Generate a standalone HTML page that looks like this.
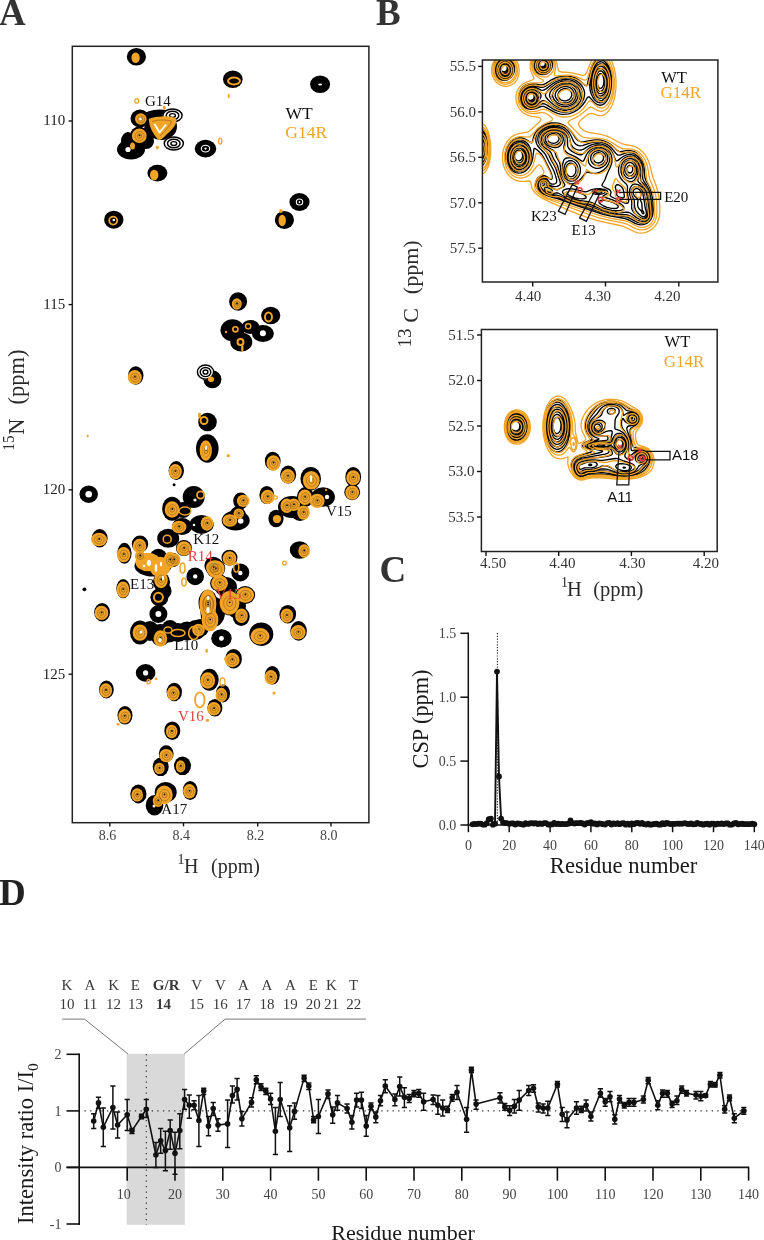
<!DOCTYPE html>
<html><head><meta charset="utf-8"><title>Figure</title>
<style>
html,body{margin:0;padding:0;background:#fff;}
body{width:764px;height:1240px;overflow:hidden;font-family:"Liberation Serif",serif;}
svg{display:block;will-change:transform;}
</style></head>
<body>
<svg width="764" height="1240" viewBox="0 0 764 1240">
<rect width="764" height="1240" fill="#fff"/>
<text x="-1.0" y="24.6" font-family="'Liberation Serif', serif" font-size="37" text-anchor="start" fill="#333" font-weight="bold" >A</text>
<text x="376.0" y="24.6" font-family="'Liberation Serif', serif" font-size="37" text-anchor="start" fill="#333" font-weight="bold" >B</text>
<text x="379.5" y="581.8" font-family="'Liberation Serif', serif" font-size="37" text-anchor="start" fill="#333" font-weight="bold" >C</text>
<text x="-1.0" y="905.1" font-family="'Liberation Serif', serif" font-size="37" text-anchor="start" fill="#222" font-weight="bold" >D</text>
<rect x="72.3" y="46.3" width="296.6" height="776.4" fill="none" stroke="#222" stroke-width="1.5"/>
<line x1="109.8" y1="822.7" x2="109.8" y2="826.4" stroke="#111" stroke-width="1.4" />
<text x="107.6" y="839.5" font-family="'Liberation Serif', serif" font-size="14" text-anchor="middle" fill="#444" font-weight="normal" >8.6</text>
<line x1="183.5" y1="822.7" x2="183.5" y2="826.4" stroke="#111" stroke-width="1.4" />
<text x="181.3" y="839.5" font-family="'Liberation Serif', serif" font-size="14" text-anchor="middle" fill="#444" font-weight="normal" >8.4</text>
<line x1="257.7" y1="822.7" x2="257.7" y2="826.4" stroke="#111" stroke-width="1.4" />
<text x="255.5" y="839.5" font-family="'Liberation Serif', serif" font-size="14" text-anchor="middle" fill="#444" font-weight="normal" >8.2</text>
<line x1="331.0" y1="822.7" x2="331.0" y2="826.4" stroke="#111" stroke-width="1.4" />
<text x="328.8" y="839.5" font-family="'Liberation Serif', serif" font-size="14" text-anchor="middle" fill="#444" font-weight="normal" >8.0</text>
<line x1="68.6" y1="121.0" x2="72.3" y2="121.0" stroke="#111" stroke-width="1.4" />
<text x="65.3" y="125.3" font-family="'Liberation Serif', serif" font-size="15" text-anchor="end" fill="#222" font-weight="normal" >110</text>
<line x1="68.6" y1="304.6" x2="72.3" y2="304.6" stroke="#111" stroke-width="1.4" />
<text x="65.3" y="308.9" font-family="'Liberation Serif', serif" font-size="15" text-anchor="end" fill="#222" font-weight="normal" >115</text>
<line x1="68.6" y1="489.8" x2="72.3" y2="489.8" stroke="#111" stroke-width="1.4" />
<text x="65.3" y="494.1" font-family="'Liberation Serif', serif" font-size="15" text-anchor="end" fill="#222" font-weight="normal" >120</text>
<line x1="68.6" y1="674.2" x2="72.3" y2="674.2" stroke="#111" stroke-width="1.4" />
<text x="65.3" y="678.5" font-family="'Liberation Serif', serif" font-size="15" text-anchor="end" fill="#222" font-weight="normal" >125</text>
<text x="14.0" y="450.6" font-family="'Liberation Serif', serif" font-size="17.5" text-anchor="start" fill="#2a2a2a" font-weight="normal" textLength="15" lengthAdjust="spacingAndGlyphs" transform="rotate(-90 14.0 450.6)">15</text>
<text x="23.7" y="434.8" font-family="'Liberation Serif', serif" font-size="22.5" text-anchor="start" fill="#2a2a2a" font-weight="normal" transform="rotate(-90 23.7 434.8)">N</text>
<text x="23.7" y="404.6" font-family="'Liberation Serif', serif" font-size="22.5" text-anchor="start" fill="#2a2a2a" font-weight="normal" transform="rotate(-90 23.7 404.6)">(ppm)</text>
<text x="177.6" y="863.7" font-family="'Liberation Serif', serif" font-size="14" text-anchor="start" fill="#2a2a2a" font-weight="normal" >1</text>
<text x="184.0" y="872.9" font-family="'Liberation Serif', serif" font-size="20" text-anchor="start" fill="#2a2a2a" font-weight="normal" >H</text>
<text x="211.0" y="872.9" font-family="'Liberation Serif', serif" font-size="20" text-anchor="start" fill="#2a2a2a" font-weight="normal" >(ppm)</text>
<ellipse cx="136.4" cy="56.7" rx="9.6" ry="8.8" fill="#000" />
<ellipse cx="140.0" cy="118.5" rx="9.5" ry="9.0" fill="#000" />
<ellipse cx="161.5" cy="126.5" rx="15.5" ry="13.5" fill="#000" />
<ellipse cx="139.0" cy="135.5" rx="9.0" ry="9.0" fill="#000" />
<ellipse cx="131.0" cy="149.5" rx="14.0" ry="10.0" fill="#000" />
<ellipse cx="146.0" cy="141.0" rx="8.0" ry="8.0" fill="#000" />
<ellipse cx="160.0" cy="115.5" rx="16.0" ry="6.0" fill="#000" />
<ellipse cx="128.0" cy="141.0" rx="7.0" ry="9.0" fill="#000" />
<ellipse cx="150.0" cy="130.0" rx="6.0" ry="10.0" fill="#000" />
<ellipse cx="205.5" cy="148.6" rx="10.8" ry="8.8" fill="#000" />
<ellipse cx="157.4" cy="173.1" rx="10.0" ry="8.4" fill="#000" />
<ellipse cx="232.8" cy="79.3" rx="9.8" ry="8.8" fill="#000" />
<ellipse cx="320.1" cy="84.2" rx="10.0" ry="8.8" fill="#000" />
<ellipse cx="113.8" cy="219.7" rx="9.7" ry="9.0" fill="#000" />
<ellipse cx="299.5" cy="202.0" rx="10.1" ry="9.0" fill="#000" />
<ellipse cx="284.4" cy="219.9" rx="9.6" ry="9.0" fill="#000" />
<ellipse cx="238.1" cy="301.5" rx="9.0" ry="9.3" fill="#000" />
<ellipse cx="270.7" cy="315.5" rx="9.6" ry="8.8" fill="#000" />
<ellipse cx="232.5" cy="330.2" rx="12.0" ry="11.0" fill="#000" />
<ellipse cx="241.3" cy="342.0" rx="11.0" ry="9.5" fill="#000" />
<ellipse cx="262.9" cy="333.6" rx="11.0" ry="8.5" fill="#000" />
<ellipse cx="250.5" cy="327.0" rx="9.0" ry="7.0" fill="#000" />
<ellipse cx="212.4" cy="379.3" rx="9.0" ry="9.0" fill="#000" />
<ellipse cx="207.5" cy="422.0" rx="9.3" ry="9.3" fill="#000" />
<ellipse cx="207.3" cy="448.5" rx="11.3" ry="14.2" fill="#000" />
<ellipse cx="135.8" cy="375.5" rx="7.7" ry="9.2" fill="#000" />
<ellipse cx="176.3" cy="470.6" rx="7.7" ry="9.5" fill="#000" />
<ellipse cx="174.1" cy="484.8" rx="1.5" ry="1.5" fill="#000" />
<ellipse cx="272.7" cy="461.0" rx="7.9" ry="9.3" fill="#000" />
<ellipse cx="288.2" cy="474.6" rx="8.0" ry="9.0" fill="#000" />
<ellipse cx="310.7" cy="478.7" rx="10.3" ry="11.8" fill="#000" />
<ellipse cx="353.2" cy="476.9" rx="7.9" ry="10.0" fill="#000" />
<ellipse cx="352.2" cy="492.2" rx="7.9" ry="8.0" fill="#000" />
<ellipse cx="266.8" cy="495.0" rx="7.4" ry="9.1" fill="#000" />
<ellipse cx="305.4" cy="497.0" rx="8.5" ry="10.0" fill="#000" />
<ellipse cx="323.1" cy="497.0" rx="11.8" ry="9.8" fill="#000" />
<ellipse cx="292.0" cy="507.0" rx="14.0" ry="11.0" fill="#000" />
<ellipse cx="300.0" cy="512.0" rx="9.0" ry="9.0" fill="#000" />
<ellipse cx="276.0" cy="518.5" rx="7.6" ry="8.8" fill="#000" />
<ellipse cx="240.7" cy="500.9" rx="7.5" ry="8.5" fill="#000" />
<ellipse cx="237.7" cy="514.6" rx="8.0" ry="8.0" fill="#000" />
<ellipse cx="235.7" cy="520.5" rx="14.0" ry="10.0" fill="#000" />
<ellipse cx="299.6" cy="550.0" rx="9.8" ry="8.8" fill="#000" />
<ellipse cx="229.5" cy="557.7" rx="8.0" ry="8.0" fill="#000" />
<ellipse cx="215.7" cy="568.5" rx="9.5" ry="9.5" fill="#000" />
<ellipse cx="240.3" cy="572.4" rx="9.0" ry="9.0" fill="#000" />
<ellipse cx="219.6" cy="583.2" rx="9.5" ry="8.5" fill="#000" />
<ellipse cx="245.2" cy="595.0" rx="10.0" ry="9.0" fill="#000" />
<ellipse cx="229.5" cy="602.8" rx="10.5" ry="12.5" fill="#000" />
<ellipse cx="207.9" cy="602.8" rx="9.5" ry="13.0" fill="#000" />
<ellipse cx="241.2" cy="616.6" rx="8.5" ry="9.5" fill="#000" />
<ellipse cx="211.8" cy="618.5" rx="9.0" ry="9.0" fill="#000" />
<ellipse cx="221.6" cy="638.2" rx="10.0" ry="9.0" fill="#000" />
<ellipse cx="226.0" cy="587.0" rx="11.0" ry="10.0" fill="#000" />
<ellipse cx="236.0" cy="606.0" rx="10.0" ry="12.0" fill="#000" />
<ellipse cx="214.0" cy="612.0" rx="11.0" ry="15.0" fill="#000" />
<ellipse cx="200.0" cy="628.0" rx="9.0" ry="9.0" fill="#000" />
<ellipse cx="88.7" cy="494.2" rx="9.2" ry="8.7" fill="#000" />
<ellipse cx="99.7" cy="538.2" rx="7.9" ry="9.2" fill="#000" />
<ellipse cx="193.7" cy="497.0" rx="11.0" ry="11.0" fill="#000" />
<ellipse cx="172.1" cy="508.7" rx="10.0" ry="12.0" fill="#000" />
<ellipse cx="182.0" cy="526.4" rx="10.0" ry="8.5" fill="#000" />
<ellipse cx="201.6" cy="524.4" rx="12.0" ry="9.5" fill="#000" />
<ellipse cx="168.2" cy="538.2" rx="11.0" ry="9.5" fill="#000" />
<ellipse cx="183.0" cy="510.0" rx="8.0" ry="8.0" fill="#000" />
<ellipse cx="124.4" cy="553.3" rx="7.2" ry="10.5" fill="#000" />
<ellipse cx="140.0" cy="544.1" rx="8.2" ry="8.5" fill="#000" />
<ellipse cx="158.4" cy="557.8" rx="9.0" ry="9.0" fill="#000" />
<ellipse cx="153.0" cy="566.0" rx="18.5" ry="10.5" fill="#000" />
<ellipse cx="161.5" cy="582.0" rx="8.5" ry="9.5" fill="#000" />
<ellipse cx="166.0" cy="591.0" rx="5.5" ry="7.0" fill="#000" />
<ellipse cx="183.9" cy="548.0" rx="8.0" ry="8.0" fill="#000" />
<ellipse cx="173.0" cy="560.0" rx="7.0" ry="7.0" fill="#000" />
<ellipse cx="195.2" cy="576.4" rx="8.8" ry="8.8" fill="#000" />
<ellipse cx="213.4" cy="565.7" rx="9.0" ry="9.0" fill="#000" />
<ellipse cx="123.2" cy="588.6" rx="6.8" ry="9.6" fill="#000" />
<ellipse cx="84.4" cy="589.3" rx="1.9" ry="1.9" fill="#000" />
<ellipse cx="102.1" cy="612.2" rx="7.9" ry="9.2" fill="#000" />
<ellipse cx="159.4" cy="597.3" rx="9.0" ry="9.0" fill="#000" />
<ellipse cx="158.4" cy="614.0" rx="9.0" ry="9.0" fill="#000" />
<ellipse cx="140.0" cy="632.6" rx="10.0" ry="12.0" fill="#000" />
<ellipse cx="160.4" cy="635.0" rx="10.0" ry="11.0" fill="#000" />
<ellipse cx="178.0" cy="632.6" rx="10.0" ry="9.5" fill="#000" />
<ellipse cx="195.7" cy="630.0" rx="10.0" ry="10.0" fill="#000" />
<ellipse cx="209.4" cy="612.0" rx="9.0" ry="16.0" fill="#000" />
<ellipse cx="170.0" cy="628.0" rx="8.0" ry="8.0" fill="#000" />
<ellipse cx="168.0" cy="633.0" rx="12.0" ry="9.5" fill="#000" />
<ellipse cx="187.0" cy="631.0" rx="10.0" ry="9.5" fill="#000" />
<ellipse cx="150.0" cy="631.0" rx="9.0" ry="10.0" fill="#000" />
<ellipse cx="221.3" cy="638.5" rx="10.0" ry="9.0" fill="#000" />
<ellipse cx="145.6" cy="672.9" rx="9.8" ry="8.8" fill="#000" />
<ellipse cx="106.4" cy="689.5" rx="7.4" ry="9.0" fill="#000" />
<ellipse cx="174.3" cy="692.0" rx="7.7" ry="9.3" fill="#000" />
<ellipse cx="209.4" cy="679.8" rx="9.3" ry="11.0" fill="#000" />
<ellipse cx="223.0" cy="693.4" rx="7.0" ry="9.0" fill="#000" />
<ellipse cx="214.9" cy="707.7" rx="7.5" ry="8.8" fill="#000" />
<ellipse cx="233.6" cy="658.8" rx="8.3" ry="9.8" fill="#000" />
<ellipse cx="261.3" cy="634.2" rx="12.0" ry="11.8" fill="#000" />
<ellipse cx="287.8" cy="614.2" rx="8.3" ry="9.3" fill="#000" />
<ellipse cx="298.6" cy="630.9" rx="8.3" ry="9.8" fill="#000" />
<ellipse cx="272.3" cy="675.3" rx="7.4" ry="9.3" fill="#000" />
<ellipse cx="125.0" cy="715.3" rx="7.5" ry="9.3" fill="#000" />
<ellipse cx="172.3" cy="730.7" rx="8.0" ry="9.3" fill="#000" />
<ellipse cx="166.2" cy="753.8" rx="7.4" ry="8.5" fill="#000" />
<ellipse cx="160.7" cy="766.8" rx="8.0" ry="9.3" fill="#000" />
<ellipse cx="182.5" cy="765.8" rx="8.5" ry="9.3" fill="#000" />
<ellipse cx="138.4" cy="793.9" rx="8.1" ry="9.5" fill="#000" />
<ellipse cx="165.7" cy="792.3" rx="11.0" ry="10.3" fill="#000" />
<ellipse cx="154.5" cy="805.3" rx="8.8" ry="10.3" fill="#000" />
<ellipse cx="190.2" cy="790.5" rx="7.4" ry="9.5" fill="#000" />
<ellipse cx="128.0" cy="149.5" rx="2.6" ry="2.6" fill="#fff" />
<ellipse cx="205.5" cy="148.6" rx="1.1" ry="1.1" fill="#fff" />
<ellipse cx="320.1" cy="84.5" rx="2.0" ry="1.0" fill="#fff" />
<ellipse cx="113.8" cy="220.0" rx="1.3" ry="1.3" fill="#fff" />
<ellipse cx="299.5" cy="202.0" rx="0.9" ry="0.9" fill="#fff" />
<ellipse cx="237.5" cy="303.5" rx="1.3" ry="1.3" fill="#fff" />
<ellipse cx="262.9" cy="333.2" rx="3.0" ry="3.0" fill="#fff" />
<ellipse cx="135.5" cy="376.5" rx="1.3" ry="1.3" fill="#fff" />
<ellipse cx="175.5" cy="471.0" rx="1.3" ry="1.3" fill="#fff" />
<ellipse cx="273.0" cy="462.5" rx="1.2" ry="1.2" fill="#fff" />
<ellipse cx="327.0" cy="497.0" rx="2.2" ry="2.2" fill="#fff" />
<ellipse cx="240.7" cy="521.0" rx="2.8" ry="2.8" fill="#fff" />
<ellipse cx="240.3" cy="573.0" rx="2.2" ry="2.2" fill="#fff" />
<ellipse cx="221.6" cy="638.2" rx="2.2" ry="2.2" fill="#fff" />
<ellipse cx="241.0" cy="596.0" rx="1.3" ry="1.3" fill="#fff" />
<ellipse cx="229.0" cy="604.0" rx="1.3" ry="1.5" fill="#fff" />
<ellipse cx="207.0" cy="604.0" rx="1.3" ry="2.5" fill="#fff" />
<ellipse cx="88.7" cy="494.2" rx="3.3" ry="3.3" fill="#fff" />
<ellipse cx="99.2" cy="538.5" rx="1.3" ry="1.3" fill="#fff" />
<ellipse cx="195.0" cy="500.0" rx="1.6" ry="1.6" fill="#fff" />
<ellipse cx="194.0" cy="525.0" rx="1.3" ry="1.3" fill="#fff" />
<ellipse cx="172.0" cy="508.0" rx="1.3" ry="1.3" fill="#fff" />
<ellipse cx="124.0" cy="553.5" rx="1.3" ry="1.3" fill="#fff" />
<ellipse cx="195.2" cy="576.4" rx="2.2" ry="2.2" fill="#fff" />
<ellipse cx="123.5" cy="589.0" rx="1.2" ry="1.2" fill="#fff" />
<ellipse cx="158.4" cy="614.0" rx="3.0" ry="3.0" fill="#fff" />
<ellipse cx="221.3" cy="638.5" rx="2.2" ry="2.2" fill="#fff" />
<ellipse cx="145.6" cy="672.9" rx="2.6" ry="2.6" fill="#fff" />
<ellipse cx="154.0" cy="806.0" rx="1.5" ry="1.5" fill="#fff" />
<ellipse cx="205.5" cy="148.6" rx="4.2" ry="3.4" fill="none" stroke="#fff" stroke-width="1.1" />
<ellipse cx="299.5" cy="202.0" rx="3.2" ry="3.0" fill="none" stroke="#fff" stroke-width="1.1" />
<ellipse cx="172.5" cy="115.5" rx="10.0" ry="7.0" fill="#fff" />
<ellipse cx="172.5" cy="115.5" rx="9.6" ry="6.6" fill="none" stroke="#000" stroke-width="1.45" />
<ellipse cx="172.5" cy="115.5" rx="6.3" ry="4.3" fill="none" stroke="#000" stroke-width="1.45" />
<ellipse cx="172.5" cy="115.5" rx="2.9" ry="1.9" fill="none" stroke="#000" stroke-width="1.45" />
<ellipse cx="173.8" cy="143.5" rx="10.0" ry="7.0" fill="#fff" />
<ellipse cx="173.8" cy="143.5" rx="9.6" ry="6.6" fill="none" stroke="#000" stroke-width="1.45" />
<ellipse cx="173.8" cy="143.5" rx="6.3" ry="4.3" fill="none" stroke="#000" stroke-width="1.45" />
<ellipse cx="173.8" cy="143.5" rx="2.9" ry="1.9" fill="none" stroke="#000" stroke-width="1.45" />
<ellipse cx="205.5" cy="372.0" rx="8.5" ry="7.5" fill="#fff" />
<ellipse cx="205.5" cy="372.0" rx="8.1" ry="7.1" fill="none" stroke="#000" stroke-width="1.45" />
<ellipse cx="205.5" cy="372.0" rx="5.3" ry="4.6" fill="none" stroke="#000" stroke-width="1.45" />
<ellipse cx="205.5" cy="372.0" rx="2.4" ry="2.1" fill="none" stroke="#000" stroke-width="1.45" />
<ellipse cx="135.6" cy="57.8" rx="4.2" ry="5.2" fill="#F2A427" />
<ellipse cx="140.8" cy="119.0" rx="5.8" ry="5.7" fill="#F2A427" />
<ellipse cx="139.3" cy="135.8" rx="7.4" ry="7.2" fill="#F2A427" />
<ellipse cx="132.5" cy="146.0" rx="2.5" ry="3.6" fill="#F2A427" />
<ellipse cx="157.4" cy="147.6" rx="1.6" ry="1.8" fill="#F2A427" />
<ellipse cx="164.3" cy="107.7" rx="1.5" ry="2.0" fill="#F2A427" />
<ellipse cx="154.2" cy="175.0" rx="4.2" ry="5.2" fill="#F2A427" />
<ellipse cx="228.8" cy="96.0" rx="1.0" ry="2.2" fill="#F2A427" />
<ellipse cx="282.2" cy="220.5" rx="3.7" ry="5.7" fill="#F2A427" />
<ellipse cx="280.9" cy="211.0" rx="1.7" ry="2.0" fill="#F2A427" />
<ellipse cx="236.8" cy="304.0" rx="5.0" ry="5.7" fill="#F2A427" />
<ellipse cx="242.3" cy="348.0" rx="1.2" ry="4.1" fill="#F2A427" />
<ellipse cx="226.0" cy="332.0" rx="1.2" ry="1.2" fill="#F2A427" />
<ellipse cx="211.0" cy="379.3" rx="3.0" ry="2.8" fill="#F2A427" />
<ellipse cx="199.5" cy="415.5" rx="1.5" ry="3.0" fill="#F2A427" />
<ellipse cx="205.8" cy="450.5" rx="6.1" ry="10.3" fill="#F2A427" />
<ellipse cx="134.8" cy="377.3" rx="7.0" ry="7.3" fill="#F2A427" />
<ellipse cx="175.3" cy="471.6" rx="6.5" ry="7.6" fill="#F2A427" />
<ellipse cx="87.7" cy="436.0" rx="1.0" ry="1.6" fill="#F2A427" />
<ellipse cx="228.3" cy="455.7" rx="1.6" ry="1.6" fill="#F2A427" />
<ellipse cx="273.4" cy="463.0" rx="6.9" ry="7.8" fill="#F2A427" />
<ellipse cx="287.8" cy="476.3" rx="6.9" ry="7.2" fill="#F2A427" />
<ellipse cx="311.3" cy="480.3" rx="8.4" ry="9.3" fill="#F2A427" />
<ellipse cx="353.2" cy="477.7" rx="6.9" ry="7.4" fill="#F2A427" />
<ellipse cx="352.2" cy="492.6" rx="6.9" ry="7.2" fill="#F2A427" />
<ellipse cx="267.6" cy="497.0" rx="6.9" ry="7.2" fill="#F2A427" />
<ellipse cx="304.9" cy="497.3" rx="6.9" ry="7.8" fill="#F2A427" />
<ellipse cx="317.2" cy="500.9" rx="7.4" ry="7.2" fill="#F2A427" />
<ellipse cx="326.0" cy="490.0" rx="1.0" ry="1.2" fill="#F2A427" />
<ellipse cx="286.8" cy="505.8" rx="6.3" ry="7.2" fill="#F2A427" />
<ellipse cx="293.7" cy="504.8" rx="6.3" ry="6.2" fill="#F2A427" />
<ellipse cx="303.5" cy="512.6" rx="6.3" ry="7.2" fill="#F2A427" />
<ellipse cx="277.0" cy="519.0" rx="4.2" ry="4.1" fill="#F2A427" />
<ellipse cx="243.2" cy="500.9" rx="6.3" ry="6.2" fill="#F2A427" />
<ellipse cx="238.7" cy="513.6" rx="5.2" ry="5.2" fill="#F2A427" />
<ellipse cx="229.9" cy="520.5" rx="7.4" ry="6.2" fill="#F2A427" />
<ellipse cx="304.1" cy="551.0" rx="5.8" ry="6.7" fill="#F2A427" />
<ellipse cx="229.5" cy="558.5" rx="6.8" ry="7.2" fill="#F2A427" />
<ellipse cx="215.7" cy="569.0" rx="8.9" ry="8.8" fill="#F2A427" />
<ellipse cx="219.6" cy="583.2" rx="8.4" ry="7.7" fill="#F2A427" />
<ellipse cx="245.2" cy="595.0" rx="8.9" ry="7.7" fill="#F2A427" />
<ellipse cx="229.5" cy="602.8" rx="10.0" ry="11.8" fill="#F2A427" />
<ellipse cx="207.9" cy="602.8" rx="8.4" ry="12.4" fill="#F2A427" />
<ellipse cx="241.5" cy="615.8" rx="6.3" ry="7.2" fill="#F2A427" />
<ellipse cx="210.0" cy="620.0" rx="8.4" ry="11.3" fill="#F2A427" />
<ellipse cx="198.5" cy="630.0" rx="6.3" ry="6.2" fill="#F2A427" />
<ellipse cx="99.0" cy="539.5" rx="8.0" ry="6.7" fill="#F2A427" />
<ellipse cx="172.1" cy="509.5" rx="7.4" ry="8.2" fill="#F2A427" />
<ellipse cx="179.0" cy="527.0" rx="7.4" ry="6.2" fill="#F2A427" />
<ellipse cx="207.0" cy="523.5" rx="6.3" ry="7.2" fill="#F2A427" />
<ellipse cx="123.7" cy="554.6" rx="6.8" ry="7.7" fill="#F2A427" />
<ellipse cx="139.5" cy="546.0" rx="6.8" ry="7.2" fill="#F2A427" />
<ellipse cx="148.0" cy="562.0" rx="12.6" ry="9.3" fill="#F2A427" />
<ellipse cx="160.0" cy="567.0" rx="10.5" ry="10.3" fill="#F2A427" />
<ellipse cx="161.0" cy="580.0" rx="6.8" ry="8.2" fill="#F2A427" />
<ellipse cx="170.0" cy="560.0" rx="6.3" ry="8.2" fill="#F2A427" />
<ellipse cx="183.9" cy="548.5" rx="7.4" ry="7.2" fill="#F2A427" />
<ellipse cx="174.1" cy="559.8" rx="6.3" ry="6.2" fill="#F2A427" />
<ellipse cx="140.0" cy="556.0" rx="5.2" ry="5.2" fill="#F2A427" />
<ellipse cx="213.4" cy="567.6" rx="7.4" ry="7.2" fill="#F2A427" />
<ellipse cx="123.0" cy="589.6" rx="6.3" ry="8.2" fill="#F2A427" />
<ellipse cx="101.5" cy="612.9" rx="6.8" ry="7.2" fill="#F2A427" />
<ellipse cx="140.0" cy="632.6" rx="7.4" ry="8.2" fill="#F2A427" />
<ellipse cx="160.4" cy="638.5" rx="6.8" ry="8.2" fill="#F2A427" />
<ellipse cx="207.9" cy="605.0" rx="8.4" ry="15.5" fill="#F2A427" />
<ellipse cx="156.0" cy="678.8" rx="1.4" ry="1.4" fill="#F2A427" />
<ellipse cx="105.8" cy="690.5" rx="6.3" ry="7.2" fill="#F2A427" />
<ellipse cx="173.3" cy="693.3" rx="6.3" ry="7.2" fill="#F2A427" />
<ellipse cx="207.7" cy="680.5" rx="7.4" ry="8.2" fill="#F2A427" />
<ellipse cx="221.4" cy="695.0" rx="5.8" ry="7.2" fill="#F2A427" />
<ellipse cx="213.9" cy="708.7" rx="6.8" ry="6.7" fill="#F2A427" />
<ellipse cx="232.2" cy="660.0" rx="7.4" ry="7.2" fill="#F2A427" />
<ellipse cx="226.0" cy="659.0" rx="2.0" ry="2.0" fill="#F2A427" />
<ellipse cx="260.0" cy="636.2" rx="9.5" ry="8.2" fill="#F2A427" />
<ellipse cx="286.8" cy="615.6" rx="6.3" ry="7.2" fill="#F2A427" />
<ellipse cx="298.2" cy="632.3" rx="7.4" ry="7.2" fill="#F2A427" />
<ellipse cx="270.9" cy="677.3" rx="6.3" ry="7.2" fill="#F2A427" />
<ellipse cx="274.0" cy="693.0" rx="1.6" ry="1.6" fill="#F2A427" />
<ellipse cx="124.6" cy="716.3" rx="6.3" ry="7.2" fill="#F2A427" />
<ellipse cx="118.1" cy="724.2" rx="1.5" ry="1.5" fill="#F2A427" />
<ellipse cx="171.7" cy="731.5" rx="5.8" ry="6.7" fill="#F2A427" />
<ellipse cx="166.2" cy="755.6" rx="6.8" ry="6.7" fill="#F2A427" />
<ellipse cx="159.4" cy="768.4" rx="5.2" ry="5.7" fill="#F2A427" />
<ellipse cx="180.6" cy="766.4" rx="4.7" ry="6.2" fill="#F2A427" />
<ellipse cx="137.2" cy="794.9" rx="5.8" ry="6.7" fill="#F2A427" />
<ellipse cx="164.3" cy="794.9" rx="8.4" ry="9.3" fill="#F2A427" />
<ellipse cx="158.0" cy="800.8" rx="5.2" ry="6.2" fill="#F2A427" />
<ellipse cx="189.4" cy="791.3" rx="6.3" ry="7.2" fill="#F2A427" />
<ellipse cx="207.5" cy="720.3" rx="1.6" ry="1.6" fill="#F2A427" />
<ellipse cx="206.7" cy="650.8" rx="1.3" ry="2.0" fill="#F2A427" />
<ellipse cx="141.1" cy="119.3" rx="3.6" ry="3.5" fill="none" stroke="#3a2a10" stroke-width="0.7" opacity="0.45"/>
<ellipse cx="141.0" cy="119.2" rx="1.7" ry="1.7" fill="none" stroke="#3a2a10" stroke-width="0.7" opacity="0.5"/>
<ellipse cx="141.0" cy="118.5" rx="0.9" ry="0.9" fill="#111" />
<ellipse cx="139.6" cy="136.1" rx="4.6" ry="4.5" fill="none" stroke="#3a2a10" stroke-width="0.7" opacity="0.45"/>
<ellipse cx="139.5" cy="136.0" rx="2.2" ry="2.2" fill="none" stroke="#3a2a10" stroke-width="0.7" opacity="0.5"/>
<ellipse cx="139.5" cy="135.3" rx="0.9" ry="0.9" fill="#111" />
<ellipse cx="237.1" cy="304.3" rx="3.1" ry="3.5" fill="none" stroke="#3a2a10" stroke-width="0.7" opacity="0.45"/>
<ellipse cx="237.0" cy="304.2" rx="1.5" ry="1.7" fill="none" stroke="#3a2a10" stroke-width="0.7" opacity="0.5"/>
<ellipse cx="237.0" cy="303.5" rx="0.9" ry="0.9" fill="#111" />
<ellipse cx="206.1" cy="450.8" rx="3.8" ry="6.4" fill="none" stroke="#3a2a10" stroke-width="0.7" opacity="0.45"/>
<ellipse cx="206.0" cy="450.7" rx="1.8" ry="3.1" fill="none" stroke="#3a2a10" stroke-width="0.7" opacity="0.5"/>
<ellipse cx="206.0" cy="450.0" rx="0.9" ry="0.9" fill="#111" />
<ellipse cx="135.1" cy="377.6" rx="4.4" ry="4.5" fill="none" stroke="#3a2a10" stroke-width="0.7" opacity="0.45"/>
<ellipse cx="135.0" cy="377.5" rx="2.1" ry="2.2" fill="none" stroke="#3a2a10" stroke-width="0.7" opacity="0.5"/>
<ellipse cx="135.0" cy="376.8" rx="0.9" ry="0.9" fill="#111" />
<ellipse cx="175.6" cy="471.9" rx="4.0" ry="4.7" fill="none" stroke="#3a2a10" stroke-width="0.7" opacity="0.45"/>
<ellipse cx="175.5" cy="471.8" rx="2.0" ry="2.3" fill="none" stroke="#3a2a10" stroke-width="0.7" opacity="0.5"/>
<ellipse cx="175.5" cy="471.1" rx="0.9" ry="0.9" fill="#111" />
<ellipse cx="273.7" cy="463.3" rx="4.3" ry="4.9" fill="none" stroke="#3a2a10" stroke-width="0.7" opacity="0.45"/>
<ellipse cx="273.6" cy="463.2" rx="2.1" ry="2.3" fill="none" stroke="#3a2a10" stroke-width="0.7" opacity="0.5"/>
<ellipse cx="273.6" cy="462.5" rx="0.9" ry="0.9" fill="#111" />
<ellipse cx="288.1" cy="476.6" rx="4.3" ry="4.5" fill="none" stroke="#3a2a10" stroke-width="0.7" opacity="0.45"/>
<ellipse cx="288.0" cy="476.5" rx="2.1" ry="2.2" fill="none" stroke="#3a2a10" stroke-width="0.7" opacity="0.5"/>
<ellipse cx="288.0" cy="475.8" rx="0.9" ry="0.9" fill="#111" />
<ellipse cx="311.6" cy="480.6" rx="5.2" ry="5.7" fill="none" stroke="#3a2a10" stroke-width="0.7" opacity="0.45"/>
<ellipse cx="311.5" cy="480.5" rx="2.5" ry="2.8" fill="none" stroke="#3a2a10" stroke-width="0.7" opacity="0.5"/>
<ellipse cx="311.5" cy="479.8" rx="0.9" ry="0.9" fill="#111" />
<ellipse cx="353.5" cy="478.0" rx="4.3" ry="4.6" fill="none" stroke="#3a2a10" stroke-width="0.7" opacity="0.45"/>
<ellipse cx="353.4" cy="477.9" rx="2.1" ry="2.2" fill="none" stroke="#3a2a10" stroke-width="0.7" opacity="0.5"/>
<ellipse cx="353.4" cy="477.2" rx="0.9" ry="0.9" fill="#111" />
<ellipse cx="352.5" cy="492.9" rx="4.3" ry="4.5" fill="none" stroke="#3a2a10" stroke-width="0.7" opacity="0.45"/>
<ellipse cx="352.4" cy="492.8" rx="2.1" ry="2.2" fill="none" stroke="#3a2a10" stroke-width="0.7" opacity="0.5"/>
<ellipse cx="352.4" cy="492.1" rx="0.9" ry="0.9" fill="#111" />
<ellipse cx="267.9" cy="497.3" rx="4.3" ry="4.5" fill="none" stroke="#3a2a10" stroke-width="0.7" opacity="0.45"/>
<ellipse cx="267.8" cy="497.2" rx="2.1" ry="2.2" fill="none" stroke="#3a2a10" stroke-width="0.7" opacity="0.5"/>
<ellipse cx="267.8" cy="496.5" rx="0.9" ry="0.9" fill="#111" />
<ellipse cx="305.2" cy="497.6" rx="4.3" ry="4.9" fill="none" stroke="#3a2a10" stroke-width="0.7" opacity="0.45"/>
<ellipse cx="305.1" cy="497.5" rx="2.1" ry="2.3" fill="none" stroke="#3a2a10" stroke-width="0.7" opacity="0.5"/>
<ellipse cx="305.1" cy="496.8" rx="0.9" ry="0.9" fill="#111" />
<ellipse cx="317.5" cy="501.2" rx="4.6" ry="4.5" fill="none" stroke="#3a2a10" stroke-width="0.7" opacity="0.45"/>
<ellipse cx="317.4" cy="501.1" rx="2.2" ry="2.2" fill="none" stroke="#3a2a10" stroke-width="0.7" opacity="0.5"/>
<ellipse cx="317.4" cy="500.4" rx="0.9" ry="0.9" fill="#111" />
<ellipse cx="287.1" cy="506.1" rx="3.9" ry="4.5" fill="none" stroke="#3a2a10" stroke-width="0.7" opacity="0.45"/>
<ellipse cx="287.0" cy="506.0" rx="1.9" ry="2.2" fill="none" stroke="#3a2a10" stroke-width="0.7" opacity="0.5"/>
<ellipse cx="287.0" cy="505.3" rx="0.9" ry="0.9" fill="#111" />
<ellipse cx="294.0" cy="505.1" rx="3.9" ry="3.8" fill="none" stroke="#3a2a10" stroke-width="0.7" opacity="0.45"/>
<ellipse cx="293.9" cy="505.0" rx="1.9" ry="1.9" fill="none" stroke="#3a2a10" stroke-width="0.7" opacity="0.5"/>
<ellipse cx="293.9" cy="504.3" rx="0.9" ry="0.9" fill="#111" />
<ellipse cx="303.8" cy="512.9" rx="3.9" ry="4.5" fill="none" stroke="#3a2a10" stroke-width="0.7" opacity="0.45"/>
<ellipse cx="303.7" cy="512.8" rx="1.9" ry="2.2" fill="none" stroke="#3a2a10" stroke-width="0.7" opacity="0.5"/>
<ellipse cx="303.7" cy="512.1" rx="0.9" ry="0.9" fill="#111" />
<ellipse cx="243.5" cy="501.2" rx="3.9" ry="3.8" fill="none" stroke="#3a2a10" stroke-width="0.7" opacity="0.45"/>
<ellipse cx="243.4" cy="501.1" rx="1.9" ry="1.9" fill="none" stroke="#3a2a10" stroke-width="0.7" opacity="0.5"/>
<ellipse cx="243.4" cy="500.4" rx="0.9" ry="0.9" fill="#111" />
<ellipse cx="239.0" cy="513.9" rx="3.3" ry="3.2" fill="none" stroke="#3a2a10" stroke-width="0.7" opacity="0.45"/>
<ellipse cx="238.9" cy="513.8" rx="1.6" ry="1.5" fill="none" stroke="#3a2a10" stroke-width="0.7" opacity="0.5"/>
<ellipse cx="238.9" cy="513.1" rx="0.9" ry="0.9" fill="#111" />
<ellipse cx="230.2" cy="520.8" rx="4.6" ry="3.8" fill="none" stroke="#3a2a10" stroke-width="0.7" opacity="0.45"/>
<ellipse cx="230.1" cy="520.7" rx="2.2" ry="1.9" fill="none" stroke="#3a2a10" stroke-width="0.7" opacity="0.5"/>
<ellipse cx="230.1" cy="520.0" rx="0.9" ry="0.9" fill="#111" />
<ellipse cx="304.4" cy="551.3" rx="3.6" ry="4.2" fill="none" stroke="#3a2a10" stroke-width="0.7" opacity="0.45"/>
<ellipse cx="304.3" cy="551.2" rx="1.7" ry="2.0" fill="none" stroke="#3a2a10" stroke-width="0.7" opacity="0.5"/>
<ellipse cx="304.3" cy="550.5" rx="0.9" ry="0.9" fill="#111" />
<ellipse cx="229.8" cy="558.8" rx="4.2" ry="4.5" fill="none" stroke="#3a2a10" stroke-width="0.7" opacity="0.45"/>
<ellipse cx="229.7" cy="558.7" rx="2.0" ry="2.2" fill="none" stroke="#3a2a10" stroke-width="0.7" opacity="0.5"/>
<ellipse cx="229.7" cy="558.0" rx="0.9" ry="0.9" fill="#111" />
<ellipse cx="216.0" cy="569.3" rx="5.5" ry="5.4" fill="none" stroke="#3a2a10" stroke-width="0.7" opacity="0.45"/>
<ellipse cx="215.9" cy="569.2" rx="2.7" ry="2.6" fill="none" stroke="#3a2a10" stroke-width="0.7" opacity="0.5"/>
<ellipse cx="215.9" cy="568.5" rx="0.9" ry="0.9" fill="#111" />
<ellipse cx="219.9" cy="583.5" rx="5.2" ry="4.8" fill="none" stroke="#3a2a10" stroke-width="0.7" opacity="0.45"/>
<ellipse cx="219.8" cy="583.4" rx="2.5" ry="2.3" fill="none" stroke="#3a2a10" stroke-width="0.7" opacity="0.5"/>
<ellipse cx="219.8" cy="582.7" rx="0.9" ry="0.9" fill="#111" />
<ellipse cx="245.5" cy="595.3" rx="5.5" ry="4.8" fill="none" stroke="#3a2a10" stroke-width="0.7" opacity="0.45"/>
<ellipse cx="245.4" cy="595.2" rx="2.7" ry="2.3" fill="none" stroke="#3a2a10" stroke-width="0.7" opacity="0.5"/>
<ellipse cx="245.4" cy="594.5" rx="0.9" ry="0.9" fill="#111" />
<ellipse cx="229.8" cy="603.1" rx="6.2" ry="7.3" fill="none" stroke="#3a2a10" stroke-width="0.7" opacity="0.45"/>
<ellipse cx="229.7" cy="603.0" rx="3.0" ry="3.6" fill="none" stroke="#3a2a10" stroke-width="0.7" opacity="0.5"/>
<ellipse cx="229.7" cy="602.3" rx="0.9" ry="0.9" fill="#111" />
<ellipse cx="208.2" cy="603.1" rx="5.2" ry="7.7" fill="none" stroke="#3a2a10" stroke-width="0.7" opacity="0.45"/>
<ellipse cx="208.1" cy="603.0" rx="2.5" ry="3.7" fill="none" stroke="#3a2a10" stroke-width="0.7" opacity="0.5"/>
<ellipse cx="208.1" cy="602.3" rx="0.9" ry="0.9" fill="#111" />
<ellipse cx="241.8" cy="616.1" rx="3.9" ry="4.5" fill="none" stroke="#3a2a10" stroke-width="0.7" opacity="0.45"/>
<ellipse cx="241.7" cy="616.0" rx="1.9" ry="2.2" fill="none" stroke="#3a2a10" stroke-width="0.7" opacity="0.5"/>
<ellipse cx="241.7" cy="615.3" rx="0.9" ry="0.9" fill="#111" />
<ellipse cx="210.3" cy="620.3" rx="5.2" ry="7.0" fill="none" stroke="#3a2a10" stroke-width="0.7" opacity="0.45"/>
<ellipse cx="210.2" cy="620.2" rx="2.5" ry="3.4" fill="none" stroke="#3a2a10" stroke-width="0.7" opacity="0.5"/>
<ellipse cx="210.2" cy="619.5" rx="0.9" ry="0.9" fill="#111" />
<ellipse cx="198.8" cy="630.3" rx="3.9" ry="3.8" fill="none" stroke="#3a2a10" stroke-width="0.7" opacity="0.45"/>
<ellipse cx="198.7" cy="630.2" rx="1.9" ry="1.9" fill="none" stroke="#3a2a10" stroke-width="0.7" opacity="0.5"/>
<ellipse cx="198.7" cy="629.5" rx="0.9" ry="0.9" fill="#111" />
<ellipse cx="99.3" cy="539.8" rx="4.9" ry="4.2" fill="none" stroke="#3a2a10" stroke-width="0.7" opacity="0.45"/>
<ellipse cx="99.2" cy="539.7" rx="2.4" ry="2.0" fill="none" stroke="#3a2a10" stroke-width="0.7" opacity="0.5"/>
<ellipse cx="99.2" cy="539.0" rx="0.9" ry="0.9" fill="#111" />
<ellipse cx="172.4" cy="509.8" rx="4.6" ry="5.1" fill="none" stroke="#3a2a10" stroke-width="0.7" opacity="0.45"/>
<ellipse cx="172.3" cy="509.7" rx="2.2" ry="2.5" fill="none" stroke="#3a2a10" stroke-width="0.7" opacity="0.5"/>
<ellipse cx="172.3" cy="509.0" rx="0.9" ry="0.9" fill="#111" />
<ellipse cx="179.3" cy="527.3" rx="4.6" ry="3.8" fill="none" stroke="#3a2a10" stroke-width="0.7" opacity="0.45"/>
<ellipse cx="179.2" cy="527.2" rx="2.2" ry="1.9" fill="none" stroke="#3a2a10" stroke-width="0.7" opacity="0.5"/>
<ellipse cx="179.2" cy="526.5" rx="0.9" ry="0.9" fill="#111" />
<ellipse cx="207.3" cy="523.8" rx="3.9" ry="4.5" fill="none" stroke="#3a2a10" stroke-width="0.7" opacity="0.45"/>
<ellipse cx="207.2" cy="523.7" rx="1.9" ry="2.2" fill="none" stroke="#3a2a10" stroke-width="0.7" opacity="0.5"/>
<ellipse cx="207.2" cy="523.0" rx="0.9" ry="0.9" fill="#111" />
<ellipse cx="124.0" cy="554.9" rx="4.2" ry="4.8" fill="none" stroke="#3a2a10" stroke-width="0.7" opacity="0.45"/>
<ellipse cx="123.9" cy="554.8" rx="2.0" ry="2.3" fill="none" stroke="#3a2a10" stroke-width="0.7" opacity="0.5"/>
<ellipse cx="123.9" cy="554.1" rx="0.9" ry="0.9" fill="#111" />
<ellipse cx="139.8" cy="546.3" rx="4.2" ry="4.5" fill="none" stroke="#3a2a10" stroke-width="0.7" opacity="0.45"/>
<ellipse cx="139.7" cy="546.2" rx="2.0" ry="2.2" fill="none" stroke="#3a2a10" stroke-width="0.7" opacity="0.5"/>
<ellipse cx="139.7" cy="545.5" rx="0.9" ry="0.9" fill="#111" />
<ellipse cx="161.3" cy="580.3" rx="4.2" ry="5.1" fill="none" stroke="#3a2a10" stroke-width="0.7" opacity="0.45"/>
<ellipse cx="161.2" cy="580.2" rx="2.0" ry="2.5" fill="none" stroke="#3a2a10" stroke-width="0.7" opacity="0.5"/>
<ellipse cx="161.2" cy="579.5" rx="0.9" ry="0.9" fill="#111" />
<ellipse cx="170.3" cy="560.3" rx="3.9" ry="5.1" fill="none" stroke="#3a2a10" stroke-width="0.7" opacity="0.45"/>
<ellipse cx="170.2" cy="560.2" rx="1.9" ry="2.5" fill="none" stroke="#3a2a10" stroke-width="0.7" opacity="0.5"/>
<ellipse cx="170.2" cy="559.5" rx="0.9" ry="0.9" fill="#111" />
<ellipse cx="184.2" cy="548.8" rx="4.6" ry="4.5" fill="none" stroke="#3a2a10" stroke-width="0.7" opacity="0.45"/>
<ellipse cx="184.1" cy="548.7" rx="2.2" ry="2.2" fill="none" stroke="#3a2a10" stroke-width="0.7" opacity="0.5"/>
<ellipse cx="184.1" cy="548.0" rx="0.9" ry="0.9" fill="#111" />
<ellipse cx="174.4" cy="560.1" rx="3.9" ry="3.8" fill="none" stroke="#3a2a10" stroke-width="0.7" opacity="0.45"/>
<ellipse cx="174.3" cy="560.0" rx="1.9" ry="1.9" fill="none" stroke="#3a2a10" stroke-width="0.7" opacity="0.5"/>
<ellipse cx="174.3" cy="559.3" rx="0.9" ry="0.9" fill="#111" />
<ellipse cx="140.3" cy="556.3" rx="3.3" ry="3.2" fill="none" stroke="#3a2a10" stroke-width="0.7" opacity="0.45"/>
<ellipse cx="140.2" cy="556.2" rx="1.6" ry="1.5" fill="none" stroke="#3a2a10" stroke-width="0.7" opacity="0.5"/>
<ellipse cx="140.2" cy="555.5" rx="0.9" ry="0.9" fill="#111" />
<ellipse cx="213.7" cy="567.9" rx="4.6" ry="4.5" fill="none" stroke="#3a2a10" stroke-width="0.7" opacity="0.45"/>
<ellipse cx="213.6" cy="567.8" rx="2.2" ry="2.2" fill="none" stroke="#3a2a10" stroke-width="0.7" opacity="0.5"/>
<ellipse cx="213.6" cy="567.1" rx="0.9" ry="0.9" fill="#111" />
<ellipse cx="123.3" cy="589.9" rx="3.9" ry="5.1" fill="none" stroke="#3a2a10" stroke-width="0.7" opacity="0.45"/>
<ellipse cx="123.2" cy="589.8" rx="1.9" ry="2.5" fill="none" stroke="#3a2a10" stroke-width="0.7" opacity="0.5"/>
<ellipse cx="123.2" cy="589.1" rx="0.9" ry="0.9" fill="#111" />
<ellipse cx="101.8" cy="613.2" rx="4.2" ry="4.5" fill="none" stroke="#3a2a10" stroke-width="0.7" opacity="0.45"/>
<ellipse cx="101.7" cy="613.1" rx="2.0" ry="2.2" fill="none" stroke="#3a2a10" stroke-width="0.7" opacity="0.5"/>
<ellipse cx="101.7" cy="612.4" rx="0.9" ry="0.9" fill="#111" />
<ellipse cx="140.3" cy="632.9" rx="4.6" ry="5.1" fill="none" stroke="#3a2a10" stroke-width="0.7" opacity="0.45"/>
<ellipse cx="140.2" cy="632.8" rx="2.2" ry="2.5" fill="none" stroke="#3a2a10" stroke-width="0.7" opacity="0.5"/>
<ellipse cx="140.2" cy="632.1" rx="0.9" ry="0.9" fill="#111" />
<ellipse cx="160.7" cy="638.8" rx="4.2" ry="5.1" fill="none" stroke="#3a2a10" stroke-width="0.7" opacity="0.45"/>
<ellipse cx="160.6" cy="638.7" rx="2.0" ry="2.5" fill="none" stroke="#3a2a10" stroke-width="0.7" opacity="0.5"/>
<ellipse cx="160.6" cy="638.0" rx="0.9" ry="0.9" fill="#111" />
<ellipse cx="208.2" cy="605.3" rx="5.2" ry="9.6" fill="none" stroke="#3a2a10" stroke-width="0.7" opacity="0.45"/>
<ellipse cx="208.1" cy="605.2" rx="2.5" ry="4.6" fill="none" stroke="#3a2a10" stroke-width="0.7" opacity="0.5"/>
<ellipse cx="208.1" cy="604.5" rx="0.9" ry="0.9" fill="#111" />
<ellipse cx="106.1" cy="690.8" rx="3.9" ry="4.5" fill="none" stroke="#3a2a10" stroke-width="0.7" opacity="0.45"/>
<ellipse cx="106.0" cy="690.7" rx="1.9" ry="2.2" fill="none" stroke="#3a2a10" stroke-width="0.7" opacity="0.5"/>
<ellipse cx="106.0" cy="690.0" rx="0.9" ry="0.9" fill="#111" />
<ellipse cx="173.6" cy="693.6" rx="3.9" ry="4.5" fill="none" stroke="#3a2a10" stroke-width="0.7" opacity="0.45"/>
<ellipse cx="173.5" cy="693.5" rx="1.9" ry="2.2" fill="none" stroke="#3a2a10" stroke-width="0.7" opacity="0.5"/>
<ellipse cx="173.5" cy="692.8" rx="0.9" ry="0.9" fill="#111" />
<ellipse cx="208.0" cy="680.8" rx="4.6" ry="5.1" fill="none" stroke="#3a2a10" stroke-width="0.7" opacity="0.45"/>
<ellipse cx="207.9" cy="680.7" rx="2.2" ry="2.5" fill="none" stroke="#3a2a10" stroke-width="0.7" opacity="0.5"/>
<ellipse cx="207.9" cy="680.0" rx="0.9" ry="0.9" fill="#111" />
<ellipse cx="221.7" cy="695.3" rx="3.6" ry="4.5" fill="none" stroke="#3a2a10" stroke-width="0.7" opacity="0.45"/>
<ellipse cx="221.6" cy="695.2" rx="1.7" ry="2.2" fill="none" stroke="#3a2a10" stroke-width="0.7" opacity="0.5"/>
<ellipse cx="221.6" cy="694.5" rx="0.9" ry="0.9" fill="#111" />
<ellipse cx="214.2" cy="709.0" rx="4.2" ry="4.2" fill="none" stroke="#3a2a10" stroke-width="0.7" opacity="0.45"/>
<ellipse cx="214.1" cy="708.9" rx="2.0" ry="2.0" fill="none" stroke="#3a2a10" stroke-width="0.7" opacity="0.5"/>
<ellipse cx="214.1" cy="708.2" rx="0.9" ry="0.9" fill="#111" />
<ellipse cx="232.5" cy="660.3" rx="4.6" ry="4.5" fill="none" stroke="#3a2a10" stroke-width="0.7" opacity="0.45"/>
<ellipse cx="232.4" cy="660.2" rx="2.2" ry="2.2" fill="none" stroke="#3a2a10" stroke-width="0.7" opacity="0.5"/>
<ellipse cx="232.4" cy="659.5" rx="0.9" ry="0.9" fill="#111" />
<ellipse cx="260.3" cy="636.5" rx="5.9" ry="5.1" fill="none" stroke="#3a2a10" stroke-width="0.7" opacity="0.45"/>
<ellipse cx="260.2" cy="636.4" rx="2.8" ry="2.5" fill="none" stroke="#3a2a10" stroke-width="0.7" opacity="0.5"/>
<ellipse cx="260.2" cy="635.7" rx="0.9" ry="0.9" fill="#111" />
<ellipse cx="287.1" cy="615.9" rx="3.9" ry="4.5" fill="none" stroke="#3a2a10" stroke-width="0.7" opacity="0.45"/>
<ellipse cx="287.0" cy="615.8" rx="1.9" ry="2.2" fill="none" stroke="#3a2a10" stroke-width="0.7" opacity="0.5"/>
<ellipse cx="287.0" cy="615.1" rx="0.9" ry="0.9" fill="#111" />
<ellipse cx="298.5" cy="632.6" rx="4.6" ry="4.5" fill="none" stroke="#3a2a10" stroke-width="0.7" opacity="0.45"/>
<ellipse cx="298.4" cy="632.5" rx="2.2" ry="2.2" fill="none" stroke="#3a2a10" stroke-width="0.7" opacity="0.5"/>
<ellipse cx="298.4" cy="631.8" rx="0.9" ry="0.9" fill="#111" />
<ellipse cx="271.2" cy="677.6" rx="3.9" ry="4.5" fill="none" stroke="#3a2a10" stroke-width="0.7" opacity="0.45"/>
<ellipse cx="271.1" cy="677.5" rx="1.9" ry="2.2" fill="none" stroke="#3a2a10" stroke-width="0.7" opacity="0.5"/>
<ellipse cx="271.1" cy="676.8" rx="0.9" ry="0.9" fill="#111" />
<ellipse cx="124.9" cy="716.6" rx="3.9" ry="4.5" fill="none" stroke="#3a2a10" stroke-width="0.7" opacity="0.45"/>
<ellipse cx="124.8" cy="716.5" rx="1.9" ry="2.2" fill="none" stroke="#3a2a10" stroke-width="0.7" opacity="0.5"/>
<ellipse cx="124.8" cy="715.8" rx="0.9" ry="0.9" fill="#111" />
<ellipse cx="172.0" cy="731.8" rx="3.6" ry="4.2" fill="none" stroke="#3a2a10" stroke-width="0.7" opacity="0.45"/>
<ellipse cx="171.9" cy="731.7" rx="1.7" ry="2.0" fill="none" stroke="#3a2a10" stroke-width="0.7" opacity="0.5"/>
<ellipse cx="171.9" cy="731.0" rx="0.9" ry="0.9" fill="#111" />
<ellipse cx="166.5" cy="755.9" rx="4.2" ry="4.2" fill="none" stroke="#3a2a10" stroke-width="0.7" opacity="0.45"/>
<ellipse cx="166.4" cy="755.8" rx="2.0" ry="2.0" fill="none" stroke="#3a2a10" stroke-width="0.7" opacity="0.5"/>
<ellipse cx="166.4" cy="755.1" rx="0.9" ry="0.9" fill="#111" />
<ellipse cx="159.7" cy="768.7" rx="3.3" ry="3.5" fill="none" stroke="#3a2a10" stroke-width="0.7" opacity="0.45"/>
<ellipse cx="159.6" cy="768.6" rx="1.6" ry="1.7" fill="none" stroke="#3a2a10" stroke-width="0.7" opacity="0.5"/>
<ellipse cx="159.6" cy="767.9" rx="0.9" ry="0.9" fill="#111" />
<ellipse cx="180.9" cy="766.7" rx="2.9" ry="3.8" fill="none" stroke="#3a2a10" stroke-width="0.7" opacity="0.45"/>
<ellipse cx="180.8" cy="766.6" rx="1.4" ry="1.9" fill="none" stroke="#3a2a10" stroke-width="0.7" opacity="0.5"/>
<ellipse cx="180.8" cy="765.9" rx="0.9" ry="0.9" fill="#111" />
<ellipse cx="137.5" cy="795.2" rx="3.6" ry="4.2" fill="none" stroke="#3a2a10" stroke-width="0.7" opacity="0.45"/>
<ellipse cx="137.4" cy="795.1" rx="1.7" ry="2.0" fill="none" stroke="#3a2a10" stroke-width="0.7" opacity="0.5"/>
<ellipse cx="137.4" cy="794.4" rx="0.9" ry="0.9" fill="#111" />
<ellipse cx="164.6" cy="795.2" rx="5.2" ry="5.7" fill="none" stroke="#3a2a10" stroke-width="0.7" opacity="0.45"/>
<ellipse cx="164.5" cy="795.1" rx="2.5" ry="2.8" fill="none" stroke="#3a2a10" stroke-width="0.7" opacity="0.5"/>
<ellipse cx="164.5" cy="794.4" rx="0.9" ry="0.9" fill="#111" />
<ellipse cx="158.3" cy="801.1" rx="3.3" ry="3.8" fill="none" stroke="#3a2a10" stroke-width="0.7" opacity="0.45"/>
<ellipse cx="158.2" cy="801.0" rx="1.6" ry="1.9" fill="none" stroke="#3a2a10" stroke-width="0.7" opacity="0.5"/>
<ellipse cx="158.2" cy="800.3" rx="0.9" ry="0.9" fill="#111" />
<ellipse cx="189.7" cy="791.6" rx="3.9" ry="4.5" fill="none" stroke="#3a2a10" stroke-width="0.7" opacity="0.45"/>
<ellipse cx="189.6" cy="791.5" rx="1.9" ry="2.2" fill="none" stroke="#3a2a10" stroke-width="0.7" opacity="0.5"/>
<ellipse cx="189.6" cy="790.8" rx="0.9" ry="0.9" fill="#111" />
<path d="M149.5,119.5 C155,116.5 168,116.5 175,118.5 C177,122 173,128 166,134 C163,137 161,140 158.5,139 C154,134 150,127 149.5,119.5Z" fill="#F2A427" stroke="#F2A427" stroke-width="1.5" stroke-linejoin="round"/>
<path d="M154.5,124 L159.5,132.5 L166,124.5" fill="none" stroke="#fff" stroke-width="1.9" stroke-linejoin="round"/>
<path d="M152,121.5 C157,119.5 166,119.5 171.5,121 C170,126 165,131 160,136" fill="none" stroke="#3a2a10" stroke-width="0.7" opacity="0.5"/>
<ellipse cx="140.5" cy="119.0" rx="1.4" ry="1.4" fill="#fff" />
<ellipse cx="206.0" cy="448.0" rx="1.0" ry="2.5" fill="#fff" />
<ellipse cx="311.0" cy="478.5" rx="1.2" ry="3.5" fill="#fff" />
<ellipse cx="149.0" cy="563.0" rx="2.2" ry="3.0" fill="#fff" />
<ellipse cx="156.0" cy="568.0" rx="1.3" ry="4.0" fill="#fff" />
<ellipse cx="161.0" cy="564.0" rx="1.1" ry="2.5" fill="#fff" />
<ellipse cx="144.0" cy="566.0" rx="1.3" ry="1.3" fill="#fff" />
<ellipse cx="163.0" cy="578.0" rx="1.0" ry="2.5" fill="#fff" />
<ellipse cx="141.0" cy="632.0" rx="1.6" ry="1.6" fill="#fff" />
<ellipse cx="160.0" cy="640.0" rx="1.6" ry="2.0" fill="#fff" />
<ellipse cx="208.0" cy="610.0" rx="1.6" ry="3.0" fill="#fff" />
<ellipse cx="208.0" cy="598.0" rx="1.3" ry="2.0" fill="#fff" />
<ellipse cx="136.8" cy="100.9" rx="2.0" ry="2.2" fill="none" stroke="#F2A427" stroke-width="1.2" />
<ellipse cx="220.2" cy="141.1" rx="1.6" ry="3.0" fill="none" stroke="#F2A427" stroke-width="1.3" />
<ellipse cx="234.0" cy="81.0" rx="6.0" ry="3.5" fill="none" stroke="#F2A427" stroke-width="2" />
<ellipse cx="113.2" cy="220.6" rx="4.0" ry="4.0" fill="none" stroke="#F2A427" stroke-width="1.8" />
<ellipse cx="268.5" cy="317.0" rx="3.5" ry="4.5" fill="none" stroke="#F2A427" stroke-width="2" />
<ellipse cx="235.4" cy="329.3" rx="2.6" ry="2.6" fill="none" stroke="#F2A427" stroke-width="1.6" />
<ellipse cx="248.2" cy="326.3" rx="2.6" ry="2.6" fill="none" stroke="#F2A427" stroke-width="1.4" />
<ellipse cx="240.5" cy="342.0" rx="3.0" ry="3.0" fill="none" stroke="#F2A427" stroke-width="2" />
<ellipse cx="204.0" cy="420.5" rx="3.5" ry="3.5" fill="none" stroke="#F2A427" stroke-width="2" />
<ellipse cx="205.8" cy="450.5" rx="3.2" ry="6.5" fill="none" stroke="#F2A427" stroke-width="0.8" />
<ellipse cx="275.0" cy="497.5" rx="2.5" ry="1.6" fill="none" stroke="#F2A427" stroke-width="1.3" />
<ellipse cx="284.4" cy="563.1" rx="1.8" ry="2.0" fill="none" stroke="#F2A427" stroke-width="1.3" />
<ellipse cx="236.3" cy="567.5" rx="2.5" ry="4.5" fill="none" stroke="#F2A427" stroke-width="1.5" />
<ellipse cx="200.6" cy="495.0" rx="3.6" ry="3.6" fill="none" stroke="#F2A427" stroke-width="1.8" />
<ellipse cx="167.2" cy="539.2" rx="4.0" ry="4.0" fill="none" stroke="#F2A427" stroke-width="1.6" />
<ellipse cx="185.0" cy="511.0" rx="6.0" ry="4.0" fill="none" stroke="#F2A427" stroke-width="1.3" />
<ellipse cx="182.5" cy="568.0" rx="2.5" ry="5.0" fill="none" stroke="#F2A427" stroke-width="1.5" />
<ellipse cx="184.0" cy="582.0" rx="2.2" ry="4.0" fill="none" stroke="#F2A427" stroke-width="1.5" />
<ellipse cx="158.4" cy="597.3" rx="4.5" ry="4.5" fill="none" stroke="#F2A427" stroke-width="2" />
<ellipse cx="178.0" cy="633.0" rx="7.0" ry="3.5" fill="none" stroke="#F2A427" stroke-width="1.6" />
<ellipse cx="193.7" cy="633.0" rx="5.0" ry="6.5" fill="none" stroke="#F2A427" stroke-width="1.6" />
<ellipse cx="168.0" cy="630.0" rx="4.0" ry="3.0" fill="none" stroke="#F2A427" stroke-width="1.3" />
<ellipse cx="148.6" cy="681.7" rx="1.6" ry="2.2" fill="none" stroke="#F2A427" stroke-width="1.3" />
<ellipse cx="222.5" cy="682.0" rx="2.5" ry="4.0" fill="none" stroke="#F2A427" stroke-width="1.3" />
<ellipse cx="199.8" cy="699.9" rx="4.8" ry="7.5" fill="none" stroke="#F2A427" stroke-width="1.8" />
<text x="145.0" y="105.8" font-family="'Liberation Serif', serif" font-size="15" text-anchor="start" fill="#111" font-weight="normal" >G14</text>
<text x="285.5" y="118.5" font-family="'Liberation Serif', serif" font-size="17.5" text-anchor="start" fill="#111" font-weight="normal" >WT</text>
<text x="285.3" y="138.0" font-family="'Liberation Serif', serif" font-size="17.5" text-anchor="start" fill="#F2A427" font-weight="normal" >G14R</text>
<text x="326.0" y="515.6" font-family="'Liberation Serif', serif" font-size="15" text-anchor="start" fill="#111" font-weight="normal" >V15</text>
<text x="193.3" y="544.1" font-family="'Liberation Serif', serif" font-size="15" text-anchor="start" fill="#111" font-weight="normal" >K12</text>
<text x="187.8" y="560.8" font-family="'Liberation Serif', serif" font-size="15" text-anchor="start" fill="#E0413F" font-weight="normal" >R14</text>
<text x="130.0" y="589.2" font-family="'Liberation Serif', serif" font-size="15" text-anchor="start" fill="#111" font-weight="normal" >E13</text>
<text x="215.4" y="599.3" font-family="'Liberation Serif', serif" font-size="15" text-anchor="start" fill="#E0413F" font-weight="normal" >V15</text>
<text x="174.2" y="649.7" font-family="'Liberation Serif', serif" font-size="15" text-anchor="start" fill="#111" font-weight="normal" >L10</text>
<text x="178.0" y="720.6" font-family="'Liberation Serif', serif" font-size="15" text-anchor="start" fill="#E0413F" font-weight="normal" >V16</text>
<text x="161.3" y="813.5" font-family="'Liberation Serif', serif" font-size="15" text-anchor="start" fill="#111" font-weight="normal" >A17</text>
<defs><clipPath id="cbt"><rect x="482.4" y="60" width="235.5" height="222"/></clipPath><clipPath id="cbb"><rect x="481.4" y="329.5" width="235.8" height="222"/></clipPath></defs>
<path d="M539.7,53.5l1.8,-0.3 2,0.0 2,0.5 2,0.9 1.8,1.4 1.3,1.5 1.1,2.0 0.5,1.5 0.4,2.5 -0.1,2.0 -0.5,2.0 -0.8,2.0 -1.2,1.7 -1.5,1.4 -2,1.2 -1.5,0.5 -2,0.2 -2,-0.1 -2,-0.6 -2,-1.1 -1.5,-1.2 -1.3,-1.5 -1.2,-2.0 -0.6,-2.0 -0.3,-2.0 0.1,-2.0 0.6,-2.0 0.9,-2.0 1.3,-1.7 1.5,-1.3 1.5,-0.9 1.7,-0.6zM501.8,56.0l2.2,-0.3 2,0.2 2,0.7 2,1.3 1.5,1.4 1.2,1.7 1,2.0 0.7,2.5 0.2,2.5 -0.2,2.5 -0.5,2.0 -0.8,2.0 -1.3,2.0 -1.5,1.5 -1.8,1.3 -2,0.7 -2,0.4 -2,-0.2 -2,-0.6 -2,-1.1 -1.5,-1.3 -1.4,-1.7 -1.1,-2.0 -0.8,-2.5 -0.3,-2.5 0.2,-2.5 0.6,-2.5 0.9,-2.0 1.3,-2.0 1.6,-1.6 2,-1.3 1.8,-0.6zM599.5,57.5l2,0.0 2,0.8 2,1.7 1.6,2.0 1.5,3.0 1.1,3.0 1.1,4.0 0.5,4.0 0.3,4.5 -0.1,4.5 -0.6,4.5 -0.8,3.5 -0.9,3.0 -1.6,3.5 -1.6,2.4 -2,2.0 -1.5,0.8 -1.5,0.5 -1.5,0.0 -2,-0.5 -2.6,-1.7 -1.5,-1.5 -3.4,-3.9 -1,-0.7 -0.5,-0.1 -0.5,0.2 -1,1.1 -2.3,3.9 -2.1,3.0 -3.4,3.5 -2.2,1.7 -3,1.7 -2.5,1.0 -3,0.9 -3,0.4 -2.5,0.1 -2.5,-0.2 -3,-0.7 -4,-1.7 -7.5,-4.4 -2.5,-0.9 -1,0.0 -1.5,0.1 -5.2,2.0 -2.3,0.6 -2.5,0.2 -2,-0.2 -2,-0.5 -2,-1.0 -2,-1.5 -1.5,-1.6 -1.3,-2.0 -0.9,-2.5 -0.4,-2.0 -0.1,-2.5 0.3,-2.0 0.6,-2.0 1,-2.0 1.3,-1.8 1.5,-1.5 1.5,-1.0 2,-0.9 2,-0.6 1.5,-0.2 3.5,0.2 6,1.2 2.5,-0.1 3,-1.2 6,-3.8 4,-2.0 5,-1.4 4.5,-0.5 3,0.1 2.5,0.5 2.5,0.6 2.5,1.1 2,1.0 2.5,1.7 5,4.3 1,0.5 0.5,0.0 0.5,-0.4 0.5,-1.1 2.7,-13.2 1,-3.5 1,-2.5 1.7,-3.0 1.6,-2.1 2,-1.6 2,-0.8zM550.8,123.0l3.7,-0.2 4,0.4 3.5,1.1 3,1.6 2.8,2.1 2.6,2.5 1.9,2.5 2.7,4.1 1.5,1.9 1.5,1.4 2,1.0 2,0.4 2,-0.1 7.5,-1.4 3.5,-0.4 3,-0.1 3,0.4 4,1.1 4,2.1 3,2.2 5,4.7 2,1.1 2,0.2 5,-0.9 3,-0.2 2.5,0.3 2.5,0.8 3,1.8 2.2,2.1 2.1,3.0 1.5,3.5 0.9,3.0 0.4,2.5 0.5,8.0 0.4,2.5 0.9,2.5 3.4,6.0 1.4,3.5 1.4,6.0 0.8,6.5 0.3,8.0 -0.3,3.0 -0.4,2.0 -0.7,2.0 -1,2.0 -1.7,2.0 -1.6,1.3 -2,1.1 -2.5,0.7 -2.5,0.2 -2.5,-0.4 -3,-1.0 -6.2,-3.4 -2.8,-1.1 -3.6,-0.9 -11.4,-1.8 -8,-1.9 -7,-2.1 -16.3,-5.7 -9.7,-3.3 -11,-4.2 -10,-2.7 -3,-1.1 -2,-0.9 -2.5,-1.5 -2,-1.5 -1.7,-1.8 -1,-1.5 -0.6,-1.5 -0.4,-1.5 0,-2.0 0.4,-2.0 0.5,-1.5 0.8,-1.2 1,-1.0 1.5,-1.0 1.5,-0.5 1.5,-0.2 1.5,0.1 2.5,1.0 3,2.2 1,0.5 0.5,-0.1 0.5,-0.5 0.2,-1.8 -0.7,-3.0 -1.1,-3.0 -7.3,-14.5 -1.3,-2.0 -1.8,-2.0 -2.5,-2.3 -2,-1.5 -1,-0.4 -0.5,0.4 -0.1,0.3 -1.2,9.5 -1,3.5 -1,2.5 -1.5,2.5 -1.7,2.1 -2,1.8 -2,1.2 -2.5,0.8 -2.5,0.2 -2.5,-0.4 -2.5,-1.0 -2,-1.4 -2,-2.1 -1.8,-2.7 -1.1,-2.5 -0.8,-3.0 -0.4,-3.0 0,-3.0 0.4,-3.0 0.8,-3.0 1.1,-2.5 1.6,-2.5 1.8,-2.0 2.4,-1.8 2,-0.9 2,-0.5 2.5,-0.1 2,0.3 2,0.6 2.5,1.3 4,2.5 1,0.4 0.5,-0.2 0.5,-0.9 1.1,-4.7 1.2,-3.0 1.4,-2.5 1.8,-2.2 2.5,-2.2 3,-1.8 3.5,-1.4 3.8,-0.9zM479.6,128.0l1.4,-0.1 1,0.4 1.5,1.4 1.1,1.8 1,2.5 0.7,2.5 0.6,3.0 0.5,4.5 0,4.0 -0.1,3.5 -0.5,3.5 -0.6,3.0 -0.9,3.0 -1.3,2.5 -1,1.4 -1.5,1.1 -1,0.2 -1.5,-0.5 -1.5,-1.4 -1.1,-1.8 -1,-2.5 -0.8,-3.0 -0.5,-3.0 -0.4,-4.0 0.1,-7.0 0.4,-4.0 0.7,-3.0 0.9,-3.0 1.2,-2.5 1.1,-1.5 1.5,-1.0zM539.7,54.5l1.8,-0.4 1.5,0.0 1.5,0.3 2,0.7 1.5,1.0 1.4,1.4 1,1.5 0.8,2.0 0.4,2.0 -0.1,2.0 -0.3,1.5 -0.8,2.0 -1,1.5 -1.4,1.3 -1.5,1.0 -1.5,0.6 -2,0.3 -2,-0.1 -1.5,-0.4 -2,-0.9 -1.5,-1.3 -1.3,-1.5 -0.8,-1.5 -0.5,-1.5 -0.3,-1.5 0,-2.0 0.5,-2.0 0.6,-1.5 1,-1.5 1.3,-1.3 1.5,-1.0 1.7,-0.7zM502.5,57.0l2,-0.1 2,0.3 1.5,0.7 1.7,1.1 1.4,1.5 1.3,2.0 0.7,2.0 0.4,2.0 0.1,2.0 -0.3,2.5 -0.7,2.0 -0.7,1.5 -1.4,1.8 -1.5,1.3 -1.5,0.8 -2,0.7 -1.5,0.1 -2,-0.3 -2,-0.7 -1.5,-1.0 -1.5,-1.6 -1.1,-1.6 -0.8,-2.0 -0.5,-2.0 -0.2,-2.0 0.3,-2.5 0.5,-2.0 1,-2.0 1.3,-1.7 1.5,-1.3 1.5,-0.9 2,-0.6zM598.5,60.0l2,-0.4 2,0.4 2,1.4 1.5,1.7 1.7,2.9 1.1,3.0 1,4.0 0.6,4.0 0.2,4.0 -0.2,4.5 -0.6,4.0 -1,4.0 -1.5,3.5 -1.5,2.5 -1.8,1.9 -2,1.2 -2,0.3 -2,-0.5 -2,-1.3 -1.6,-1.6 -1.7,-2.5 -1.4,-3.0 -1,-3.0 -0.5,-3.5 -0.1,-4.5 0.4,-5.0 0.7,-4.5 1.1,-4.0 1.3,-3.5 1.4,-2.5 1.9,-2.2 2,-1.3zM561.6,78.0l2.9,-0.3 2.5,0.0 3,0.4 2.5,0.8 2,0.8 2.5,1.4 2.3,1.9 1.9,2.0 1.4,2.0 1.2,2.5 0.6,2.0 0.2,2.0 -0.2,2.5 -0.5,2.0 -0.7,2.0 -1.4,2.5 -1.4,2.0 -1.9,2.0 -2,1.7 -2,1.3 -2.5,1.1 -2,0.7 -2.5,0.6 -2.5,0.3 -2,-0.1 -2.5,-0.3 -4,-1.1 -3,-1.4 -6.5,-4.2 -2.2,-1.1 -1.8,-0.3 -1.5,0.2 -5.5,2.9 -1.5,0.6 -2,0.5 -2,0.1 -1.5,-0.2 -2,-0.5 -1.5,-0.8 -2,-1.5 -1.3,-1.5 -1.2,-2.0 -0.8,-2.5 -0.3,-2.5 0.3,-2.5 0.6,-2.0 1,-2.0 1.6,-2.0 1.6,-1.3 2,-1.1 2.5,-0.7 2,-0.1 2.5,0.4 5.5,1.8 1.5,0.4 1,0.0 1.5,-0.3 2.5,-1.1 6,-4.1 3,-1.7 3.5,-1.4 3.1,-0.8zM549.3,125.0l4.2,-0.4 4,0.4 4,1.2 3.5,2.0 2.6,2.3 1.9,2.5 1.7,3.0 2.3,5.2 1,1.5 1.5,1.6 2,1.1 2,0.5 2.5,-0.2 8,-2.8 4,-0.9 3.5,-0.2 3,0.3 4,1.2 2,1.1 2,1.3 2.5,2.3 4.5,5.6 1.6,1.4 0.9,0.2 1.5,-0.1 4.5,-1.7 2.5,-0.7 2,-0.2 1.5,0.1 2.5,0.6 2,1.0 2,1.5 1.5,1.6 1.2,1.7 1.1,2.0 0.9,2.5 0.5,2.0 0.5,4.0 -0.1,7.5 0.4,2.5 1,2.0 2.4,3.5 1.4,2.5 1.4,3.5 0.9,3.5 1,6.0 0.5,6.0 0.1,5.0 -0.5,3.5 -1.1,3.0 -1,1.5 -1.1,1.1 -2.5,1.6 -1.5,0.5 -2,0.3 -2.5,-0.2 -2.5,-0.7 -2,-0.9 -6,-3.4 -2,-0.7 -2.5,-0.6 -13,-1.8 -6,-1.3 -5.5,-1.6 -13.4,-4.8 -16.6,-5.3 -11,-4.3 -2.5,-0.7 -6,-1.0 -3.5,-1.1 -2,-0.8 -2.5,-1.5 -1.8,-1.3 -1.4,-1.5 -1,-1.5 -0.9,-2.0 -0.4,-1.5 0,-2.0 0.2,-1.5 0.7,-1.5 1.1,-1.3 1.5,-1.0 1.5,-0.4 1,0.0 1.5,0.3 1,0.4 1.7,1.5 2.3,3.9 0.7,0.6 1.3,0.5 2,0.1 1.5,-0.3 1.1,-0.8 0.4,-0.7 0.2,-0.8 -0.1,-2.0 -1.1,-3.9 -1.5,-4.4 -1.3,-2.7 -3.6,-6.5 -3.6,-7.4 -1.6,-2.1 -4,-4.0 -2,-2.5 -1.4,-2.5 -0.6,-2.5 -0.1,-2.5 0.4,-2.5 1,-2.5 1.7,-2.5 2.1,-2.1 2.5,-1.7 3,-1.4 2.8,-0.8zM479.2,130.0l1.3,-0.4 1,0.2 1.5,1.2 1,1.5 0.9,2.0 0.9,3.0 0.9,6.0 0,6.5 -0.4,3.5 -0.5,3.0 -0.9,3.0 -0.9,2.0 -1,1.5 -1.2,1.0 -1.3,0.4 -1,-0.2 -1.5,-1.2 -1,-1.5 -0.8,-2.0 -0.9,-3.0 -0.9,-6.0 -0.1,-6.5 0.4,-3.5 0.6,-3.0 0.9,-3.0 0.8,-1.9 1,-1.5 1.2,-1.1zM518.2,139.5l2.3,0.1 2.5,0.7 2.5,1.5 1.9,1.7 1.5,2.0 1.2,2.5 0.7,2.5 0.4,3.0 -0.1,3.0 -0.4,3.0 -1,3.0 -1.5,3.0 -1.7,2.2 -2,1.8 -2,1.1 -2.5,0.7 -2.5,0.0 -2.5,-0.7 -2,-1.1 -2,-1.7 -1.7,-2.3 -1.5,-3.0 -0.8,-3.0 -0.4,-3.0 0.1,-3.0 0.5,-3.0 1,-3.0 1.4,-2.5 1.9,-2.3 2,-1.6 2.5,-1.2 2.2,-0.4zM539.7,55.5l1.8,-0.4 1.5,0.0 1.5,0.3 1.5,0.6 1.5,0.9 1.1,1.1 1,1.5 0.6,1.5 0.4,2.0 0,1.5 -0.3,1.5 -0.6,1.5 -0.9,1.5 -0.9,1.0 -1.4,1.0 -1.5,0.7 -2,0.4 -1.5,0.0 -1.5,-0.3 -1.5,-0.7 -1.5,-1.0 -1.1,-1.1 -0.9,-1.5 -0.6,-1.5 -0.3,-1.5 0,-2.0 0.3,-1.5 0.6,-1.5 1,-1.4 1,-1.1 1,-0.7 1.7,-0.8zM503.6,58.0l1.9,0.1 1.5,0.5 1.5,0.9 1.2,1.0 1.2,1.5 0.8,1.5 0.7,2.0 0.2,2.0 -0.1,2.0 -0.4,2.0 -0.8,2.0 -0.8,1.1 -1,1.2 -1.5,1.1 -1.5,0.7 -2,0.4 -2,-0.1 -1.5,-0.5 -1.5,-0.8 -1.2,-1.1 -1.2,-1.5 -0.8,-1.5 -0.7,-2.0 -0.2,-2.0 0,-1.5 0.4,-2.0 0.7,-2.0 1,-1.6 1.5,-1.6 1.5,-1.0 1.5,-0.5 1.6,-0.3zM599.0,62.0l1.5,-0.3 2,0.5 1.8,1.3 1.6,2.0 1.3,2.5 1,3.0 0.7,3.0 0.5,3.5 0.2,4.0 -0.3,4.0 -0.5,3.5 -1,3.5 -1,2.5 -1.5,2.5 -1.8,1.9 -1.5,0.9 -1.5,0.3 -2,-0.4 -1.9,-1.2 -1.6,-1.8 -1.3,-2.2 -1.3,-3.0 -0.7,-3.0 -0.5,-3.5 -0.1,-3.5 0.2,-4.0 0.5,-3.5 1,-4.0 1.2,-3.0 1.5,-2.6 1.5,-1.7 2,-1.2zM563.2,79.5l2.8,-0.1 2.5,0.2 2.5,0.6 2.5,1.0 2,1.1 2,1.6 1.5,1.6 1.4,2.0 1,2.0 0.6,2.5 0.2,2.0 -0.2,2.5 -0.7,2.5 -0.9,2.0 -1.2,2.0 -1.8,2.0 -1.4,1.3 -2,1.3 -3.5,1.7 -4,0.9 -4,0.0 -4,-0.8 -3.5,-1.5 -3,-1.9 -5.5,-4.1 -2,-1.1 -1,-0.2 -1,0.1 -1.6,0.8 -3,2.5 -1.9,1.3 -2,0.9 -1.5,0.4 -2,0.2 -2,-0.3 -2,-0.8 -1.5,-0.9 -1.5,-1.5 -1.2,-1.8 -1,-2.5 -0.2,-2.0 0.1,-2.5 0.6,-2.0 1,-2.0 1.2,-1.5 1.5,-1.2 2,-1.1 2,-0.5 2,-0.1 2,0.3 2,0.7 5.5,3.0 1.5,0.2 1,-0.1 2.5,-1.3 6.3,-4.9 3.2,-2.0 4,-1.7 3.7,-0.8zM549.6,126.5l3.9,-0.4 4,0.5 3.5,1.2 2,1.2 1.5,1.1 2.3,2.4 1.5,2.5 1.2,3.0 1.2,5.5 0.9,2.0 0.9,1.2 1.4,1.3 1.5,1.0 1.6,0.7 2.5,0.5 2,-0.2 2,-0.9 5.5,-3.2 3,-1.3 4,-0.9 4,0.1 2.5,0.5 2.5,1.0 2.5,1.5 1.9,1.7 1.7,2.0 1.3,2.0 3.1,7.3 0.5,0.7 0.5,0.3 0.5,0.0 1,-0.4 4,-3.1 2,-1.3 2,-0.9 2,-0.5 2.5,-0.1 2.5,0.6 2,1.1 2,1.8 1.5,2.0 1.1,2.0 0.7,2.0 0.6,2.5 0.3,4.5 -0.8,7.0 0.2,2.0 0.7,1.5 3.2,3.8 1.5,2.2 1.1,2.5 1.1,3.5 1,5.0 0.6,4.5 0.5,7.5 -0.2,3.5 -0.3,1.5 -0.6,1.5 -0.7,1.2 -1,1.1 -1,0.8 -1.5,0.8 -2.5,0.5 -2.5,-0.3 -2.5,-0.8 -2,-1.0 -5,-3.2 -3,-1.1 -2.5,-0.4 -6.5,-0.4 -4.5,-0.5 -5,-0.9 -4.5,-1.2 -5.5,-1.8 -11.5,-4.3 -11.5,-3.2 -5,-1.6 -4,-1.5 -8.5,-3.6 -2,-0.4 -5.5,-0.5 -3.5,-0.8 -2,-0.9 -1.8,-1.0 -1.4,-1.0 -1.5,-1.5 -1,-1.5 -1.1,-2.0 -0.6,-2.0 -0.1,-1.5 0.2,-1.5 0.8,-1.5 1,-1.0 1.5,-0.6 2,-0.1 1,0.4 1,0.7 1.3,1.6 0.9,3.0 0.6,1.0 1.2,0.8 2,0.7 3,0.7 2.5,-0.3 1.1,-0.4 1.4,-0.9 0.6,-0.6 0.3,-1.0 -0.3,-2.0 -1.9,-5.5 -2.4,-7.5 -1.2,-2.5 -3.3,-5.5 -2.7,-6.0 -1.7,-2.5 -4.9,-4.4 -1.8,-2.1 -1.5,-2.5 -0.8,-2.5 -0.1,-2.0 0.4,-2.5 1,-2.5 1.4,-2.0 1.9,-1.8 2,-1.3 2.5,-1.2 2.6,-0.7zM479.8,131.5l1.2,-0.1 1,0.5 1,1.1 0.9,1.5 0.8,2.0 0.6,2.5 0.5,3.0 0.3,3.0 0,3.0 -0.2,3.5 -0.5,3.0 -0.6,2.5 -0.7,2.0 -0.7,1.5 -0.9,1.1 -1.3,0.9 -1.2,0.1 -1,-0.5 -1,-1.1 -0.9,-1.5 -0.8,-2.0 -0.6,-2.5 -0.5,-3.0 -0.3,-3.0 0,-3.0 0.2,-3.5 0.5,-3.0 0.6,-2.5 0.7,-2.0 0.8,-1.5 0.8,-1.1 1.3,-0.9zM516.4,141.5l2.1,-0.3 2,0.2 2,0.6 2,1.2 1.8,1.8 1.4,2.0 1.1,2.5 0.6,2.5 0.2,3.0 -0.2,3.0 -0.5,2.5 -1,2.5 -1.2,2.0 -1.7,2.0 -2,1.5 -2,0.9 -2,0.3 -2,-0.1 -2,-0.7 -2.2,-1.4 -1.8,-1.9 -1.3,-2.1 -1.1,-2.5 -0.6,-2.5 -0.2,-2.5 0.2,-3.0 0.6,-3.0 1,-2.5 1.3,-2.0 1.6,-1.8 2,-1.4 1.9,-0.8zM616.5,184.9l-0.9,1.1 -0.3,1.5 1,3.5 0.1,3.0 0.4,1.0 0.9,1.0 1.6,1.0 2.2,0.9 1.5,0.1 1,-0.6 0.3,-0.9 0,-1.0 -0.8,-4.9 -0.7,-2.1 -1.3,-1.7 -2,-1.5 -1.5,-0.6 -1,0.0 -0.5,0.2zM539.7,56.5l1.3,-0.4 1.5,-0.1 1.5,0.2 1.5,0.6 1.2,0.7 1.1,1.0 1,1.5 0.4,1.0 0.4,1.5 0.1,1.5 -0.3,1.5 -0.5,1.5 -0.9,1.4 -1,1.0 -1,0.7 -1.5,0.7 -1.5,0.3 -1.5,0.0 -2.5,-0.8 -1.2,-0.8 -1,-1.0 -0.7,-1.0 -0.7,-1.5 -0.4,-1.5 0,-1.5 0.6,-2.5 0.8,-1.5 0.9,-1.0 1.2,-0.9 1.2,-0.6zM501.8,59.5l1.2,-0.3 1.5,-0.1 1.5,0.3 1.5,0.7 1.5,1.2 1,1.2 0.8,1.5 0.6,1.5 0.3,2.0 -0.1,1.5 -0.2,1.5 -0.5,1.5 -0.9,1.5 -1,1.3 -1.5,1.1 -1.2,0.6 -1.3,0.3 -1.5,0.1 -1.5,-0.3 -1.5,-0.7 -1.5,-1.2 -1,-1.2 -0.8,-1.5 -0.6,-1.5 -0.2,-2.0 0,-1.5 0.3,-1.5 0.5,-1.5 0.8,-1.5 1,-1.2 1.5,-1.2 1.3,-0.6zM599.6,64.0l1.4,-0.1 1.5,0.5 1.5,1.2 1.5,2.0 1.1,2.4 1,3.0 0.6,3.0 0.3,3.0 0,3.0 -0.2,3.5 -0.6,3.0 -0.8,3.0 -1.1,2.5 -1.3,2.0 -1.5,1.4 -1.5,0.8 -1,0.1 -1,-0.1 -1.5,-0.6 -1.5,-1.3 -1.3,-1.8 -1,-2.0 -1,-3.0 -0.5,-2.5 -0.4,-3.5 0,-3.5 0.3,-3.5 0.6,-3.0 0.9,-3.0 1.1,-2.5 1.3,-1.9 1.5,-1.4 1.6,-0.7zM561.6,81.5l3.4,-0.4 3,0.2 3.5,0.9 2.5,1.3 2.5,2.0 1.9,2.5 1.2,2.5 0.6,3.0 -0.1,2.5 -0.8,3.0 -1.7,3.0 -2.1,2.3 -2.5,1.9 -3,1.4 -3,0.7 -3,0.2 -2.5,-0.3 -2.5,-0.6 -2.5,-1.1 -2.5,-1.5 -3.1,-2.5 -3,-3.0 -1.6,-2.0 -0.6,-1.0 -0.3,-1.0 0.3,-1.5 1.2,-2.0 2.2,-2.5 3.1,-3.0 2.3,-1.8 2.5,-1.5 2,-0.9 2.6,-0.8zM529.0,87.5l1.5,-0.2 1.5,0.1 1.5,0.4 2,0.9 1.9,1.3 1.5,1.5 1.1,1.5 0.8,1.5 0.2,1.0 -0.1,1.5 -0.7,1.5 -1.2,2.0 -1.1,1.5 -1.4,1.3 -1.5,1.1 -1.3,0.6 -1.7,0.5 -1.5,0.1 -2,-0.3 -1.5,-0.6 -1.5,-1.0 -1.2,-1.2 -1,-1.5 -0.8,-2.0 -0.3,-1.5 0,-2.0 0.4,-2.0 0.6,-1.5 1,-1.5 1.3,-1.3 1.5,-1.0 2,-0.7zM549.5,128.0l2,-0.3 2,-0.1 2,0.1 2,0.5 3.5,1.4 2.6,1.9 2,2.5 1.4,3.0 0.5,3.0 0.1,5.5 0.4,1.5 0.5,1.0 1.5,1.8 2,1.6 2.9,1.6 3.1,1.4 2,0.4 1,0.0 1,-0.3 1.5,-1.1 4.1,-3.9 2.4,-1.8 3,-1.4 3,-0.8 3.5,-0.1 3.5,0.9 3,1.6 2.4,2.1 1.7,2.5 1.3,3.0 0.6,3.5 -0.2,3.5 -1.2,4.0 -3.3,7.0 -2.3,6.0 -1,2.0 -1.6,2.5 -0.4,1.0 0.1,0.5 0.3,0.5 0.7,0.5 4.9,2.3 1.5,0.9 0.8,0.8 0.6,1.0 0.2,1.0 -0.8,2.0 -0.1,1.0 0.9,1.0 2.8,1.5 11.1,5.1 1,0.2 1,0.0 1,-0.5 0.5,-0.8 0.2,-1.0 -0.1,-1.5 -1,-4.5 -0.3,-2.5 0.2,-5.5 -0.3,-1.5 -1,-1.5 -3.8,-3.5 -2.1,-3.0 -1.4,-3.5 -0.3,-2.0 -0.1,-2.0 0.2,-2.5 0.5,-2.0 1,-2.5 1.3,-2.0 1.8,-2.0 1.7,-1.3 2,-0.9 1.5,-0.4 1.5,-0.1 1.5,0.3 2.5,1.0 2.2,1.9 1.2,1.5 0.8,1.5 1.2,3.5 0.3,4.0 -0.4,4.0 -1.5,5.5 0.1,1.5 1,1.5 3.1,2.6 1.5,1.6 1.2,1.8 1.1,2.5 0.9,3.5 1.2,6.5 1,9.5 0.1,3.0 -0.7,2.5 -1.3,2.0 -1,0.9 -1,0.5 -1,0.3 -1.5,0.1 -2.5,-0.4 -2.5,-1.2 -2,-1.3 -4.5,-3.4 -2,-1.0 -2,-0.3 -6.5,0.4 -4,-0.1 -4.5,-0.6 -4,-0.8 -7,-2.2 -8.5,-3.6 -3.5,-1.2 -12,-2.9 -6.5,-2.0 -5.2,-2.2 -7.3,-4.0 -1.5,-0.2 -3.5,0.8 -2.5,-0.1 -3,-0.6 -2.8,-1.4 -1.3,-1.0 -1.3,-1.5 -2.4,-4.0 -0.6,-1.5 -0.2,-1.5 0.5,-1.5 0.8,-1.0 1.3,-0.7 1,-0.1 1,0.1 1,0.5 0.7,0.7 0.6,1.0 0.3,1.0 0.3,3.0 0.6,0.7 9,4.0 1,0.1 1,-0.3 5,-2.5 1.4,-1.0 0.4,-1.0 -0.3,-1.0 -2.6,-4.5 -1.6,-3.5 -2.8,-10.5 -1,-2.0 -2.8,-4.5 -2.6,-6.0 -1.6,-2.0 -5,-3.6 -2,-1.9 -1.5,-2.0 -1,-2.5 -0.4,-2.0 0.2,-2.0 0.6,-2.0 1.1,-2.0 1.5,-1.7 2,-1.5 2,-1.0 2.5,-0.8zM479.3,133.5l0.7,-0.3 1,0.0 1,0.5 1,1.3 0.8,1.5 0.7,2.0 0.8,5.0 0.1,5.5 -0.6,5.0 -0.5,2.0 -0.8,2.1 -1,1.6 -0.8,0.8 -0.7,0.3 -1,0.0 -1,-0.5 -1,-1.3 -0.8,-1.5 -0.6,-2.0 -0.9,-5.0 -0.1,-5.5 0.6,-5.0 0.5,-2.0 0.8,-2.1 1,-1.6 0.8,-0.8zM517.1,143.0l1.9,-0.2 2,0.4 2,1.0 1.5,1.2 1.3,1.6 1.1,2.0 0.8,2.0 0.5,2.5 0,2.5 -0.3,2.5 -0.7,2.5 -0.9,2.0 -1.3,1.9 -1.5,1.4 -1.5,1.0 -2,0.7 -1.5,0.1 -2,-0.3 -2,-0.9 -1.5,-1.1 -1.5,-1.8 -1.1,-2.0 -0.8,-2.0 -0.5,-2.5 -0.1,-2.5 0.3,-2.5 0.5,-2.0 1.1,-2.5 1.1,-1.7 1.5,-1.5 1.5,-1.0 2.1,-0.8zM541.7,57.0l2.3,0.2 1.5,0.6 1,0.8 1.5,1.9 0.4,1.0 0.3,1.5 -0.3,2.5 -1,2.0 -0.9,1.0 -1,0.7 -1,0.5 -1.5,0.4 -1,0.0 -1.5,-0.3 -1.5,-0.6 -0.9,-0.7 -0.9,-1.0 -0.6,-1.0 -0.4,-1.0 -0.3,-1.5 0.3,-2.5 0.4,-1.0 0.9,-1.3 1,-1.0 1,-0.6 2.2,-0.6zM502.3,60.5l1.2,-0.2 1.5,0.0 1.5,0.5 1,0.6 1,0.9 0.9,1.2 1.1,2.5 0.2,1.5 -0.1,1.5 -0.3,1.5 -0.6,1.5 -0.7,1.2 -1,1.0 -1,0.8 -1.3,0.5 -1.2,0.3 -1.5,-0.1 -1.5,-0.5 -1,-0.6 -1,-0.9 -0.9,-1.2 -1.1,-2.5 -0.2,-1.5 0.1,-1.5 0.3,-1.5 0.6,-1.5 0.7,-1.1 1,-1.1 1,-0.7 1.3,-0.6zM598.8,66.5l1.2,-0.4 1.5,0.1 1.5,0.9 1,1.0 1.2,1.9 0.9,2.0 0.7,2.5 0.5,3.0 0.2,3.0 -0.1,3.0 -0.3,2.5 -0.7,3.0 -0.9,2.5 -1,1.9 -1,1.2 -1.5,1.1 -1.5,0.4 -1,-0.1 -1.5,-0.8 -1.2,-1.2 -1,-1.5 -1.1,-2.5 -0.6,-2.0 -0.5,-3.0 -0.2,-3.0 0.1,-3.0 0.3,-3.0 0.6,-2.5 0.9,-2.5 1,-2.0 1.2,-1.5 1.3,-1.0zM562.8,83.0l2.7,-0.2 3,0.3 2.5,0.8 2,1.1 1.9,1.5 1.6,2.0 1,2.0 0.6,2.5 0.1,2.5 -0.6,2.5 -0.9,2.0 -1.7,2.3 -1.9,1.7 -2.1,1.2 -2.5,1.0 -3,0.5 -2.5,-0.1 -2.5,-0.4 -2.5,-1.0 -2.5,-1.5 -2.1,-1.7 -2.1,-2.5 -1.2,-2.0 -0.6,-2.0 0.1,-1.5 0.8,-2.0 1.3,-2.0 2.4,-2.5 1.9,-1.6 2,-1.2 2.5,-1.1 2.3,-0.6zM528.1,89.0l1.4,-0.4 1.5,-0.1 1.5,0.3 1.5,0.5 1.5,1.0 1.3,1.2 1,1.5 0.4,1.0 0.4,2.5 -0.3,1.5 -0.5,1.5 -0.9,1.5 -0.9,1.0 -1.2,1.0 -1.3,0.8 -1.5,0.4 -1.5,0.2 -2.5,-0.5 -1.5,-0.8 -1,-0.9 -1,-1.2 -0.7,-1.5 -0.5,-1.5 -0.1,-1.5 0.1,-1.5 0.4,-1.5 0.8,-1.5 1,-1.3 1,-0.8 1.6,-0.9zM549.4,129.5l1.6,-0.3 2,-0.2 3.5,0.4 3,1.1 1.5,0.9 1.3,1.1 1.2,1.5 0.9,1.5 0.6,1.5 0.2,1.5 -0.1,3.0 -1.1,4.5 -0.2,1.5 0.2,1.4 0.5,1.1 1.7,2.0 1.8,1.4 7.5,3.5 5.5,3.7 1,0.5 1,0.1 0.5,-0.3 0.5,-0.7 2.3,-5.2 1.2,-2.0 1.2,-1.5 1.8,-1.7 2.5,-1.6 3,-0.9 1.5,-0.2 2,0.0 3,0.8 2.8,1.6 2,2.0 1.5,2.5 0.9,3.0 0,3.0 -0.6,2.5 -1.4,3.0 -2.2,2.8 -2.5,2.1 -3.5,1.9 -3.5,1.0 -3,0.1 -5,-1.2 -1.5,0.2 -1,0.7 -3.4,4.4 -2.4,2.5 -2.7,2.0 -3,1.4 -2,0.4 -2,-0.2 -2,-0.7 -1.5,-1.0 -1.5,-1.4 -1,-1.2 -1.8,-3.3 -0.9,-2.5 -0.4,-2.0 -0.7,-6.5 -0.5,-2.0 -0.7,-1.7 -2.6,-4.3 -1.2,-4.0 -0.7,-1.5 -1.7,-1.5 -5.3,-2.7 -2.5,-1.8 -1.9,-2.0 -1.3,-2.5 -0.4,-2.0 0.1,-1.5 0.3,-1.5 1,-2.0 1.2,-1.5 1.5,-1.2 2,-1.1 1.9,-0.7zM479.9,135.0l0.6,-0.1 1,0.3 1,1.0 0.7,1.3 1.1,3.5 0.5,4.5 -0.1,4.5 -0.8,4.5 -1.2,3.0 -0.7,0.9 -0.9,0.6 -0.6,0.1 -1,-0.3 -1,-1.0 -0.7,-1.3 -1.1,-3.5 -0.5,-4.5 0.1,-4.5 0.8,-4.5 1.2,-3.0 0.7,-0.9 0.9,-0.6zM518.2,144.5l1.8,0.1 1.5,0.6 1.5,0.9 1.4,1.4 1,1.5 0.8,2.0 0.5,2.0 0.2,2.0 -0.1,2.5 -0.5,2.0 -0.8,2.0 -0.9,1.5 -1.1,1.3 -1.5,1.2 -1.5,0.7 -1.5,0.3 -1.5,-0.1 -1.5,-0.4 -1.5,-0.9 -1.5,-1.4 -1.2,-1.7 -0.7,-1.5 -0.6,-2.0 -0.3,-2.5 0.2,-2.5 0.4,-2.0 0.8,-2.0 0.9,-1.5 1,-1.3 1.5,-1.2 1.5,-0.7 1.7,-0.3zM627.9,158.5l1.6,-0.3 2,0.3 1.5,0.6 1.5,1.0 1.3,1.4 0.9,1.5 0.9,2.0 0.5,2.0 0.2,2.0 -0.2,2.5 -0.4,2.0 -0.9,2.5 -1.3,2.4 -1.5,1.8 -1.5,1.1 -1,0.3 -1.5,0.0 -2,-0.6 -1.5,-0.7 -1.7,-1.3 -1.3,-1.4 -1,-1.6 -0.9,-2.0 -0.5,-2.0 -0.2,-2.5 0.2,-2.0 0.4,-2.0 0.8,-2.0 0.9,-1.5 1.3,-1.5 1.5,-1.2 1.9,-0.8zM541.3,180.0l1.2,-0.3 1,0.2 0.8,0.6 0.6,1.0 0.1,1.0 -0.2,1.0 -0.4,1.0 -0.9,0.9 -1,0.0 -1,-0.4 -0.6,-0.5 -0.7,-1.0 -0.2,-1.0 0.1,-1.0 0.4,-0.8 0.8,-0.7zM633.0,184.5l1.5,-0.4 1.5,0.1 2,0.5 2,1.0 1.5,1.1 1,1.2 1,1.5 0.8,2.0 2,10.0 1.5,11.5 -0.4,2.0 -0.7,1.5 -1.2,1.1 -1.5,0.6 -1.5,0.1 -1.5,-0.4 -1.5,-0.7 -1.8,-1.2 -1.8,-1.5 -2,-2.0 -1.1,-1.5 -1,-2.0 -0.2,-2.0 0.2,-4.0 -0.1,-2.0 -0.4,-1.5 -1.7,-5.0 -0.2,-3.0 0.3,-2.0 0.8,-2.1 1,-1.6 1.5,-1.3zM544.9,187.5l1.1,-0.1 1.5,0.3 2,0.6 1.3,0.7 0.7,0.5 0.8,1.0 0.1,0.5 -0.2,0.5 -0.7,0.4 -1,0.2 -1.5,0.0 -1.5,-0.5 -1.3,-0.6 -1.2,-1.0 -0.6,-1.0 -0.1,-1.0 0.6,-0.5zM566.5,189.0l2.5,-0.4 3,0.2 3,0.6 8,2.1 2.5,0.3 2,-0.4 4,-1.7 4,-0.9 4.5,-0.1 2.5,0.4 2,0.4 1.5,0.6 1.3,0.9 0.3,0.5 0.1,1.0 -0.2,0.5 -1,0.9 -3.4,2.1 0,0.5 0.8,0.5 8.1,2.7 5,2.1 3.8,2.2 1.8,1.5 0.9,1.1 0.4,0.9 -0.1,1.0 -0.9,1.0 -1.4,0.6 -2,0.5 -2,0.1 -2.5,0.0 -3,-0.4 -4.5,-0.9 -4,-1.3 -3.8,-1.6 -6.7,-3.4 -2.5,-0.9 -2.5,-0.6 -9,-1.3 -5.5,-1.4 -3.5,-1.2 -3.4,-1.7 -2.2,-1.5 -1.5,-1.5 -0.4,-1.0 0.1,-0.5 0.6,-1.0 1.3,-0.9 2,-0.6zM541.7,58.0l1.8,0.1 2,0.9 1,1.0 0.6,1.0 0.6,2.0 -0.2,2.0 -1,2.0 -1.5,1.4 -2,0.6 -2,-0.1 -2,-1.0 -0.9,-0.9 -0.6,-1.0 -0.6,-2.0 0.2,-2.0 1,-2.0 1.4,-1.2 1,-0.5 1.2,-0.3zM503.1,61.5l1.4,-0.1 1,0.2 1,0.5 1,0.7 1.3,1.7 0.8,2.5 -0.1,2.5 -0.5,1.5 -0.5,1.0 -1.5,1.6 -1,0.6 -1.1,0.3 -1.4,0.1 -1,-0.2 -1,-0.5 -1,-0.7 -1.3,-1.7 -0.8,-2.5 0.1,-2.5 0.5,-1.5 0.5,-1.0 1.5,-1.6 1,-0.6 1.1,-0.3zM599.5,68.5l1.5,-0.1 1,0.3 1,0.8 1,1.3 0.9,1.7 0.7,2.0 0.5,2.5 0.3,2.5 -0.2,5.0 -0.4,2.5 -0.7,2.0 -0.6,1.5 -1,1.5 -1,1.0 -1.5,0.7 -1.5,-0.1 -1,-0.5 -1,-1.0 -0.8,-1.1 -0.7,-1.5 -0.7,-2.0 -0.8,-4.5 0.2,-5.0 0.4,-2.5 0.6,-2.0 0.8,-1.9 1,-1.6 1,-0.9 1,-0.6zM562.0,85.0l2,-0.4 2.5,0.0 2,0.4 2,0.7 2,1.2 1.5,1.5 1.1,1.6 0.8,2.0 0.3,2.0 -0.1,2.0 -0.6,2.0 -1,1.9 -1.3,1.6 -1.7,1.4 -2,1.0 -2,0.7 -2,0.3 -2.5,-0.1 -2.5,-0.6 -2,-0.8 -2,-1.4 -1.6,-1.5 -1.4,-2.0 -0.8,-2.0 -0.2,-1.5 0.2,-1.5 0.6,-1.5 1.2,-2.0 1.5,-1.6 2,-1.6 2,-1.1 2,-0.7zM528.9,90.0l2.1,-0.2 1.5,0.3 1,0.4 1,0.7 1,0.9 0.9,1.4 0.4,1.0 0.2,2.5 -0.3,1.5 -0.4,1.0 -1.6,2.0 -1.2,0.9 -1,0.5 -1.5,0.3 -1,0.0 -1.5,-0.4 -1,-0.4 -1,-0.8 -1,-1.1 -0.9,-2.0 -0.3,-1.5 0.1,-1.5 0.3,-1.5 0.5,-1.0 0.8,-1.1 0.9,-0.9 2,-1.0zM551.8,130.5l1.7,-0.1 2,0.3 2,0.6 1.5,0.7 1.5,1.1 1.3,1.4 0.8,1.5 0.5,1.5 0.2,2.0 -0.4,2.0 -0.7,1.5 -1.2,1.8 -1,1.1 -1.5,1.0 -1.5,0.5 -2,0.1 -2,-0.2 -2.5,-0.6 -2,-0.9 -1.5,-0.9 -1.5,-1.2 -1,-1.2 -0.8,-1.5 -0.4,-1.5 -0.1,-1.5 0.3,-1.5 0.6,-1.5 1.2,-1.5 1.2,-1.0 1.5,-0.9 2,-0.8 1.8,-0.3zM479.7,137.0l0.8,-0.3 0.5,0.1 0.9,0.7 0.6,0.9 1.1,3.1 0.5,3.5 0,4.0 -0.5,3.5 -1,3.0 -0.6,0.9 -0.7,0.6 -0.8,0.3 -0.5,-0.1 -0.9,-0.7 -0.6,-0.9 -1.1,-3.1 -0.5,-3.5 0,-4.0 0.5,-3.5 1,-3.0 0.6,-0.9 0.7,-0.6zM516.7,146.5l1.3,-0.3 1.5,0.1 1.5,0.4 1,0.6 1.2,1.2 1.1,1.5 1.1,3.0 0.2,2.0 0,1.5 -0.4,2.0 -0.5,1.5 -0.8,1.5 -0.9,1.2 -1.5,1.2 -1.2,0.6 -1.3,0.3 -1.5,-0.1 -1.5,-0.5 -1,-0.6 -1.1,-1.1 -1.1,-1.5 -1.1,-3.0 -0.2,-1.5 0,-2.0 0.3,-2.0 0.6,-1.5 0.7,-1.5 0.9,-1.1 1.5,-1.3 1.2,-0.6zM596.2,149.0l1.8,-0.2 2,0.1 2,0.6 1.5,0.8 1.5,1.2 1.2,1.5 0.9,1.5 0.6,2.0 0.1,1.5 -0.2,2.0 -0.4,1.5 -1,2.0 -1.2,1.5 -1.5,1.3 -1.5,0.9 -2,0.8 -2,0.3 -2,0.0 -2,-0.6 -1.5,-0.7 -1.5,-1.1 -1.2,-1.4 -0.9,-1.5 -0.6,-2.0 -0.2,-2.0 0.2,-2.0 0.5,-1.5 1,-2.0 1.1,-1.5 1.6,-1.4 2,-1.1 1.7,-0.5zM566.8,158.0l1.7,-0.2 2,0.1 2,0.5 2,1.0 1.6,1.1 1.5,1.5 1,1.5 1,2.0 0.6,2.0 0.2,2.0 -0.1,2.5 -0.5,2.0 -0.9,2.0 -1,1.5 -1.4,1.5 -1.5,1.1 -1.5,0.7 -2,0.3 -1.5,-0.1 -1.5,-0.4 -1.5,-0.9 -1.5,-1.4 -1.2,-1.8 -1,-2.0 -0.7,-2.5 -0.2,-2.5 0,-3.0 0.4,-3.0 0.7,-2.5 0.7,-1.5 1.2,-1.0 1.4,-0.5zM628.1,160.5l1.4,-0.3 1.5,0.1 1.5,0.6 1,0.7 1,1.0 1,1.4 0.6,1.5 0.5,2.0 0.1,1.5 -0.1,2.0 -0.4,2.0 -0.7,1.5 -0.9,1.5 -1.1,1.2 -1,0.7 -1.5,0.6 -1,0.1 -1.5,-0.2 -1.5,-0.7 -1,-0.7 -1,-1.1 -1,-1.4 -0.6,-1.5 -0.5,-2.0 -0.1,-2.0 0.2,-1.5 0.9,-3.0 0.9,-1.5 0.9,-1.0 1.3,-1.0 1.1,-0.5zM541.7,181.5l0.8,-0.3 0.7,0.3 0.2,0.5 0,0.5 -0.4,0.6 -0.5,0.2 -0.7,-0.3 -0.3,-0.5 -0.1,-0.5 0.3,-0.5zM635.8,186.5l2.2,0.2 1,0.4 1.4,0.9 1.6,2.0 0.8,2.5 0.7,5.0 1,5.0 0.6,5.0 1.1,4.0 0.2,1.5 -0.4,1.8 -0.9,1.2 -1.1,0.6 -1,0.1 -0.8,-0.2 -1.7,-1.0 -1.7,-1.5 -2.3,-2.5 -1,-1.7 -0.9,-2.8 -0.4,-6.5 -0.5,-1.5 -1.8,-3.5 -0.5,-1.5 -0.2,-2.5 0.4,-1.5 0.4,-1.0 1.5,-1.6 1,-0.6 1.3,-0.3zM596.5,190.0l2.5,-0.1 2.5,0.2 1.7,0.4 1.3,0.7 0.6,0.8 -0.2,0.5 -0.4,0.5 -1.5,0.7 -1.5,0.4 -2.5,0.3 -3,-0.1 -2.5,-0.6 -1.2,-0.7 -0.3,-0.5 0,-0.5 0.3,-0.5 0.7,-0.5 1.5,-0.6 2,-0.4zM568.2,191.5l2.3,-0.4 3,0.2 4,0.9 3.8,1.3 2.9,1.5 1.7,1.5 0.3,1.0 -0.2,0.5 -1,0.5 -3,0.4 -3.5,-0.3 -3.5,-0.7 -3.5,-1.3 -3,-1.6 -1.4,-1.5 -0.1,-1.0 0.4,-0.5 0.8,-0.5zM600.4,200.5l2.6,-0.3 3.5,0.3 4,1.0 3.5,1.4 2.7,1.6 1.4,1.5 0.1,1.0 -0.3,0.5 -1.4,0.8 -2.5,0.2 -3.5,-0.3 -3.5,-0.9 -3.3,-1.3 -3.3,-2.0 -1.3,-1.5 -0.2,-0.5 0.1,-0.7 0.3,-0.3 1.1,-0.5zM540.4,59.5l1.6,-0.5 1.5,0.2 1.5,0.8 1.2,1.5 0.5,1.5 -0.3,2.0 -0.8,1.5 -1.3,1.0 -1.8,0.5 -1.5,-0.2 -1.5,-0.8 -1.1,-1.5 -0.4,-1.5 0.2,-2.0 0.9,-1.5 1.3,-1.0zM502.5,63.0l1.5,-0.3 1,0.1 1,0.4 1.4,1.3 0.8,1.5 0.4,2.0 -0.4,2.0 -0.4,1.0 -0.8,1.0 -1.4,1.0 -1.6,0.3 -1,-0.1 -1,-0.4 -1.4,-1.3 -0.8,-1.5 -0.4,-2.0 0.4,-2.0 0.4,-1.0 0.8,-1.0 1.5,-1.0zM599.5,71.0l1,-0.2 1,0.2 1.5,1.3 0.8,1.2 0.6,1.5 0.8,4.0 0,4.0 -0.6,3.5 -0.6,1.5 -0.8,1.5 -0.7,0.9 -0.9,0.6 -0.6,0.2 -1,0.1 -1,-0.5 -1,-0.9 -0.8,-1.4 -0.7,-1.5 -0.7,-3.5 -0.1,-4.0 0.7,-4.0 0.6,-1.5 0.8,-1.5 0.7,-0.8 1,-0.7zM564.2,86.5l1.8,0.0 2,0.3 1.5,0.6 1.5,0.9 1.3,1.2 1,1.5 0.6,1.5 0.2,1.5 0,1.5 -0.4,1.5 -0.7,1.5 -1.1,1.5 -1.4,1.2 -1.5,0.9 -2,0.7 -1.7,0.2 -1.8,-0.1 -1.5,-0.2 -1.7,-0.7 -1.7,-1.0 -1.1,-1.0 -1.2,-1.5 -0.7,-1.5 -0.4,-1.5 0.1,-1.5 0.4,-1.5 0.9,-1.5 1.2,-1.5 1.7,-1.3 1.5,-0.8 1.5,-0.6 1.7,-0.3zM528.5,91.5l2,-0.5 2,0.5 1.5,1.0 0.8,1.0 0.5,1.0 0.4,2.0 -0.4,2.0 -1.3,1.9 -1.5,1.1 -2,0.4 -2,-0.4 -1.5,-1.1 -1.2,-1.9 -0.3,-2.0 0.3,-2.0 1.2,-1.9 1.5,-1.1zM551.9,132.0l1.6,-0.1 1.5,0.2 1.5,0.5 1.5,0.7 1.9,1.7 0.7,1.0 0.5,1.5 0.1,1.0 -0.1,1.5 -0.6,1.5 -0.6,1.0 -1.9,1.7 -1.5,0.7 -1.5,0.3 -1.5,0.1 -2,-0.3 -1.5,-0.4 -1.5,-0.8 -1.2,-0.8 -0.9,-1.0 -0.7,-1.0 -0.5,-1.5 -0.1,-1.5 0.2,-1.0 0.6,-1.5 0.8,-1.0 1.1,-1.0 1.2,-0.7 1.5,-0.5 1.4,-0.3zM479.7,139.0l0.8,-0.3 0.5,0.1 1,1.0 0.9,2.2 0.5,3.0 0.1,3.0 -0.4,3.0 -0.8,2.5 -1,1.5 -0.8,0.3 -0.5,-0.1 -1,-1.0 -0.9,-2.2 -0.5,-3.0 -0.1,-3.0 0.4,-3.0 0.8,-2.5 1,-1.5zM518.1,148.0l1.4,0.1 1,0.3 1,0.7 0.9,0.9 0.7,1.0 0.7,1.5 0.4,2.5 -0.3,3.0 -1.1,2.5 -0.8,0.9 -1,0.9 -1,0.5 -1.3,0.2 -1.2,-0.1 -1,-0.4 -1,-0.6 -0.9,-0.9 -0.6,-1.0 -0.7,-1.5 -0.5,-2.5 0.3,-3.0 1.2,-2.5 0.7,-0.9 1,-0.8 1,-0.6 1.1,-0.2zM595.9,151.0l2.6,-0.4 1.5,0.2 1.5,0.5 1.3,0.7 1.1,1.0 0.8,1.0 0.7,1.5 0.4,1.5 0,1.5 -0.3,1.5 -0.5,1.3 -0.8,1.2 -1.2,1.2 -1,0.7 -1.5,0.7 -1.5,0.4 -1.5,0.0 -1.5,-0.2 -1.5,-0.6 -1,-0.7 -1.1,-1.0 -0.7,-1.0 -0.7,-1.5 -0.3,-1.5 -0.1,-1.5 0.7,-2.5 1,-1.5 1,-1.0 1.2,-0.9 1.4,-0.6zM568.4,161.0l1.1,-0.3 1.5,0.0 1.5,0.3 1,0.5 1.4,1.0 0.9,1.0 1,1.5 0.7,1.5 0.5,3.0 -0.1,2.0 -0.3,1.5 -0.5,1.5 -0.9,1.5 -1.2,1.3 -1,0.8 -1,0.5 -1.5,0.3 -1.5,-0.1 -1.5,-0.5 -1,-0.6 -1.2,-1.2 -1,-1.5 -0.6,-1.5 -0.5,-2.0 -0.2,-2.0 0.1,-2.0 0.5,-2.0 0.6,-1.5 0.8,-1.2 1,-1.0 1.4,-0.8zM629.0,162.5l1,-0.1 1,0.2 1,0.4 1,0.8 1.2,1.7 0.8,2.5 0,1.5 -0.1,1.5 -0.9,2.3 -1.5,1.8 -1,0.6 -1,0.3 -1,0.0 -1,-0.2 -1,-0.6 -0.9,-0.7 -1.3,-2.0 -0.6,-2.5 0.2,-2.5 0.9,-2.5 1.3,-1.5 0.9,-0.6 1,-0.4zM636.4,188.5l1.1,0.1 1.5,0.7 1.1,1.2 0.7,1.5 0.1,2.5 -0.8,4.5 0.3,1.0 1.1,2.4 0.4,1.6 0.3,6.0 1.3,1.8 0.4,1.2 -0.4,0.7 -0.5,0.0 -0.8,-0.7 -0.9,-2.0 -2.3,-2.3 -1,-1.7 -0.4,-2.5 0.4,-4.0 -0.2,-1.0 -0.7,-1.0 -2.6,-2.6 -0.9,-1.4 -0.4,-1.0 0,-2.0 0.6,-1.5 1.2,-1.1 1.4,-0.4zM598.1,191.0l2.4,0.2 1.1,0.3 0.4,0.5 -0.5,0.6 -2,0.5 -2,-0.1 -1.6,-0.5 -0.3,-0.5 0.5,-0.5 2,-0.5zM541.1,60.5l1.4,-0.2 1,0.2 1,0.7 0.8,1.3 0.1,1.5 -0.3,1.0 -0.6,0.8 -1,0.7 -1.5,0.2 -1,-0.2 -1,-0.8 -0.7,-1.2 -0.1,-1.5 0.3,-1.0 0.8,-1.0 0.8,-0.5zM502.7,64.5l1.3,-0.3 1,0.1 1.1,0.7 0.9,1.5 0.3,1.5 -0.3,1.5 -0.5,1.0 -1.1,1.0 -1.4,0.3 -1,-0.1 -1.1,-0.7 -0.9,-1.5 -0.3,-1.5 0.3,-1.5 0.5,-1.0 1.2,-1.0zM599.4,74.0l1.1,-0.4 1,0.3 0.5,0.4 1.1,1.7 0.7,3.0 0.1,3.0 -0.3,2.5 -1,2.5 -1.1,1.1 -0.5,0.3 -1,0.0 -1,-0.6 -1.1,-1.8 -0.7,-2.5 -0.2,-3.0 0.3,-2.5 0.9,-2.5 1.2,-1.5zM562.8,89.0l1.2,-0.3 1.5,-0.1 2.5,0.5 2.1,1.4 0.8,1.0 0.5,1.0 0.3,1.0 0.1,1.5 -0.3,1.3 -0.5,1.1 -1.5,1.8 -1,0.7 -1.5,0.6 -1.5,0.3 -1.5,0.0 -2.5,-0.7 -1,-0.6 -1.1,-1.0 -1.2,-2.0 -0.2,-1.0 0.1,-1.5 0.8,-2.0 1.6,-1.8 2.3,-1.2zM530.4,92.5l1.6,0.3 1,0.7 0.7,1.0 0.5,1.5 -0.1,1.5 -0.8,1.5 -1.1,1.0 -1.2,0.4 -1.5,-0.1 -1.4,-0.8 -0.8,-1.0 -0.5,-1.5 0.1,-1.5 0.7,-1.5 1.4,-1.2 1.4,-0.3zM550.8,134.0l2.2,-0.4 2.3,0.4 1.9,1.0 1.3,1.5 0.4,1.0 0.1,1.0 -0.1,1.0 -0.4,1.0 -1.3,1.5 -1.7,0.9 -2,0.4 -2.5,-0.4 -1.8,-0.9 -1.4,-1.5 -0.4,-1.0 -0.2,-1.0 0.1,-1.0 0.4,-1.0 1.2,-1.5 1.9,-1.0zM479.7,141.5l0.8,-0.5 0.5,0.2 0.5,0.5 0.6,1.3 0.4,2.0 0.1,2.5 -0.2,2.5 -0.5,1.5 -0.9,1.3 -0.5,0.2 -0.5,-0.2 -0.5,-0.5 -0.6,-1.3 -0.4,-2.0 -0.1,-2.5 0.1,-2.0 0.5,-1.8 0.7,-1.2zM516.9,150.5l1.6,-0.5 1.5,0.4 1.5,1.3 0.9,1.8 0.2,2.0 -0.2,2.0 -0.9,1.8 -1.4,1.2 -1.6,0.4 -1.5,-0.3 -1.5,-1.4 -0.8,-1.7 -0.3,-2.0 0.3,-2.0 0.8,-1.7 1.4,-1.3zM596.6,153.0l1.9,-0.3 2,0.4 1.5,1.0 0.7,0.9 0.6,1.0 0.3,2.0 -0.5,2.0 -1.1,1.4 -1.6,1.1 -1.9,0.5 -2,-0.3 -1.9,-1.2 -1.1,-1.6 -0.4,-1.9 0.4,-2.1 0.5,-0.9 0.9,-1.0 1.7,-1.0zM569.0,163.5l1,-0.3 1,0.0 1,0.2 1,0.5 1.7,1.6 0.6,1.0 0.5,1.5 0.2,2.5 -0.5,2.5 -1.2,2.0 -0.8,0.8 -1,0.6 -1,0.2 -1,0.1 -1,-0.3 -1,-0.5 -1.5,-1.6 -1,-2.3 -0.3,-2.5 0.5,-2.5 1,-2.0 0.8,-0.9 1,-0.6zM629.0,165.5l1,-0.2 1,0.3 1.1,0.9 0.6,1.5 0.1,1.5 -0.3,1.4 -0.7,1.1 -0.8,0.7 -1,0.3 -1.4,-0.5 -1,-1.0 -0.4,-1.0 -0.2,-1.5 0.3,-1.5 0.7,-1.3 1,-0.7z" fill="none" stroke="#000" stroke-width="1.35" stroke-linejoin="round" clip-path="url(#cbt)"/>
<path d="M540.4,52.5l3.1,-0.4 2,0.1 1.5,0.4 3,1.2 2.9,2.2 2,2.5 1.3,2.5 0.9,3.0 1,5.5 0.4,1.0 1,0.9 2.2,0.6 6.3,0.3 4,0.5 10.5,2.5 1,0.0 1,-0.3 1.5,-1.4 1,-1.8 3.1,-7.8 2,-4.0 2.4,-3.5 1.5,-1.6 1.5,-1.1 1.5,-0.8 1.5,-0.4 2,0.0 1.5,0.3 1.5,0.7 1.8,1.4 1.5,1.5 1.4,2.0 1.4,2.5 1.1,2.5 1.6,5.0 1.3,6.5 0.5,6.5 -0.2,7.0 -0.7,6.0 -1.4,6.0 -2.1,5.5 -2,3.5 -2.2,2.8 -2,1.7 -2.5,1.3 -2,0.4 -2,-0.1 -2,-0.4 -4,-1.5 -1.5,-0.2 -1.5,0.1 -2,0.8 -3.6,2.6 -4.1,3.5 -1.4,2.0 -0.3,1.0 0,1.0 0.6,1.5 1.6,2.0 2.2,1.9 2.5,1.4 4,1.3 10,1.5 5,1.2 6,2.4 8.7,4.8 2.8,1.2 2.7,0.8 6.8,1.2 3.5,1.0 3,1.5 2.5,1.7 2.5,2.3 2.2,2.8 2.6,4.5 1.9,5.0 3.3,13.0 3.4,9.0 1.3,4.5 1.1,5.0 0.6,5.5 0.4,5.5 0,5.0 -0.4,4.0 -0.6,3.0 -1.2,3.0 -1.4,2.5 -2.2,2.7 -2.5,2.2 -3,1.9 -3.5,1.3 -3.5,0.5 -3.5,-0.3 -4,-1.3 -8,-3.9 -3.5,-1.4 -4.8,-1.2 -13.7,-2.8 -7.5,-1.9 -8.5,-2.6 -10.5,-3.9 -8.5,-3.5 -21,-9.1 -6,-3.0 -3,-1.9 -2,-1.6 -1.8,-1.7 -1.6,-2.0 -1.6,-3.0 -0.6,-2.0 -0.6,-3.5 -0.3,-0.7 -0.5,-0.5 -1.5,-0.3 -5,0.3 -2.5,0.0 -2.5,-0.3 -2.5,-0.7 -2.5,-1.2 -2.5,-1.7 -2.5,-2.4 -1.8,-2.5 -1.9,-3.5 -1.2,-3.5 -0.9,-4.0 -0.3,-4.0 0.3,-4.0 0.7,-3.5 1.3,-4.0 1.9,-3.5 1.8,-2.5 1.6,-1.7 2,-1.7 2.5,-1.5 2,-0.8 2,-0.6 8,-1.3 1.5,-0.6 1.4,-0.8 2.1,-1.7 7.3,-6.8 1.3,-1.5 0.6,-1.0 0.1,-1.0 -0.2,-0.5 -1.1,-0.8 -1.5,-0.5 -6,-0.8 -3,-0.7 -3.5,-1.5 -1.5,-0.9 -2,-1.6 -2.4,-2.7 -2.1,-3.5 -1.1,-3.5 -0.5,-4.0 0.2,-3.0 0.7,-3.0 1.4,-3.0 1.8,-2.5 2,-1.9 2,-1.3 3,-1.4 5.2,-1.9 1.3,-1.0 0.3,-1.0 -0.2,-1.0 -2.3,-5.0 -1,-3.5 -0.2,-3.0 0.4,-3.0 0.7,-2.0 0.7,-1.5 1,-1.5 1.3,-1.5 2.8,-2.1 1.5,-0.8 1.9,-0.6zM502.4,54.5l2.6,-0.4 3,0.4 2.5,0.9 2.5,1.5 2.1,2.1 1.8,2.5 1.3,3.0 0.7,2.5 0.3,3.5 -0.3,3.5 -0.8,3.0 -1.3,3.0 -1.4,2.0 -1.9,1.8 -2.5,1.4 -2.5,0.8 -3,0.3 -2.5,-0.3 -2.5,-0.9 -2.5,-1.4 -2,-1.8 -1.8,-2.4 -1.5,-3.0 -0.8,-3.0 -0.4,-3.0 0.2,-3.0 0.7,-3.0 1.3,-3.0 1.7,-2.5 2.1,-2.1 2.5,-1.6 2.4,-0.8zM480.2,124.5l0.8,-0.3 1,-0.1 1.5,0.5 1.7,1.4 1.6,2.5 1.3,3.0 1.2,4.0 0.9,5.0 0.5,4.5 0.1,4.5 -0.1,4.5 -0.5,4.5 -0.9,4.5 -1.1,3.5 -1.6,3.5 -1.6,2.3 -1.6,1.2 -0.9,0.3 -1,0.1 -1.5,-0.5 -1.7,-1.4 -1.6,-2.5 -1.3,-3.0 -1.2,-4.0 -0.9,-5.0 -0.4,-4.5 -0.1,-5.0 0.2,-5.0 0.6,-4.5 0.7,-3.5 1.1,-3.5 1.5,-3.5 1.6,-2.2 1.7,-1.3zM540.6,54.0l1.4,-0.3 2,-0.1 1.5,0.2 2,0.5 2,1.0 1.5,1.1 1.2,1.1 1.2,1.5 1.4,3.0 0.7,3.0 0.1,2.0 -0.2,2.0 -1,5.0 0.1,1.0 0.4,0.5 0.6,0.2 1.5,0.1 9,-0.7 5,0.3 5,1.3 7,3.0 1.5,0.4 1.5,-0.2 1,-1.0 1,-2.1 2.8,-8.8 1.9,-4.5 1.1,-2.0 1.5,-2.0 1.2,-1.3 1.5,-1.2 1.5,-0.7 2,-0.4 1.5,0.1 1.5,0.6 1.5,0.9 1.5,1.4 1.5,1.9 1.3,2.2 2,5.0 1.3,5.5 0.8,6.0 0,6.0 -0.6,6.5 -1.2,5.5 -1.8,5.0 -2.2,4.0 -1.6,1.9 -1.5,1.3 -2,1.1 -2,0.5 -1.5,-0.1 -2,-0.5 -6,-3.3 -1.5,-0.2 -1,0.3 -1.5,0.9 -4.7,4.1 -2.8,2.2 -4,2.5 -6.7,3.3 -1.3,1.0 -0.4,1.0 0.4,1.0 0.8,1.0 8.7,8.9 2.5,2.2 2.3,1.4 2.2,0.7 2.5,0.4 8.5,0.0 3.5,0.2 3,0.5 3.5,0.9 2.5,1.0 3,1.6 7,4.6 2.5,1.3 2.5,0.6 5.5,0.1 2.5,0.3 2.5,0.6 2.5,1.0 2.5,1.6 1.8,1.6 1.8,2.0 1.7,2.5 1.9,4.0 1.1,3.5 0.9,4.0 0.9,6.5 0.8,3.0 4,9.5 1.7,6.0 0.8,5.0 0.5,6.5 0,6.0 -0.4,4.0 -1.2,4.0 -1.1,2.0 -1,1.5 -1.7,1.8 -1.5,1.3 -2,1.2 -1.5,0.7 -3.5,0.8 -2,0.1 -2,-0.2 -3.5,-1.1 -4.5,-2.3 -3.5,-1.8 -4,-1.4 -19,-3.9 -7,-1.9 -7.5,-2.4 -17,-6.2 -14.2,-5.7 -10.8,-3.8 -4,-1.8 -3,-1.8 -2.6,-2.1 -2.2,-2.5 -1,-2.0 -0.5,-2.5 0,-1.5 0.4,-2.0 0.8,-2.0 0.8,-1.5 2.3,-2.5 4.3,-3.0 0.5,-1.0 0.1,-1.0 -0.2,-1.0 -1.1,-2.5 -1.6,-2.4 -1.5,-1.2 -1,-0.1 -1.5,1.1 -4.7,6.1 -1.8,1.9 -1.5,1.2 -1.5,1.0 -2,1.0 -2,0.6 -1.5,0.3 -2,0.1 -2.5,-0.4 -2,-0.6 -2,-1.1 -2,-1.5 -1.5,-1.4 -1.6,-2.1 -1.2,-2.0 -1.5,-3.5 -0.8,-3.5 -0.4,-3.5 0.1,-4.0 0.7,-3.5 1.2,-3.5 1.5,-3.0 2,-2.7 1.5,-1.5 2,-1.5 2,-1.0 2,-0.7 2,-0.4 2,-0.1 6.5,0.5 2,-0.5 1.5,-1.1 5,-5.9 3,-2.6 4.5,-2.8 6.8,-3.2 1.2,-0.8 0.4,-0.7 0.1,-0.5 -0.5,-1.0 -1.5,-1.5 -3.5,-2.5 -2.5,-1.1 -1.5,-0.3 -1.5,-0.1 -6,1.0 -3,0.2 -3.5,-0.6 -3,-1.2 -2.7,-1.9 -2.3,-2.5 -1.7,-3.0 -1.1,-3.5 -0.2,-2.0 0.1,-2.0 0.2,-2.0 0.6,-2.0 0.9,-2.0 0.9,-1.5 1.3,-1.6 1.5,-1.4 2.5,-1.6 3,-1.2 3.5,-0.6 8,-0.4 2,-0.7 0.6,-0.5 0.3,-0.5 -0.1,-0.5 -0.4,-0.5 -4.9,-2.7 -1.5,-1.3 -1.5,-1.5 -1.1,-1.5 -1.1,-2.0 -0.7,-2.0 -0.3,-2.0 0,-2.5 0.4,-2.0 0.7,-2.0 0.8,-1.5 1.6,-2.0 1.7,-1.4 1.5,-0.8 2.1,-0.8zM503.8,56.0l2.2,-0.1 2.5,0.5 2,0.9 2.3,1.7 1.8,2.0 1.2,2.0 1,2.5 0.6,3.0 0,3.0 -0.3,2.5 -0.8,2.5 -1.4,2.5 -1.6,2.0 -1.8,1.4 -2.5,1.3 -2,0.5 -2.5,0.1 -2.5,-0.6 -2,-0.9 -2,-1.4 -1.8,-1.9 -1.6,-2.5 -0.9,-2.5 -0.5,-2.5 -0.1,-3.0 0.4,-2.5 0.7,-2.5 1.3,-2.5 1.6,-2.0 1.9,-1.6 2.5,-1.3 2.3,-0.6zM481.1,127.0l1.4,0.0 1.5,0.8 1.5,1.8 1.3,2.4 1.1,3.0 0.9,4.0 0.6,4.0 0.3,4.5 0,4.0 -0.4,4.5 -0.6,4.0 -0.9,3.5 -1,2.5 -1.3,2.5 -1.5,1.7 -1.6,0.8 -1.4,0.0 -1.5,-0.8 -1.5,-1.7 -1.3,-2.5 -1,-2.5 -1,-4.0 -0.6,-4.0 -0.3,-4.5 0,-4.5 0.4,-4.5 0.6,-4.0 0.9,-3.5 1.2,-3.0 1.1,-2.0 1.5,-1.7 1.6,-0.8zM542.0,55.0l2,-0.1 2,0.3 2,0.7 1.5,0.9 1.4,1.2 1.2,1.5 1.1,2.0 0.6,2.0 0.3,2.5 -0.2,2.0 -0.5,2.0 -0.9,2.0 -1.5,2.0 -1.5,1.3 -1.5,0.9 -2,0.6 -2.5,0.1 -2,-0.3 -2,-0.7 -2,-1.2 -1.5,-1.4 -1.3,-1.8 -1,-2.0 -0.5,-2.0 -0.1,-2.0 0.2,-2.0 0.6,-2.0 1,-2.0 1.6,-1.8 1.5,-1.2 2,-1.0 2,-0.5zM503.9,57.5l2.1,-0.1 2,0.4 2,0.9 2,1.5 1.6,1.8 1.2,2.0 0.9,2.5 0.3,2.0 0.1,2.0 -0.3,2.5 -0.7,2.5 -1,2.0 -1.6,2.0 -1.5,1.3 -2,1.2 -2,0.5 -2,0.2 -2.5,-0.4 -2,-0.9 -1.9,-1.4 -1.8,-2.0 -1.1,-2.0 -0.9,-2.5 -0.4,-2.0 0,-2.5 0.4,-2.5 0.9,-2.5 1.1,-2.0 1.7,-1.9 1.5,-1.1 2,-1.0 1.9,-0.5zM600.1,59.0l1.4,-0.2 1,0.0 2,0.7 2,1.6 1.6,1.9 1.7,3.0 1.3,3.5 1.1,4.0 0.6,4.0 0.3,4.5 -0.1,4.5 -0.4,4.0 -0.9,4.5 -1.1,3.5 -1.3,3.0 -1.8,2.8 -2,2.0 -1.5,1.0 -1.5,0.5 -2,0.1 -1.5,-0.4 -1.5,-0.7 -1.5,-1.1 -4.5,-4.3 -1,-0.5 -1,0.0 -1.5,1.4 -2.6,3.7 -2.1,2.5 -2.3,2.3 -2.5,1.9 -3,1.7 -3,1.2 -3.5,1.0 -3,0.4 -4.5,-0.2 -4,-1.1 -4,-1.9 -6,-3.5 -2.5,-1.0 -1.5,-0.2 -1.5,0.2 -4.5,1.5 -2.5,0.7 -2.5,0.2 -2.5,-0.2 -2,-0.6 -2,-1.0 -1.9,-1.4 -1.4,-1.5 -1.4,-2.0 -1,-2.5 -0.5,-2.0 -0.2,-2.5 0.2,-2.0 0.5,-2.0 1.2,-2.5 1.4,-2.0 1.6,-1.5 1.5,-1.1 1.5,-0.8 2,-0.6 2,-0.4 3.5,0.1 6,1.0 2.7,-0.2 2.5,-1.0 6.3,-3.9 3.5,-1.6 4.5,-1.4 5,-0.7 2.5,0.0 2.5,0.3 4.5,1.2 2,0.8 2.5,1.4 6.5,4.5 1,0.3 0.5,-0.2 0.5,-0.6 0.7,-1.6 2.4,-11.0 1.1,-3.5 1,-2.5 1.7,-3.0 1.6,-2.1 2,-1.7 1.6,-0.7zM551.6,124.5l3.9,-0.4 3.5,0.3 3.5,1.0 3.5,1.7 3,2.1 2.5,2.3 2.1,2.5 3.4,4.6 1.5,1.7 1.5,1.2 1.5,0.7 2,0.5 2,0.0 8,-1.2 3.5,-0.3 3,0.1 2.5,0.4 4,1.1 3.5,1.8 3,2.1 5,4.4 2,1.2 1,0.3 1.5,0.0 5,-0.6 2.5,-0.1 2.5,0.3 2.5,0.7 3,1.7 2.5,2.3 2.2,3.1 1.4,3.0 1,3.0 0.6,3.0 0.7,8.5 0.5,2.5 0.9,2.5 3,5.5 1.4,3.5 1.4,5.5 0.8,6.0 0.4,8.5 -0.1,3.0 -0.4,2.5 -0.6,2.0 -1,2.0 -1.3,2.0 -1.5,1.5 -2.4,1.6 -2.5,0.9 -2.5,0.3 -3,-0.2 -3.5,-1.2 -6.3,-3.4 -3.2,-1.3 -3.1,-0.7 -10.9,-1.8 -6.5,-1.5 -8.5,-2.4 -11,-3.8 -15,-5.2 -12.5,-4.8 -8,-2.2 -3,-1.0 -2.5,-1.1 -2.5,-1.4 -2,-1.4 -2,-1.9 -1.7,-2.5 -0.5,-1.5 -0.2,-1.5 0.1,-2.0 0.3,-1.5 0.6,-1.5 1,-1.5 1.9,-1.7 2.5,-0.9 1.5,-0.2 1.5,0.1 4.5,1.4 0.5,-0.1 0.5,-0.6 0.1,-1.0 -0.6,-2.5 -1,-2.5 -6,-12.1 -1.2,-1.9 -1.3,-1.7 -1.5,-1.5 -1.5,-1.1 -1.5,-0.5 -0.5,0.2 -0.5,0.7 -2.3,9.4 -1,2.5 -1.7,3.0 -1.5,2.0 -1.5,1.5 -1.5,1.1 -2,1.1 -2.5,0.8 -2.5,0.1 -2.5,-0.4 -2,-0.8 -2.1,-1.4 -2.1,-2.0 -1.5,-2.0 -1.5,-3.0 -1,-3.0 -0.6,-3.5 0,-3.5 0.4,-3.0 0.8,-3.0 1.3,-3.0 1.6,-2.5 1.7,-1.8 2,-1.6 2,-1.1 2.5,-0.7 2,-0.2 3.5,0.5 2,0.7 4.5,2.0 1,0.2 0.5,-0.1 0.5,-0.3 0.5,-0.7 1.8,-4.4 1.6,-3.0 1.5,-2.0 1.9,-2.0 2.7,-2.0 3,-1.7 3,-1.1 3.1,-0.7zM480.7,129.5l1.3,-0.2 1.5,0.6 1.5,1.6 1.1,2.0 1.1,3.0 0.6,2.5 0.6,3.0 0.4,4.5 0,4.0 -0.2,3.5 -0.5,3.5 -0.7,3.5 -1.1,3.0 -1,2.0 -1.3,1.7 -1.3,0.8 -1.2,0.2 -1.5,-0.6 -1.2,-1.1 -1.3,-2.2 -0.9,-2.3 -0.9,-3.0 -0.5,-3.0 -0.5,-4.5 -0.1,-4.0 0.2,-3.5 0.5,-4.0 0.8,-3.5 1,-3.0 1,-2.0 1.4,-1.7 1.2,-0.8zM542.1,57.5l1.9,-0.1 1.5,0.2 2.5,1.2 1,0.8 1.1,1.4 0.8,1.5 0.5,1.5 0.1,1.5 -0.1,1.5 -0.4,1.5 -0.7,1.5 -1.2,1.5 -1.1,0.9 -1.5,0.8 -1,0.4 -1.5,0.2 -1.5,-0.1 -1.5,-0.3 -1.5,-0.7 -1.5,-1.2 -0.9,-1.0 -0.8,-1.5 -0.5,-1.5 -0.3,-1.5 0.2,-2.0 0.4,-1.5 0.8,-1.5 1.1,-1.4 1,-0.8 1.5,-0.8 1.6,-0.5zM503.7,60.5l1.8,-0.2 1.5,0.3 1.5,0.5 1.5,1.0 1.4,1.4 0.9,1.5 1.1,3.0 0.1,2.0 -0.1,2.0 -0.6,2.0 -0.7,1.5 -1.1,1.5 -1.1,1.0 -1.4,0.9 -1.7,0.6 -1.8,0.2 -1.5,-0.2 -1.5,-0.6 -1.5,-0.9 -1,-1.0 -1.1,-1.5 -0.8,-1.5 -0.5,-2.0 -0.2,-2.0 0.2,-2.0 0.5,-2.0 0.8,-1.5 1.1,-1.5 1.5,-1.3 1.5,-0.8 1.2,-0.4zM600.9,64.5l1.1,-0.1 1,0.2 1.5,0.8 1.5,1.5 1.4,2.1 1.1,2.5 1,3.0 0.6,3.5 0.3,3.5 0,3.5 -0.3,3.5 -0.7,3.5 -1,3.0 -1.2,2.5 -1.3,2.0 -1.9,1.6 -1.5,0.7 -2,-0.1 -1.5,-0.6 -1.5,-1.2 -1.5,-1.9 -1.3,-2.5 -1,-3.0 -0.6,-3.0 -0.4,-3.5 0,-4.0 0.4,-4.0 0.7,-3.5 1,-3.0 1.2,-2.6 1.5,-2.2 1.5,-1.4 1.9,-0.8zM564.8,82.0l2.7,-0.1 2.5,0.3 2.5,0.7 2,0.8 2,1.2 2,1.6 1.7,2.0 1.2,2.0 0.8,2.0 0.5,2.5 0,2.0 -0.4,2.5 -0.6,2.0 -1,2.0 -1.5,2.0 -1.7,1.8 -3,2.1 -3,1.3 -4,0.9 -3.5,0.0 -4,-0.8 -3.5,-1.5 -3.5,-2.2 -5.5,-4.4 -2,-1.2 -1,-0.2 -1,0.2 -1,0.6 -1.5,1.4 -2.1,2.0 -1.9,1.4 -1.5,0.8 -2,0.5 -2,0.2 -2,-0.3 -2,-0.9 -1.5,-1.1 -1.5,-1.6 -1.1,-2.0 -0.6,-2.0 -0.2,-2.0 0.2,-2.0 0.6,-2.0 1,-2.0 1.6,-1.7 1.5,-1.1 2,-0.9 2,-0.3 2,0.1 2,0.5 1.5,0.6 5.5,3.6 1,0.2 1,0.0 1,-0.4 1.5,-1.0 6.2,-5.1 3.3,-2.3 4,-1.8 2,-0.5 2.3,-0.4zM550.7,129.0l3.8,-0.4 4,0.5 3.5,1.2 1.5,0.8 1.9,1.4 2.2,2.5 1.7,3.0 0.8,3.0 0.9,5.3 1,2.2 1,1.3 1.5,1.3 2,1.3 2,0.8 2.5,0.5 2,-0.4 1.5,-0.8 4,-2.8 2.5,-1.5 2.5,-1.0 3,-0.8 3,-0.2 2.5,0.3 2.5,0.7 2.5,1.2 2,1.4 1.5,1.4 1.4,1.8 1.2,2.0 1.5,4.0 1.4,7.3 0.5,0.9 0.5,-0.1 0.5,-0.4 3.4,-4.2 2.6,-2.5 2.1,-1.5 2.4,-1.0 1.5,-0.4 1.5,0.0 2.5,0.4 2.5,1.2 2,1.8 1.1,1.5 1.2,2.0 0.9,2.5 0.5,2.5 0.2,4.0 -1,7.5 0.2,2.0 0.8,1.5 3.1,3.3 1.6,2.2 1.2,2.5 1.1,3.5 0.9,4.5 0.6,4.5 0.7,8.0 -0.1,3.0 -0.3,1.5 -0.5,1.5 -1.3,2.0 -1.9,1.5 -2.5,0.8 -2.5,-0.1 -3,-0.9 -2.4,-1.3 -5.1,-3.3 -1.5,-0.7 -2,-0.4 -8,-0.4 -4,-0.4 -4.5,-0.7 -5,-1.3 -5,-1.6 -12.6,-4.7 -11.9,-3.2 -5,-1.6 -4,-1.5 -6.5,-3.0 -2,-0.8 -2,-0.3 -5,-0.2 -3.5,-0.7 -3.5,-1.7 -2.5,-2.0 -1.2,-1.5 -1.3,-2.3 -0.7,-1.7 -0.3,-1.5 0.1,-1.5 0.6,-1.5 0.9,-1.0 1.4,-0.8 2,-0.1 1,0.3 0.9,0.6 0.9,1.0 0.5,1.0 0.7,3.0 0.5,0.8 1.5,0.9 3.5,1.3 2.5,0.5 1,0.0 1.5,-0.3 1.6,-0.7 1.4,-0.9 0.5,-0.6 0.4,-1.0 -0.2,-1.5 -2.4,-6.0 -2.8,-9.1 -1,-2.1 -3.2,-5.3 -2.7,-6.0 -1,-1.5 -0.9,-1.0 -4.7,-4.0 -1.9,-2.0 -1.5,-2.5 -0.8,-2.5 -0.2,-2.5 0.4,-2.0 0.8,-2.0 1.3,-2.0 1.9,-1.9 2,-1.3 2.5,-1.2 2.2,-0.6zM481.2,134.0l1.3,0.1 1,0.7 1,1.2 0.7,1.5 0.7,2.0 0.7,3.0 0.5,5.0 -0.2,6.0 -1,5.0 -0.7,2.0 -1.1,2.0 -1.1,1.2 -0.8,0.3 -1.2,0.0 -1,-0.7 -1,-1.2 -0.8,-1.6 -0.9,-2.5 -0.4,-2.0 -0.6,-5.5 0,-3.5 0.3,-3.0 1,-5.0 0.8,-2.0 0.9,-1.5 0.7,-0.8 1.2,-0.7zM517.8,144.0l2.2,-0.3 2,0.3 2,0.8 1.8,1.2 1.7,1.8 1.3,2.2 0.8,2.0 0.6,2.5 0.2,2.5 -0.2,3.0 -0.6,2.5 -1,2.5 -1.2,2.0 -1.9,2.0 -2,1.3 -1.9,0.7 -2.1,0.2 -2,-0.3 -2,-0.9 -1.5,-1.1 -1.7,-1.9 -1.2,-2.0 -1,-2.5 -0.5,-2.5 -0.2,-2.5 0.2,-3.0 0.6,-2.5 1.1,-2.5 1.2,-1.8 1.5,-1.6 2,-1.4 1.8,-0.7zM615.5,178.7l-0.5,0.6 -0.5,1.2 -1.7,5.0 -0.5,2.0 0.3,1.5 2.1,3.0 0.5,1.0 0.2,1.0 0,2.0 0.2,1.0 0.7,1.0 2.3,1.5 3.2,1.5 2.2,0.8 1,0.1 1,-0.1 0.6,-0.3 0.5,-1.0 -0.1,-2.5 -0.9,-7.0 -0.4,-1.5 -0.7,-1.4 -0.9,-1.1 -4.2,-4.0 -3.4,-3.9 -0.5,-0.4 -0.5,0.0zM541.5,59.5l2,-0.4 1.5,0.2 1,0.4 1,0.5 1,0.9 0.7,0.9 0.7,1.5 0.3,2.5 -0.4,2.0 -1.3,2.0 -1,0.8 -1.3,0.7 -2.2,0.4 -1.5,-0.2 -1,-0.3 -1,-0.6 -1,-0.9 -0.7,-0.9 -0.7,-1.5 -0.3,-2.5 0.3,-1.5 0.4,-1.0 1.5,-1.9 2,-1.1zM504.5,62.5l1,0.0 1.5,0.2 1,0.5 1.1,0.8 1.6,2.0 0.6,1.5 0.3,1.5 0.1,1.5 -0.2,1.5 -1.1,2.5 -0.9,1.2 -1,0.8 -1.5,0.8 -1,0.2 -1,0.1 -1.5,-0.3 -1,-0.4 -1.2,-0.9 -1.6,-2.0 -0.6,-1.5 -0.3,-1.5 -0.1,-1.5 0.2,-1.5 1.1,-2.5 1,-1.3 1,-0.8 1.5,-0.7 1,-0.2zM601.4,68.5l1.1,0.1 1.5,0.7 1,1.0 1.1,1.7 0.9,2.0 0.8,2.5 0.5,2.5 0.2,3.0 0,3.0 -0.3,2.5 -0.5,2.5 -0.8,2.5 -0.9,1.8 -1,1.5 -1,1.0 -1.5,0.7 -1,0.2 -1.5,-0.4 -1.5,-1.2 -1.2,-1.6 -0.9,-2.0 -0.8,-2.5 -0.5,-2.5 -0.3,-3.0 0,-3.0 0.4,-3.0 0.5,-2.5 0.8,-2.5 1,-2.0 1.2,-1.5 1.3,-1.1 1.4,-0.4zM563.2,85.5l2.8,-0.4 2.5,0.1 2.5,0.6 2.5,1.2 2,1.4 1.5,1.7 1.1,1.9 0.8,2.5 0.2,2.0 -0.4,2.5 -0.9,2.5 -1.4,2.0 -1.9,1.9 -2,1.3 -2.5,1.1 -2.5,0.5 -2.5,0.1 -2.5,-0.4 -2.5,-0.8 -2.3,-1.2 -2.2,-1.7 -2.1,-2.3 -1.3,-2.0 -0.7,-2.0 0,-1.5 0.5,-2.0 1.2,-2.0 1.7,-2.0 2.2,-2.0 2,-1.3 2,-1.0 2.2,-0.7zM530.0,91.0l1.5,-0.2 1.5,0.0 2.5,1.0 1.5,1.1 1,1.1 0.7,1.0 0.6,1.5 0.2,1.5 -0.1,1.5 -0.5,1.5 -0.8,1.5 -1.1,1.4 -1,0.8 -1,0.7 -1.5,0.5 -1.5,0.3 -1.5,-0.1 -1.5,-0.5 -1,-0.6 -1,-0.8 -1,-1.2 -1.1,-2.5 -0.3,-1.5 0.1,-1.5 0.3,-1.5 0.6,-1.5 0.9,-1.3 1,-0.9 1,-0.7 1.5,-0.6zM551.8,131.5l3.2,-0.2 3,0.5 3,1.2 2.5,2.0 1.7,2.5 0.6,1.5 0.3,2.0 -0.3,3.0 -1.5,4.5 -0.3,1.5 0.2,1.5 0.6,1.0 1.8,2.0 1.9,1.4 6.5,2.7 3,1.7 2.1,1.7 3.9,3.6 1,0.5 0.5,-0.2 0.1,-0.4 1.3,-5.5 1.4,-3.5 2.1,-3.0 2.6,-2.2 2,-1.1 1.5,-0.5 2,-0.3 1.5,0.0 2,0.3 1.5,0.4 1.5,0.8 1.5,1.0 2,2.1 1.4,2.5 0.6,2.5 0,3.0 -0.6,2.5 -1.4,2.8 -2,2.4 -2.5,2.0 -2,1.0 -2.5,0.9 -2,0.3 -2,0.0 -1.5,-0.3 -2,-0.7 -1.7,-0.9 -2.8,-1.8 -1,-0.3 -0.5,0.8 -1.3,4.3 -1.5,3.0 -2.3,3.0 -2.4,2.1 -3,1.6 -2.5,0.5 -1.5,-0.1 -1.5,-0.4 -2.5,-1.5 -1.3,-1.2 -1.1,-1.5 -0.9,-1.5 -0.9,-2.0 -1,-4.0 -0.5,-6.5 -0.3,-2.0 -0.6,-1.5 -2.6,-4.5 -1.5,-5.0 -0.8,-1.0 -0.8,-0.5 -5.7,-2.7 -2.8,-1.8 -1.2,-1.1 -1.1,-1.4 -1.2,-2.5 -0.3,-2.0 0.2,-1.5 0.7,-2.0 0.9,-1.5 1.5,-1.5 1.8,-1.2 2,-0.8 1.8,-0.5zM480.8,137.5l0.7,-0.3 1,0.2 0.7,0.6 0.8,1.1 1.2,3.4 0.6,4.0 0,5.0 -0.6,4.0 -1.2,3.4 -0.8,1.1 -0.7,0.6 -0.5,0.2 -1,-0.2 -1,-0.8 -0.5,-0.8 -1.2,-3.0 -0.7,-4.5 0,-5.0 0.6,-4.0 1,-3.0 0.8,-1.3 0.8,-0.7zM518.2,147.0l1.8,-0.2 1.5,0.2 1.5,0.7 1.5,1.1 1.1,1.2 1.2,2.0 0.5,1.5 0.5,2.0 0.1,2.0 -0.2,2.0 -0.4,2.0 -0.8,2.0 -1,1.5 -1.4,1.5 -1.6,1.0 -1.3,0.5 -1.7,0.2 -1.5,-0.3 -1.5,-0.6 -1.5,-1.2 -1.4,-1.6 -0.8,-1.5 -0.6,-1.5 -0.4,-2.0 -0.2,-2.0 0.2,-2.0 0.4,-2.0 0.8,-2.0 1,-1.5 1.4,-1.5 1.1,-0.8 1.7,-0.7zM628.7,161.0l1.8,-0.4 1.5,0.1 1.5,0.4 1.5,0.9 1.2,1.0 1.1,1.5 1,2.0 0.6,2.0 0.3,2.0 -0.1,2.5 -0.4,2.0 -0.6,2.0 -1,2.0 -1.1,1.6 -1.5,1.4 -1.5,0.7 -1.5,0.2 -1.5,-0.2 -2,-0.8 -1.5,-1.1 -1.3,-1.3 -1.1,-1.5 -0.9,-2.0 -0.5,-2.0 -0.2,-2.0 0.1,-2.0 0.3,-2.0 0.8,-2.0 0.8,-1.5 1.2,-1.5 1.3,-1.1 1.7,-0.9zM543.0,182.0l1,-0.1 1,0.5 0.6,0.6 0.3,1.0 0,1.0 -0.4,1.0 -0.5,0.6 -1,0.4 -1,-0.2 -0.5,-0.3 -0.5,-0.5 -0.5,-1.0 -0.1,-1.0 0.3,-1.0 0.4,-0.5 0.9,-0.5zM634.8,187.0l1.2,-0.3 1.5,0.0 2,0.5 1.5,0.7 1.4,1.1 1.1,1.2 0.9,1.3 0.8,2.0 2,10.5 1.5,11.0 -0.3,2.0 -0.9,1.5 -1.5,1.2 -1.5,0.3 -1.5,-0.1 -1.5,-0.6 -3.2,-2.3 -2.9,-3.0 -1,-1.5 -0.6,-1.5 -0.4,-2.0 0.1,-4.0 -0.1,-2.0 -0.4,-1.5 -1.8,-5.0 -0.3,-3.0 0.4,-2.0 0.9,-2.0 1.3,-1.7 1.3,-0.8zM546.7,190.0l1.9,0.0 2.7,1.0 0.7,0.5 0.8,1.0 0,0.5 -0.4,0.5 -0.9,0.3 -1,0.0 -1.4,-0.3 -1.1,-0.5 -0.8,-0.5 -0.9,-1.0 -0.1,-1.0 0.5,-0.5zM598.2,191.0l3.8,0.1 3,0.5 2.2,0.9 1.1,1.0 0.1,1.0 -0.9,1.1 -2,1.1 -3.4,1.3 -0.4,0.5 0.7,0.5 1.6,0.5 8.5,2.4 5,2.0 2.9,1.6 2,1.5 1.3,1.5 0.4,1.0 -0.3,1.0 -0.4,0.5 -1.9,0.9 -3,0.4 -3.5,-0.1 -3.5,-0.5 -4,-1.0 -4,-1.4 -4,-2.0 -4.5,-2.4 -3,-1.2 -2.5,-0.5 -6,-0.7 -4,-0.6 -3.5,-0.9 -3.5,-1.1 -3.2,-1.4 -2.5,-1.5 -1.6,-1.5 -0.6,-1.0 -0.1,-0.5 0.4,-1.0 0.6,-0.6 1,-0.5 2.5,-0.6 2.5,-0.2 4,0.6 9,2.3 3,0.5 1.5,-0.4 2.6,-1.6 1.9,-0.7 2.5,-0.6 2.2,-0.2zM542.0,62.0l1.5,-0.3 1.5,0.3 1,0.7 0.9,1.3 0.3,1.5 -0.3,1.5 -0.9,1.4 -1,0.6 -1.5,0.3 -1.5,-0.3 -1,-0.7 -0.9,-1.3 -0.3,-1.5 0.3,-1.5 0.9,-1.3 1,-0.7zM504.8,65.5l1.7,0.2 1.2,0.8 1,1.5 0.4,1.5 -0.2,2.0 -0.8,1.5 -1.1,1.0 -1.4,0.5 -1.6,-0.2 -1.3,-0.8 -1,-1.5 -0.4,-1.5 0.2,-2.0 0.8,-1.5 1.2,-1.1 1.3,-0.4zM600.8,74.5l0.7,-0.2 1,0.1 0.8,0.6 0.7,0.8 1.1,2.2 0.6,3.0 0,3.5 -0.5,3.0 -1,2.5 -0.7,0.9 -0.8,0.6 -0.7,0.3 -1,-0.1 -1,-0.7 -0.5,-0.5 -1.2,-2.5 -0.6,-3.0 -0.1,-3.5 0.6,-3.0 1.1,-2.5 0.7,-0.9 0.8,-0.6zM563.8,90.0l1.7,-0.3 1.5,-0.1 1.5,0.2 1.5,0.6 1.1,0.6 1.2,1.0 0.7,1.0 0.8,1.5 0.3,1.5 -0.1,1.5 -0.4,1.5 -0.5,1.0 -1.1,1.4 -1,0.8 -1.3,0.8 -1.3,0.5 -1.4,0.3 -1.5,0.0 -1.5,-0.2 -1.5,-0.5 -1.2,-0.6 -1.3,-1.0 -0.9,-1.0 -0.8,-1.5 -0.3,-1.0 -0.1,-1.5 0.4,-1.5 0.7,-1.4 0.8,-1.1 1.2,-1.1 1.5,-0.9 1.3,-0.5zM530.5,94.0l1,-0.2 1,0.1 1.5,0.6 1.4,1.5 0.6,1.5 -0.1,2.0 -0.6,1.5 -1.3,1.4 -1.3,0.6 -1.7,0.1 -1.5,-0.6 -1.4,-1.5 -0.6,-1.5 0,-2.0 0.5,-1.5 1,-1.2 1.5,-0.8zM552.7,135.0l2.8,-0.1 2.5,0.8 1.7,1.3 0.8,1.0 0.5,1.0 0.2,1.0 0,1.5 -0.9,2.0 -0.8,0.9 -1,0.8 -1,0.5 -1.5,0.4 -1.5,0.1 -1.5,-0.2 -2.5,-0.9 -1.9,-1.6 -0.7,-1.0 -0.4,-1.0 0,-2.0 0.3,-1.0 0.6,-1.0 1.7,-1.5 1.4,-0.7 1.2,-0.3zM481.4,142.0l0.6,0.0 0.5,0.3 0.8,1.2 0.6,2.0 0.3,2.5 -0.1,3.0 -0.4,2.5 -0.7,1.6 -1,0.9 -0.5,0.0 -0.5,-0.2 -0.9,-1.3 -0.6,-2.0 -0.3,-2.5 0.1,-3.0 0.4,-2.5 0.8,-1.7 0.9,-0.8zM518.0,151.5l1,-0.3 1,-0.1 1.5,0.4 1,0.7 0.7,0.8 1,2.0 0.4,2.5 -0.4,2.5 -1,2.0 -0.7,0.7 -1,0.8 -1.5,0.4 -1,-0.1 -1,-0.3 -1,-0.7 -0.7,-0.8 -1.1,-2.0 -0.3,-2.5 0.3,-2.5 1.1,-2.0 0.7,-0.8 1,-0.7zM597.7,154.0l2.3,-0.3 1.5,0.3 1,0.4 1,0.7 1,0.9 1,2.0 0.3,1.0 0,1.5 -0.4,1.5 -0.5,1.0 -0.9,1.2 -1,0.8 -2,0.9 -2.5,0.2 -1.5,-0.4 -1,-0.6 -1.7,-1.6 -1,-2.0 -0.1,-1.0 0,-1.5 0.7,-2.0 1.6,-1.8 1,-0.7 1.2,-0.5zM569.8,164.5l1.2,-0.4 1,0.0 1.5,0.3 1,0.5 1.8,1.6 1.3,2.5 0.5,3.0 -0.5,3.0 -0.6,1.5 -0.7,1.0 -1.8,1.6 -2,0.6 -1.5,-0.2 -1,-0.3 -1,-0.7 -1,-1.0 -1.3,-2.5 -0.5,-3.0 0.1,-2.0 0.3,-1.5 0.7,-1.5 0.6,-1.0 1,-1.0 0.9,-0.5zM630.2,166.0l1.3,-0.1 1.5,0.6 1,1.0 0.9,2.0 0.2,2.0 -0.4,2.0 -0.8,1.5 -1.4,1.1 -1.5,0.3 -1.5,-0.4 -1.5,-1.5 -0.8,-2.0 -0.1,-2.0 0.5,-2.0 1,-1.5 0.9,-0.7 0.7,-0.3zM637.3,192.0l1.2,0.0 1,0.4 0.5,0.6 0.5,1.0 0.2,1.0 -0.2,1.0 -0.5,1.0 -0.8,0.5 -0.7,0.1 -1,-0.3 -1,-0.8 -0.6,-1.0 -0.3,-1.0 0.2,-1.0 0.6,-1.0 0.9,-0.5z" fill="none" stroke="#F2A427" stroke-width="1.3" stroke-linejoin="round" clip-path="url(#cbt)"/>
<path d="M574.8,180.1L578.8,184.1M578.8,180.1L574.8,184.1" stroke="#E0413F" stroke-width="1.6"/>
<path d="M593.2,189.5L597.2,193.5M597.2,189.5L593.2,193.5" stroke="#E0413F" stroke-width="1.6"/>
<path d="M616.5,189.5L620.5,193.5M620.5,189.5L616.5,193.5" stroke="#E0413F" stroke-width="1.6"/>
<ellipse cx="579.7" cy="190.1" rx="2.3" ry="2.3" fill="none" stroke="#E0413F" stroke-width="1.6" />
<ellipse cx="600.6" cy="199.6" rx="2.3" ry="2.3" fill="none" stroke="#E0413F" stroke-width="1.6" />
<ellipse cx="618.5" cy="200.0" rx="2.3" ry="2.3" fill="none" stroke="#E0413F" stroke-width="1.6" />
<path d="M572.3,184.6 L577.2,187.0 L565.0,214.4 L558.4,211.2 Z M594.3,191.8 L599.2,194.6 L586.4,221.3 L579.6,217.9 Z M619.5,192.3 H660.6 V199.3 H619.5" fill="none" stroke="#111" stroke-width="1.3"/>
<text x="531.0" y="220.7" font-family="'Liberation Serif', serif" font-size="15" text-anchor="start" fill="#111" font-weight="normal" >K23</text>
<text x="571.6" y="235.4" font-family="'Liberation Serif', serif" font-size="15" text-anchor="start" fill="#111" font-weight="normal" >E13</text>
<text x="664.2" y="201.5" font-family="'Liberation Serif', serif" font-size="15" text-anchor="start" fill="#111" font-weight="normal" >E20</text>
<text x="661.3" y="83.4" font-family="'Liberation Serif', serif" font-size="16.5" text-anchor="start" fill="#111" font-weight="normal" >WT</text>
<text x="660.4" y="98.4" font-family="'Liberation Serif', serif" font-size="17" text-anchor="start" fill="#F2A427" font-weight="normal" >G14R</text>
<rect x="482.4" y="60.0" width="235.5" height="222.0" fill="none" stroke="#222" stroke-width="1.5"/>
<line x1="478.2" y1="66.4" x2="482.4" y2="66.4" stroke="#111" stroke-width="1.4" />
<text x="475.9" y="71.1" font-family="'Liberation Serif', serif" font-size="15" text-anchor="end" fill="#333" font-weight="normal" >55.5</text>
<line x1="478.2" y1="111.9" x2="482.4" y2="111.9" stroke="#111" stroke-width="1.4" />
<text x="475.9" y="116.6" font-family="'Liberation Serif', serif" font-size="15" text-anchor="end" fill="#333" font-weight="normal" >56.0</text>
<line x1="478.2" y1="157.3" x2="482.4" y2="157.3" stroke="#111" stroke-width="1.4" />
<text x="475.9" y="162.0" font-family="'Liberation Serif', serif" font-size="15" text-anchor="end" fill="#333" font-weight="normal" >56.5</text>
<line x1="478.2" y1="202.8" x2="482.4" y2="202.8" stroke="#111" stroke-width="1.4" />
<text x="475.9" y="207.5" font-family="'Liberation Serif', serif" font-size="15" text-anchor="end" fill="#333" font-weight="normal" >57.0</text>
<line x1="478.2" y1="248.2" x2="482.4" y2="248.2" stroke="#111" stroke-width="1.4" />
<text x="475.9" y="252.9" font-family="'Liberation Serif', serif" font-size="15" text-anchor="end" fill="#333" font-weight="normal" >57.5</text>
<line x1="532.7" y1="282.0" x2="532.7" y2="286.5" stroke="#111" stroke-width="1.4" />
<text x="528.2" y="301.2" font-family="'Liberation Serif', serif" font-size="15" text-anchor="middle" fill="#333" font-weight="normal" >4.40</text>
<line x1="605.5" y1="282.0" x2="605.5" y2="286.5" stroke="#111" stroke-width="1.4" />
<text x="597.8" y="301.2" font-family="'Liberation Serif', serif" font-size="15" text-anchor="middle" fill="#333" font-weight="normal" >4.30</text>
<line x1="678.8" y1="282.0" x2="678.8" y2="286.5" stroke="#111" stroke-width="1.4" />
<text x="667.3" y="301.2" font-family="'Liberation Serif', serif" font-size="15" text-anchor="middle" fill="#333" font-weight="normal" >4.20</text>
<path d="M554.9,400.0l1.1,-0.3 1.5,-0.1 2.5,0.7 2.5,1.7 2,2.2 2,3.3 1.6,4.0 1.3,4.5 0.7,5.0 0.2,5.0 -0.4,5.5 -0.7,4.5 -1.5,5.5 -1.5,3.5 -1.9,3.0 -2.3,2.3 -2.1,1.2 -1.4,0.4 -1.5,0.1 -2.5,-0.7 -2.5,-1.6 -2,-2.3 -2.1,-3.4 -1.6,-4.0 -1.2,-4.5 -0.7,-5.0 -0.2,-5.0 0.2,-5.0 0.8,-5.0 1.2,-4.5 1.7,-4.0 1.9,-3.1 2.5,-2.6 2.4,-1.3zM606.9,401.5l3.1,-0.3 3,0.1 3,0.4 3,0.9 3.5,1.7 5.5,3.9 5,1.6 2,0.9 1.5,1.0 1.2,1.3 1.2,2.0 0.5,2.0 0,2.5 -0.6,2.0 -0.9,1.5 -0.9,1.1 -2,1.6 -3.8,2.3 -0.8,1.0 -0.3,1.0 0,2.5 2.6,13.0 0.6,1.5 0.6,0.5 0.6,0.2 5,-0.1 2,0.1 2.5,0.7 2,1.1 2,1.9 1.3,2.1 0.8,2.5 0.2,2.0 -0.2,2.5 -0.8,2.5 -1.2,2.5 -1.7,2.5 -1.8,2.0 -1.8,1.5 -2.3,1.4 -2.5,1.1 -3,0.9 -3.5,0.8 -3.5,0.5 -3.5,0.2 -7,-0.3 -10.5,-1.5 -6.5,-0.5 -9.5,0.3 -3.5,0.5 -5.5,1.8 -2,0.1 -1.5,-0.2 -1.5,-0.7 -1.4,-0.9 -1.1,-1.1 -1.1,-1.4 -0.8,-1.5 -0.8,-2.0 -0.4,-2.0 -0.1,-1.5 0.2,-2.5 0.8,-2.0 1.4,-2.0 1.8,-1.6 2,-1.3 2,-0.8 10.2,-2.8 1.3,-0.5 0.8,-0.5 0.2,-0.3 0.1,-0.2 -0.4,-0.5 -0.9,-0.5 -4.3,-1.6 -2,-0.9 -1.3,-1.0 -0.7,-1.0 0.1,-1.0 0.3,-0.5 1.1,-0.9 2.5,-1.3 4.6,-1.8 0.7,-0.5 0.4,-0.5 -0.4,-1.0 -2.8,-3.0 -1.2,-1.5 -1.1,-2.0 -0.6,-1.5 -0.6,-2.0 -0.2,-2.5 0.2,-2.5 0.6,-2.5 1.4,-3.5 2.2,-3.5 2.6,-3.5 2.9,-3.0 2.6,-2.0 2.7,-1.5 3,-1.2 3.4,-0.8zM513.6,411.5l2.4,-0.2 2.5,0.5 2,0.8 2,1.5 1.8,1.9 1.5,2.5 0.9,2.5 0.5,2.5 0.2,3.0 -0.3,2.5 -0.7,3.0 -1.1,2.5 -1.4,2.0 -1.9,1.9 -2,1.2 -2,0.8 -2.5,0.3 -2,-0.2 -2,-0.7 -1.5,-0.9 -1.8,-1.9 -1.2,-2.0 -1.2,-3.0 -0.6,-2.5 -0.2,-3.5 0.2,-3.0 0.6,-3.0 0.9,-2.5 1.3,-2.2 1.6,-1.8 1.9,-1.3 2.1,-0.7zM554.7,402.5l2.3,-0.5 1.5,0.2 1,0.3 2,1.3 2.1,2.2 1.8,3.0 1.5,3.5 1.2,4.5 0.7,4.5 0.1,4.5 -0.3,4.5 -0.8,5.0 -1.2,4.0 -1.4,3.5 -1.7,2.6 -2,2.1 -1,0.7 -1.4,0.6 -2.1,0.3 -1,-0.1 -1.5,-0.5 -2,-1.4 -2,-2.2 -1.8,-3.1 -1.4,-3.5 -1.1,-4.0 -0.6,-4.5 -0.2,-4.5 0.2,-5.0 0.7,-4.0 1,-4.0 1.4,-3.5 1.8,-2.9 2,-2.2 2.2,-1.4zM607.8,403.0l2.7,-0.3 2.5,0.1 2.5,0.4 2.5,0.7 2,0.9 1.8,1.2 4.2,4.1 1.5,0.5 4,0.2 2,0.5 2,1.1 1.6,1.6 1,2.0 0.3,2.0 -0.3,2.0 -1.1,2.3 -1.5,1.5 -1.5,0.9 -1.5,0.6 -3.5,0.7 -1.3,0.5 -0.5,0.5 -0.4,1.0 0.2,2.0 2.3,6.5 0.9,3.5 0.5,3.5 0.3,5.6 0.5,1.2 1,0.4 1,-0.2 3.5,-1.2 2.5,-0.5 2.5,0.2 2.5,0.9 2.1,1.6 0.8,1.0 0.9,1.5 0.7,2.5 0,2.5 -0.7,2.5 -1,2.0 -2.3,3.0 -2.7,3.0 -1.8,1.5 -2,1.2 -2.5,1.1 -2.5,0.8 -3,0.7 -3,0.3 -6,0.2 -5.5,-0.6 -11,-1.9 -3.5,-0.2 -3.5,0.1 -9.5,0.6 -2,0.5 -4.5,1.6 -2,0.2 -1.5,-0.3 -1.5,-0.7 -1,-0.8 -1.8,-2.3 -1.1,-3.0 -0.3,-2.0 0.1,-1.5 0.6,-2.5 1.2,-2.0 1.8,-1.7 2,-1.2 4,-1.3 15.8,-3.3 3.4,-1.0 0.8,-0.5 0.2,-0.5 -0.7,-0.5 -9.5,-1.6 -4,-1.1 -2.7,-1.3 -0.6,-0.5 -0.4,-1.0 0.5,-1.0 2.2,-1.4 3,-1.0 6.4,-1.6 1.5,-0.5 0.5,-0.5 -0.4,-0.5 -4,-1.7 -2,-1.2 -2,-1.6 -1.2,-1.5 -1.1,-2.0 -0.8,-2.5 -0.1,-2.5 0.3,-2.5 1.2,-3.0 1.4,-2.5 5,-6.5 2.6,-3.0 2.2,-1.8 2.5,-1.5 2.5,-1.0 2.8,-0.7zM513.0,413.0l2,-0.3 2,0.1 2,0.5 2,1.1 1.5,1.3 1.4,1.8 1.3,2.5 0.7,2.0 0.4,2.5 0,2.5 -0.4,3.0 -0.7,2.0 -0.9,2.0 -1.5,2.0 -1.8,1.6 -2,1.1 -2,0.5 -2,0.1 -2,-0.3 -2,-0.9 -1.5,-1.2 -1.4,-1.9 -1,-2.0 -0.8,-2.5 -0.4,-3.0 0,-3.0 0.4,-3.0 0.8,-2.5 1,-2.0 1.4,-1.9 1.5,-1.2 2,-0.9zM556.0,404.5l2,0.0 2,0.7 2,1.7 1.6,2.1 1.6,3.0 1,3.0 0.9,4.0 0.4,4.0 0.1,4.0 -0.3,4.0 -0.7,3.5 -1.2,4.0 -1.4,3.0 -1.5,2.3 -2,1.9 -1.6,0.8 -1.4,0.3 -1,0.0 -2,-0.7 -2,-1.4 -1.7,-2.2 -1.6,-3.0 -1.1,-3.0 -0.9,-3.5 -0.6,-4.5 0,-4.5 0.3,-4.0 0.8,-4.0 1.1,-3.5 1.4,-3.0 1.8,-2.5 2,-1.7 2,-0.8zM608.7,404.5l2.8,-0.2 3,0.3 2.5,0.7 2.2,1.2 1.7,1.5 1,1.5 0.6,1.5 0.7,3.5 0.3,0.7 0.5,0.0 3.5,-2.2 1.5,-0.5 1.5,-0.3 1.5,0.0 1.5,0.4 1.5,0.8 1.1,1.1 0.7,1.0 0.5,1.5 0,1.5 -0.1,1.0 -0.4,1.0 -0.8,1.2 -1,1.0 -1,0.6 -1.5,0.5 -1.5,0.2 -1.5,-0.1 -1.5,-0.5 -1.7,-0.9 -1.1,-1.0 -2.2,-3.0 -0.5,0.1 -0.2,0.4 -0.7,2.0 -0.2,3.5 0.6,2.5 0.8,1.5 4,6.0 1.1,2.5 0.9,3.0 0.4,2.5 0.1,2.5 -0.9,7.0 0.1,1.8 0.5,0.9 0.5,0.4 0.5,0.2 1,-0.1 1,-0.7 2.8,-2.5 2.2,-1.3 2.5,-0.7 2.5,0.1 2.5,1.0 1.1,0.9 0.9,1.0 0.6,1.0 0.6,1.5 0.2,2.5 -0.6,2.5 -1.1,2.0 -6.7,7.0 -1.2,1.0 -1.8,1.1 -4,1.6 -2.5,0.5 -3,0.4 -3,0.2 -3,-0.2 -5.5,-0.7 -9,-2.2 -3.5,-0.3 -2.5,0.0 -12.5,1.2 -2,0.4 -4,1.6 -1.5,0.2 -1,-0.1 -2,-0.8 -1,-0.8 -0.9,-1.1 -1.1,-2.5 -0.3,-1.5 0,-1.5 0.5,-2.5 1.2,-2.0 1.6,-1.5 2,-1.0 2.5,-0.8 4.5,-0.9 18.5,-3.1 2.5,-0.9 1,-0.7 0.4,-0.6 0.1,-1.0 -0.2,-0.5 -0.4,-0.5 -0.9,-0.5 -2.5,-0.4 -8,-0.5 -5,-0.8 -2,-0.5 -1.7,-0.8 -0.8,-0.6 -0.5,-0.9 0.5,-0.9 0.8,-0.6 3.2,-1.2 5.5,-1.0 9,-0.8 1.2,-0.5 0.5,-0.5 0.3,-1.0 -0.1,-1.0 -0.5,-1.0 -0.9,-0.6 -2,-0.3 -4.5,0.2 -2.5,-0.1 -3,-0.8 -2,-1.2 -1.5,-1.4 -1.2,-1.8 -0.7,-2.0 -0.2,-2.5 0.4,-2.5 0.6,-1.5 0.9,-1.5 1.7,-2.1 4.4,-4.4 4,-5.5 1.7,-1.5 1.9,-1.2 2,-0.8 2.2,-0.5zM514.9,414.0l2.1,0.1 2,0.6 1.5,0.8 1.5,1.3 1.3,1.7 1,2.0 0.6,2.0 0.4,2.0 0,2.5 -0.4,2.5 -0.6,2.0 -1,2.0 -1.3,1.7 -1.5,1.3 -1.5,0.8 -2,0.6 -2,0.1 -2,-0.3 -1.5,-0.7 -1.5,-1.2 -1.1,-1.3 -1,-2.0 -0.7,-2.0 -0.5,-3.0 0,-3.0 0.4,-2.5 0.6,-2.0 0.9,-2.0 1.1,-1.5 1.3,-1.2 2,-1.0 1.9,-0.3zM610.8,406.0l2.7,0.1 2.7,0.9 2,1.5 0.6,1.0 0.4,1.0 0,1.0 -0.3,1.5 -0.8,1.5 -2.1,3.0 -0.6,1.5 -0.3,1.5 -0.3,6.5 0.1,1.5 0.6,0.7 4.5,1.5 3,1.9 1.5,1.5 1.1,1.4 1,2.0 0.8,2.0 0.6,3.0 -0.1,3.5 -0.7,3.0 -2.2,5.5 -0.2,1.5 0.4,1.0 1.3,1.4 1.9,1.1 2.1,0.6 1.3,-0.1 0.7,-0.5 1.8,-4.5 1.5,-2.0 1.2,-0.9 1.5,-0.7 1.5,-0.3 1.5,0.0 1.5,0.5 1,0.5 1.1,0.9 1,1.5 0.6,1.5 0.1,1.0 -0.1,1.5 -0.5,1.5 -0.9,1.5 -1.3,1.3 -4.6,2.7 -0.9,1.0 -1.1,2.0 -1.4,1.5 -1.5,1.0 -1.5,0.7 -3.5,1.0 -5,0.5 -5,-0.4 -4.5,-1.0 -7.5,-2.5 -3.5,-0.5 -3,0.2 -7,1.4 -7,0.5 -1.5,0.3 -1.8,0.8 -2.2,0.9 -2,0.0 -1,-0.4 -1,-0.7 -1.3,-1.8 -0.7,-2.5 0.2,-2.5 1,-2.0 1.8,-1.8 1.5,-0.7 1.5,-0.5 6,-1.3 4,-0.5 9,-0.8 7.5,-1.2 3,-1.0 0.9,-0.7 0.3,-0.5 0.1,-1.5 -0.7,-2.0 -0.6,-1.0 -1.4,-1.0 -2.1,-0.4 -7.5,0.0 -5,-0.5 -2.5,-0.5 -1.8,-0.6 -0.8,-0.5 -0.5,-0.5 -0.2,-0.5 0.2,-0.5 0.6,-0.6 1,-0.5 2,-0.7 2.5,-0.5 3.5,-0.3 9,-0.3 1.5,-0.6 0.8,-1.0 0.7,-2.0 1.2,-5.0 0,-1.5 -0.3,-0.5 -1.4,-0.4 -2,0.2 -2,0.6 -4,1.7 -2,0.7 -2,0.3 -2,-0.2 -2.5,-0.9 -2,-1.6 -0.6,-0.9 -0.7,-1.5 -0.4,-2.5 0.4,-2.5 1.3,-2.3 1,-1.1 1.5,-1.2 4.6,-2.4 1.4,-1.0 1.1,-1.5 1.5,-4.0 1.5,-2.0 1.2,-1.0 1.7,-0.8 1.5,-0.5 1.8,-0.2zM555.6,407.0l1.9,-0.2 1.5,0.4 2,1.3 1.5,1.8 1.3,2.2 1.1,3.0 0.9,3.5 0.5,3.5 0.1,3.5 -0.2,3.5 -0.6,3.5 -1,3.5 -1.3,3.0 -1.3,2.0 -1.5,1.5 -2,1.1 -2,0.2 -1.5,-0.4 -2,-1.4 -1.5,-1.9 -1.2,-2.1 -1.2,-3.0 -0.8,-3.5 -0.5,-3.5 -0.1,-3.5 0.2,-3.5 0.7,-4.0 0.9,-3.0 1.3,-3.0 1.4,-2.0 1.8,-1.7 1.6,-0.8zM631.3,413.5l1.7,0.2 1.5,0.8 1.2,1.5 0.5,1.5 -0.2,2.0 -0.9,1.5 -1.6,1.2 -1.5,0.4 -2,-0.2 -1.5,-0.8 -1.3,-1.6 -0.4,-1.5 0,-1.0 0.2,-1.0 1,-1.5 1.5,-1.1 1.8,-0.4zM513.6,415.5l1.9,-0.2 1.5,0.1 2,0.7 1.5,0.9 1.4,1.5 1,1.5 0.9,2.0 0.3,1.5 0.3,2.0 -0.2,2.5 -0.4,2.0 -0.9,2.0 -1,1.5 -1.4,1.5 -1.5,0.9 -1.5,0.6 -1.5,0.2 -2,-0.1 -1.5,-0.4 -1.5,-0.9 -1.2,-1.3 -1,-1.5 -0.6,-1.5 -0.5,-2.0 -0.3,-2.5 0.1,-2.5 0.4,-2.0 0.7,-2.0 0.9,-1.6 1.2,-1.4 1.3,-0.9 1.6,-0.6zM610.0,408.5l1.5,-0.2 1.6,0.2 1.2,0.5 0.9,1.0 0.2,1.0 -0.4,1.0 -1,1.0 -1.5,0.8 -1.5,0.3 -1.5,-0.2 -1,-0.4 -0.9,-1.0 -0.3,-1.5 0.4,-1.0 1.1,-1.0 1.2,-0.5zM555.4,409.5l1.6,-0.3 1.5,0.2 1.5,0.9 1.5,1.6 1.3,2.1 1,2.5 0.8,3.0 0.4,2.5 0.2,3.5 -0.2,3.0 -0.4,3.0 -0.8,3.0 -1,2.5 -1.2,2.0 -1.3,1.5 -1.5,1.0 -1.8,0.4 -1.5,-0.3 -1.5,-0.9 -1.5,-1.6 -1.3,-2.1 -1,-2.5 -0.6,-2.5 -0.5,-3.0 -0.2,-3.5 0.1,-3.0 0.5,-3.0 0.7,-3.0 1.1,-2.5 1.2,-2.1 1.5,-1.6 1.4,-0.8zM630.9,415.0l1.1,-0.1 1,0.2 1,0.7 0.8,1.2 0.1,1.5 -0.3,1.0 -0.9,1.0 -1,0.5 -1.2,0.2 -1,-0.3 -1.2,-0.9 -0.6,-1.0 -0.1,-1.5 0.3,-1.0 0.9,-1.0 1.1,-0.5zM513.1,417.0l1.4,-0.3 1.5,-0.1 1.5,0.3 1.5,0.6 1.4,1.0 1.1,1.3 0.7,1.2 0.8,2.0 0.3,2.0 0,2.0 -0.3,2.0 -0.5,1.5 -0.9,1.5 -1.1,1.4 -1,0.8 -1.5,0.8 -1.5,0.3 -1.5,0.1 -1.5,-0.3 -1.5,-0.6 -1,-0.7 -1,-1.2 -0.9,-1.6 -0.5,-1.5 -0.3,-2.0 -0.1,-2.0 0.2,-2.0 0.5,-2.0 0.7,-1.5 0.9,-1.3 1,-0.9 1.6,-0.8zM596.8,420.5l2.7,-0.3 1.5,0.2 1.5,0.5 1.6,1.1 0.8,1.0 0.4,1.0 0,2.0 -1,2.5 -1.8,2.2 -1.1,0.8 -1.4,0.7 -2.5,0.4 -1.5,-0.2 -1,-0.3 -1,-0.6 -1,-0.9 -0.8,-1.1 -0.4,-1.0 -0.2,-1.0 0,-1.5 0.2,-1.0 0.7,-1.5 1,-1.2 1,-0.8 2.3,-1.0zM617.5,433.5l2,-0.2 1.5,0.4 1,0.5 2.1,1.8 1.1,1.5 0.7,1.5 0.9,3.5 -0.1,3.0 -0.8,3.0 -1.4,2.6 -1.5,1.7 -1.5,1.2 -1.5,0.6 -1.5,0.1 -1,-0.3 -1.5,-1.1 -3.2,-4.3 -1,-1.0 -0.8,-0.5 -1,-0.3 -2,-0.1 -7,0.4 -5,-0.4 -2,-0.4 -1.7,-0.7 -0.7,-0.5 -0.2,-0.5 0.2,-0.5 0.6,-0.5 1.3,-0.5 4,-0.8 4.5,-0.2 6.5,0.3 1.6,-0.3 0.9,-0.5 0.5,-0.6 1.8,-3.9 1.2,-2.0 1.5,-1.3 1.5,-0.7zM638.9,452.5l2.1,-0.3 2,0.6 1.5,1.2 0.8,1.5 0.3,2.0 -0.5,2.0 -1.1,1.5 -1,0.8 -1,0.5 -2,0.4 -2,-0.3 -1.5,-1.0 -0.6,-0.9 -0.4,-1.0 -0.3,-2.0 0.5,-2.0 1.3,-1.8 1,-0.8 0.9,-0.4zM611.9,459.0l4.1,-0.5 2,0.1 5.8,2.4 6.7,2.2 2,0.9 1,0.7 0.7,0.7 0.6,1.5 -0.4,1.5 -1.6,1.5 -2,1.0 -2.8,0.7 -3,0.3 -3.5,-0.1 -3,-0.6 -2.5,-0.8 -2.1,-1.0 -4.4,-2.5 -2.5,-1.0 -1.5,-0.3 -1.5,0.0 -1.5,0.3 -1.5,0.5 -3.6,1.5 -2.9,0.9 -3,0.4 -5.5,0.3 -1.5,0.3 -3,1.4 -1.5,0.1 -1,-0.3 -1,-0.8 -0.8,-1.3 -0.3,-1.5 0.1,-1.5 0.3,-1.0 0.7,-1.2 1,-0.9 1.5,-0.8 1.5,-0.5 5,-1.2 2.5,-0.4 4,-0.2 6.5,0.6 2.5,0.0 9.4,-1.4zM555.5,412.0l1,-0.3 1.5,0.1 1.5,0.8 1,0.9 1.3,2.0 0.8,2.0 0.7,2.5 0.4,2.5 0.2,2.5 -0.1,3.0 -0.4,2.5 -0.6,2.5 -0.8,2.0 -1,1.8 -1,1.2 -1.4,1.0 -1.1,0.4 -1.5,-0.2 -1.5,-0.8 -1,-1.0 -1.3,-1.9 -0.8,-2.0 -0.7,-2.5 -0.4,-2.5 -0.2,-2.5 0.1,-3.0 0.4,-2.5 0.6,-2.5 0.8,-2.0 1,-1.8 1,-1.2 1.5,-1.0zM631.0,417.5l0.5,-0.4 0.5,-0.1 0.5,0.3 0.3,0.7 -0.1,0.5 -0.7,0.5 -0.5,-0.1 -0.5,-0.4 0,-1.0zM515.1,418.0l2.4,0.3 1.5,0.7 1,0.8 0.9,1.2 0.8,1.5 0.4,1.5 0.2,1.5 -0.1,2.0 -0.3,1.5 -1.3,2.5 -1.1,1.1 -1,0.7 -1,0.4 -1.5,0.3 -1.5,-0.1 -1.5,-0.3 -1,-0.5 -1,-0.9 -1.3,-2.2 -0.5,-1.5 -0.2,-2.0 0.1,-2.0 0.3,-1.5 0.5,-1.5 0.6,-1.1 1,-1.1 1,-0.7 1,-0.3 1.6,-0.3zM596.0,422.5l2,-0.3 1.5,0.3 1.5,1.0 1,1.5 0.2,1.5 -0.4,2.0 -1.2,1.5 -1.7,1.0 -1.9,0.2 -1.5,-0.3 -1.3,-0.9 -1,-1.5 -0.3,-1.5 0.4,-2.0 1.2,-1.6 1.5,-0.9zM618.3,435.5l1.2,-0.1 1,0.1 2,1.1 1.5,1.6 1.1,2.3 0.5,3.0 -0.2,2.5 -1,2.5 -1.4,1.9 -1,0.8 -1,0.5 -1,0.2 -1.5,-0.1 -1.5,-0.6 -1,-0.8 -3,-3.4 -1.5,-1.2 -1,-0.4 -0.5,0.0 -3.5,0.9 -4.5,0.5 -4.5,-0.2 -2,-0.5 -1.4,-0.6 -0.3,-0.5 0.3,-0.5 0.9,-0.5 1.5,-0.4 4,-0.4 4.5,0.2 5,1.0 1,-0.1 1.5,-1.5 1.8,-3.8 1.2,-1.8 1.5,-1.2 1.3,-0.5zM640.2,453.5l1.3,0.1 1.5,0.7 1,1.2 0.4,1.5 -0.3,1.5 -0.6,1.0 -1.5,1.2 -1.4,0.3 -1.6,-0.3 -1,-0.6 -0.8,-1.1 -0.4,-1.5 0.3,-1.5 0.5,-1.0 1.2,-1.0 1.4,-0.5zM587.3,462.0l3.2,-0.5 3,0.3 2.5,0.9 0.9,0.8 0.2,0.5 0.1,0.5 -0.4,1.0 -1.1,1.0 -1.2,0.6 -3,0.8 -3.5,0.0 -3.5,-0.1 -3,1.3 -1,0.2 -1,-0.4 -0.5,-0.7 -0.2,-0.7 0.2,-1.5 0.5,-0.8 0.9,-0.7 6.9,-2.5zM618.5,464.0l2.5,-0.3 3,0.2 3,0.5 2.7,1.1 1.3,1.0 0.2,0.5 0.1,1.0 -0.8,1.1 -2,1.0 -2.5,0.5 -3,0.0 -3,-0.6 -2.3,-1.0 -1.5,-1.5 -0.4,-1.0 0,-0.5 0.7,-1.1 1,-0.6 1,-0.3zM556.0,414.5l1,-0.2 1,0.2 1,0.6 1,1.0 1,1.6 0.7,1.8 0.8,4.0 -0.1,4.5 -0.9,4.0 -0.6,1.5 -0.9,1.4 -1,1.1 -0.9,0.5 -1.1,0.2 -1,-0.2 -1,-0.6 -1,-1.0 -1,-1.7 -0.7,-1.7 -0.8,-4.0 0.1,-4.5 0.9,-4.0 0.6,-1.5 0.9,-1.4 1,-1.0 1,-0.6zM514.7,419.5l2.3,0.1 1,0.4 1,0.7 1.4,1.8 0.8,2.5 -0.1,2.5 -0.5,1.5 -0.5,1.0 -0.8,1.0 -0.8,0.7 -1,0.5 -1.1,0.3 -2.4,-0.1 -2,-0.9 -0.9,-1.0 -0.6,-1.0 -0.6,-2.5 -0.1,-1.5 0.2,-1.5 0.5,-1.5 0.5,-0.9 1.5,-1.4 2.2,-0.7zM597.4,424.0l0.6,0.1 1,0.4 0.9,1.0 0.3,1.0 -0.1,1.0 -0.6,1.1 -1,0.8 -1,0.3 -1,-0.1 -1.1,-0.6 -0.8,-1.0 -0.2,-1.0 0.1,-1.0 0.6,-1.0 0.9,-0.7 1.4,-0.3zM618.2,437.5l0.8,-0.2 1,0.0 1,0.3 1,0.6 1.4,1.8 0.9,2.5 0,2.5 -0.5,1.5 -0.5,1.0 -1.3,1.6 -1,0.6 -1,0.2 -1,0.0 -1,-0.2 -1.5,-1.0 -1.8,-2.2 -0.7,-1.5 0,-1.0 0.3,-1.0 1.2,-3.0 1.1,-1.5 1.6,-1.0zM597.6,444.5l2.4,-0.4 3,0.1 1.4,0.3 0.6,0.5 -0.6,0.5 -2.9,0.4 -2.5,-0.1 -1.4,-0.3 -0.6,-0.5 0.6,-0.5zM639.6,455.5l0.9,-0.3 0.5,0.0 0.8,0.3 0.5,0.5 0.3,0.5 0,1.0 -0.5,1.0 -0.6,0.4 -0.5,0.2 -1,-0.1 -0.8,-0.5 -0.3,-0.5 -0.2,-0.5 0.1,-1.0 0.8,-1.0zM588.9,464.5l1.1,-0.4 1,0.1 0.6,0.3 0.1,0.5 -0.2,0.2 -0.5,0.3 -1.5,0.0 -0.8,-0.5 0.2,-0.5zM623.1,467.5l0.4,-0.3 1,-0.1 0.9,0.4 -0.3,0.5 -1.5,0.0 -0.5,-0.5zM556.4,417.5l0.6,-0.1 1,0.3 1,0.8 0.5,0.7 1,2.3 0.5,3.0 -0.1,3.0 -0.7,3.0 -1.2,2.0 -1.4,1.0 -0.6,0.1 -1,-0.3 -1,-0.8 -0.5,-0.7 -1,-2.3 -0.5,-3.0 0.1,-3.0 0.8,-3.0 1.1,-2.0 1.4,-1.0zM513.5,421.5l2,-0.4 1.5,0.2 1.5,0.9 0.9,1.3 0.5,2.0 -0.2,2.0 -0.7,1.7 -0.8,0.8 -0.7,0.5 -1,0.3 -1,0.1 -2,-0.4 -1.5,-0.9 -0.7,-1.1 -0.5,-2.0 0.1,-1.5 0.2,-1.0 0.9,-1.6 1.5,-0.9zM618.6,439.5l1.4,-0.1 1.3,0.6 1.1,1.5 0.4,1.5 0,1.5 -0.5,1.5 -0.8,1.1 -1.5,0.8 -1.5,-0.1 -1,-0.6 -1.1,-1.2 -0.5,-1.5 0.1,-1.5 0.6,-1.5 0.9,-1.3 1.1,-0.7z" fill="none" stroke="#000" stroke-width="1.35" stroke-linejoin="round" clip-path="url(#cbb)"/>
<path d="M555.7,396.5l1.8,-0.4 2,0.1 2,0.7 2,1.1 1.7,1.5 1.8,2.1 1.6,2.4 1.6,3.0 2.4,6.0 1.7,6.0 0.9,5.5 0.1,6.5 0.3,2.0 1.9,8.2 0.5,1.3 0.5,0.6 0.5,0.2 1,-0.2 2.6,-1.1 2.4,-1.5 0.6,-1.0 -0.1,-1.5 -2.7,-5.5 -1,-2.5 -0.6,-3.0 -0.2,-2.5 0.6,-3.5 1.2,-3.5 1.8,-3.5 2.5,-3.5 2.2,-2.5 2.8,-2.5 3.4,-2.3 3,-1.4 3,-1.1 4,-1.0 4,-0.5 4,0.1 3,0.3 3,0.7 3,0.9 2.5,1.1 12,7.1 2,1.6 1.7,2.0 1.1,2.0 0.6,2.0 0.2,2.0 -0.2,2.5 -0.7,2.0 -1,2.0 -3.9,5.0 -0.8,1.5 -0.4,1.5 -0.2,1.5 0.4,4.5 0.8,3.0 0.5,1.0 0.9,1.1 1.9,0.9 4.6,1.3 2.5,1.2 2,1.4 1.5,1.5 1.2,1.6 1.1,2.0 0.7,2.0 0.4,2.0 0.1,2.0 -0.1,2.5 -1,4.0 -1,2.0 -1,1.5 -1.3,1.5 -1.9,1.5 -1.7,1.1 -2.5,1.3 -4,1.4 -4,1.0 -4,0.6 -5,0.5 -8,-0.1 -14.7,-1.3 -6.8,-0.3 -6.1,0.3 -2.4,0.5 -4,1.2 -2.5,0.4 -2.5,-0.2 -2.5,-1.0 -2.5,-1.8 -1.8,-2.1 -2,-3.0 -1.5,-3.0 -0.9,-3.0 -0.5,-2.5 0,-2.5 0.3,-3.5 -0.1,-0.5 -0.5,0.0 -4.5,1.6 -3,0.3 -3,-0.5 -1.5,-0.6 -1.5,-0.9 -1.5,-1.2 -1.5,-1.5 -2.5,-3.6 -2.2,-4.6 -1.6,-5.0 -1.4,-7.0 -0.5,-7.0 0.4,-7.0 1.2,-6.5 1.9,-6.0 1.4,-3.0 1.3,-2.3 1.5,-2.0 1.5,-1.5 2,-1.4 1.7,-0.8zM514.6,410.0l2.4,-0.2 3,0.6 2.5,1.1 2.1,1.5 2.2,2.5 1.5,2.5 1,2.5 0.8,3.5 0.3,3.5 -0.3,3.0 -0.8,3.0 -1.2,3.0 -1.6,2.5 -2,2.1 -2.5,1.7 -2.5,1.0 -2.5,0.4 -2.5,-0.2 -2.5,-0.8 -2,-1.4 -1.7,-1.8 -1.6,-2.5 -1.4,-3.5 -0.7,-3.0 -0.3,-3.5 0.1,-3.0 0.8,-4.0 1,-3.0 1.7,-3.0 2.1,-2.3 2,-1.4 2.6,-0.8zM556.2,399.0l1.8,-0.3 1.5,0.2 2,0.7 1.5,0.9 1.5,1.3 1.5,1.8 1.3,1.9 1.3,2.5 2.1,5.5 1.4,6.0 0.5,5.0 0.1,7.0 0.2,2.0 0.4,1.0 1.2,1.8 1,2.0 0.7,2.2 0.5,2.5 0.2,2.5 -0.1,1.5 -1.2,3.0 -1.1,1.5 -1,0.4 -1,-0.5 -0.8,-0.9 -1.7,-2.6 -0.5,-0.4 -0.5,0.1 -0.5,0.4 -3,3.7 -1.5,1.5 -1.5,1.0 -1.5,0.7 -1.5,0.3 -1.5,0.0 -1.5,-0.3 -1.5,-0.6 -1.5,-1.0 -1.5,-1.3 -1.2,-1.5 -2.5,-4.0 -1.9,-5.0 -1.3,-5.0 -0.8,-6.0 -0.1,-6.0 0.6,-6.0 1.3,-6.0 1.7,-4.5 1.2,-2.5 1.3,-2.0 1.2,-1.4 1.5,-1.4 1.5,-1.0 1.7,-0.7zM610.2,401.0l3.3,0.0 3,0.4 3,0.7 2.5,0.9 3,1.5 5.3,3.5 6.2,2.8 1.6,1.2 1.4,1.6 1.1,1.9 0.6,2.0 0.1,2.5 -0.4,2.0 -0.6,1.5 -1.4,2.0 -4.8,4.5 -0.7,1.0 -0.4,1.5 0.1,3.5 1.4,7.5 1,2.5 1,0.8 1,0.4 4.5,0.4 2,0.5 2.5,1.1 2,1.4 1.7,1.9 1.1,2.0 0.8,2.5 0.3,3.0 -0.3,2.5 -0.8,2.5 -1.1,2.5 -1.2,2.0 -1.5,1.7 -2,1.7 -2,1.2 -2.5,1.2 -3,1.1 -3.5,0.8 -3.5,0.6 -4,0.4 -7.5,-0.1 -10.5,-1.2 -7.5,-0.6 -8.5,0.0 -4,0.6 -6,1.8 -2,0.1 -2,-0.4 -1.5,-0.7 -1.5,-1.0 -1.5,-1.5 -1.2,-1.7 -1.1,-2.0 -0.9,-2.5 -0.5,-3.5 0.3,-2.5 0.7,-2.0 1.2,-2.0 1.5,-1.6 2.5,-1.5 8.2,-2.9 1.7,-1.0 0.1,-0.5 -0.2,-0.5 -3.8,-2.5 -1.2,-1.0 -0.5,-1.0 0,-0.5 0.4,-1.0 1.2,-1.0 5.9,-3.0 1,-1.0 0.1,-0.5 -0.3,-1.0 -2.7,-4.0 -1.2,-2.5 -0.8,-2.5 -0.4,-2.5 0.1,-3.0 0.5,-3.0 1.1,-3.0 1.8,-3.5 2.1,-3.0 2.2,-2.5 2.7,-2.5 2.5,-1.7 3,-1.6 3,-1.1 3.5,-0.8 3.2,-0.3zM514.4,411.5l2.1,-0.2 2.5,0.3 2,0.7 2.5,1.5 1.7,1.7 1.7,2.5 1.4,3.0 0.6,2.5 0.3,3.0 -0.2,3.0 -0.6,3.0 -1.2,3.0 -1.5,2.5 -1.7,1.8 -2,1.4 -2,1.0 -2.5,0.5 -2.5,-0.1 -2,-0.5 -2,-1.1 -1.6,-1.5 -1.7,-2.5 -1.3,-3.0 -0.7,-2.5 -0.4,-3.5 0.1,-3.0 0.4,-3.0 1.1,-3.5 1.4,-2.5 1.7,-2.1 2,-1.5 2.4,-0.9zM557.2,401.0l2.3,0.1 2.5,1.1 2.2,1.8 2.2,3.0 1.8,3.5 1.5,4.5 1,5.0 0.4,4.5 0,6.0 -0.8,9.0 -3,6.0 -2.3,3.4 -2.5,2.3 -1.5,0.9 -1.5,0.4 -1,0.1 -1.5,-0.1 -2.5,-1.1 -2.5,-2.1 -2,-2.8 -1.7,-3.5 -1.5,-4.5 -1,-5.0 -0.4,-4.5 0,-5.0 0.5,-5.0 0.9,-4.5 1.5,-4.5 1.8,-3.5 2.4,-3.0 2.5,-1.8 2.2,-0.7zM609.6,402.5l2.9,-0.1 3,0.2 2.5,0.6 2.5,0.8 3,1.5 4,3.1 1.4,0.9 4.6,1.3 2.5,1.1 1.6,1.1 1.3,1.5 1,2.0 0.4,2.0 -0.1,2.0 -0.6,2.0 -1.1,1.8 -1.5,1.5 -5.3,3.2 -0.8,1.0 -0.2,1.0 0.1,2.5 1.5,6.5 1.2,7.0 0.5,1.2 1,0.8 1.5,0.1 4,-0.4 2,0.2 2.5,0.7 2,1.1 1.9,1.8 1.2,2.0 0.9,2.5 0.1,2.5 -0.3,2.5 -1,2.5 -1.3,2.5 -1.8,2.5 -1.7,1.7 -2,1.6 -2.5,1.3 -2.5,1.1 -3.5,1.0 -3,0.5 -4,0.4 -3.5,0.2 -7,-0.5 -11.5,-1.7 -5.5,-0.2 -8.5,0.3 -3,0.5 -5.5,1.8 -2,0.2 -1.5,-0.3 -1.5,-0.6 -1.5,-1.1 -1.2,-1.2 -1,-1.5 -0.9,-2.0 -0.5,-1.5 -0.3,-1.5 -0.1,-2.0 0.4,-2.5 0.9,-2.0 1.5,-2.0 1.7,-1.3 2,-1.1 2,-0.7 9.3,-2.4 2.9,-1.0 0.9,-0.5 0.2,-0.5 -0.5,-0.5 -7.3,-2.7 -2,-1.3 -0.7,-1.0 0,-0.5 0.4,-1.0 1.3,-1.0 2.5,-1.2 4.7,-1.8 0.8,-0.5 0.3,-0.5 -0.4,-1.0 -2.9,-2.8 -1.4,-1.7 -0.9,-1.5 -0.9,-2.0 -0.5,-2.0 -0.2,-2.5 0.1,-2.0 0.6,-2.5 1.4,-3.5 2.1,-3.5 3,-4.0 2.9,-3.0 2.8,-2.1 3,-1.6 3.5,-1.2 3.6,-0.6zM513.4,413.0l2.1,-0.5 2.5,0.1 2,0.5 2,1.0 2,1.6 1.4,1.8 1.4,2.5 0.9,2.5 0.5,3.0 0,2.5 -0.4,3.0 -0.8,2.5 -1.2,2.5 -1.5,2.0 -1.8,1.6 -2,1.1 -2,0.6 -2.5,0.2 -2,-0.3 -2,-0.8 -1.7,-1.4 -1.6,-2.0 -1,-2.0 -0.9,-2.5 -0.6,-3.0 -0.1,-3.5 0.3,-3.0 0.9,-3.0 1.1,-2.5 1.4,-2.0 1.7,-1.5 1.9,-1.0zM572.0,438.0l1,-0.4 1,0.4 1,1.4 0.7,2.1 0.3,2.5 -0.1,2.0 -0.5,2.0 -0.9,1.5 -0.5,0.3 -0.5,0.1 -1,-0.5 -0.9,-1.4 -0.7,-2.5 -0.3,-2.5 0.1,-3.0 0.4,-1.0 0.9,-1.0zM610.0,406.0l2,-0.2 2,0.1 2,0.3 1.5,0.5 1.6,0.8 1.3,1.0 0.9,1.0 0.8,1.5 0.4,1.5 0,1.5 -0.4,1.5 -1.5,4.5 -0.2,2.5 0.1,3.0 0.5,2.0 0.9,1.5 3.6,4.1 1.7,2.4 1.2,2.5 0.9,2.5 0.5,2.5 0.1,2.5 -0.3,3.0 -1.3,6.0 0.2,1.5 0.5,0.9 0.7,0.6 0.8,0.4 1,0.0 0.5,-0.1 1,-0.9 2.4,-2.9 2.1,-1.6 1.5,-0.7 1.5,-0.3 2.5,0.1 1,0.3 1.5,0.7 1.1,1.0 1.1,1.5 0.6,1.5 0.3,1.5 -0.1,1.5 -0.4,1.5 -0.7,1.5 -1.2,1.5 -4.1,3.5 -3.1,3.5 -1.4,1.0 -2,1.0 -4.1,1.3 -5,0.6 -5.5,-0.2 -5,-0.9 -8,-2.1 -4,-0.4 -3,0.1 -6.5,0.9 -6,0.4 -1.5,0.4 -2.2,0.9 -2.8,0.9 -2,-0.2 -1,-0.4 -1,-0.7 -1.5,-2.1 -0.8,-2.5 -0.1,-1.5 0.1,-1.5 0.5,-1.5 0.6,-1.0 1.7,-1.9 2.5,-1.3 3.5,-0.9 6,-1.1 12.7,-1.8 4.3,-0.8 2.5,-1.0 1,-1.2 0.1,-1.0 -0.2,-1.0 -0.9,-1.0 -1,-0.4 -2,-0.3 -9,-0.4 -4,-0.6 -2,-0.5 -2,-0.8 -0.7,-0.5 -0.4,-0.5 -0.2,-0.5 0.2,-0.5 0.4,-0.5 0.8,-0.5 3.4,-1.2 6,-0.9 7.6,-0.4 1.7,-0.5 1,-1.0 0.4,-1.5 -0.1,-1.5 -0.6,-1.2 -1,-0.7 -2,-0.2 -5,0.7 -2.5,0.1 -2.5,-0.5 -2.5,-1.2 -1.5,-1.3 -1.2,-1.7 -0.7,-2.0 -0.3,-2.0 0.2,-1.5 0.3,-1.5 1.3,-2.5 1.9,-2.1 3.4,-2.9 1.5,-1.5 2.9,-4.5 1.2,-1.5 1.5,-1.3 1.5,-0.9 2,-0.8 2,-0.5zM556.2,406.5l1.3,-0.3 1,0.0 2,0.6 2,1.4 1.5,1.8 1.6,3.0 1.2,3.0 0.9,4.0 0.4,3.5 0.1,4.0 -0.3,4.0 -0.6,3.5 -1,3.5 -1.3,3.0 -1.6,2.5 -1.9,1.8 -2,1.0 -2,0.2 -2,-0.7 -2,-1.5 -1.4,-1.8 -1.4,-2.5 -1.3,-3.5 -0.8,-3.0 -0.5,-4.0 -0.2,-4.0 0.3,-4.0 0.5,-3.5 1,-3.5 1.2,-3.0 1.6,-2.5 1.9,-2.0 1.8,-1.0zM630.0,414.0l2.5,-0.4 1.5,0.2 1,0.4 1.6,1.3 0.8,1.0 0.4,1.0 0.2,1.0 -0.1,1.5 -0.8,2.0 -1.6,1.6 -2,0.8 -2.5,0.0 -2,-0.7 -1.5,-1.2 -0.7,-1.0 -0.5,-1.0 -0.2,-2.0 0.2,-1.0 0.5,-1.0 1.3,-1.5 1.9,-1.0zM515.1,415.5l1.9,-0.1 2,0.4 1.5,0.6 1.6,1.1 1.4,1.5 1.2,2.0 0.8,2.0 0.4,2.0 0.1,2.0 -0.2,2.5 -0.5,2.0 -0.8,2.0 -1,1.5 -1.5,1.6 -1.5,1.0 -2,0.8 -2,0.2 -2,-0.2 -1.5,-0.5 -1.3,-0.9 -1.2,-1.2 -1.1,-1.8 -0.8,-2.0 -0.5,-2.0 -0.2,-3.0 0.2,-2.5 0.5,-2.5 0.8,-2.0 1.1,-1.8 1.5,-1.4 1.5,-0.9 1.6,-0.4zM573.2,443.0l0.3,-0.4 0.5,0.5 0.1,0.9 -0.1,1.0 -0.5,0.5 -0.3,-0.5 -0.2,-1.0 0.2,-1.0zM612.2,410.0l1.3,0.1 1,0.4 0.5,0.5 0.2,0.5 -0.1,1.0 -0.4,0.5 -0.7,0.5 -1,0.4 -1,0.1 -1,-0.2 -1,-0.6 -0.4,-0.7 0.1,-1.0 0.3,-0.5 1,-0.7 1.2,-0.3zM556.3,411.0l1.7,-0.4 1.5,0.3 1.5,0.9 1.2,1.2 1.3,2.0 0.9,2.0 0.8,3.0 0.5,3.0 0.2,3.0 -0.1,3.0 -0.5,3.5 -0.6,2.5 -1,2.5 -1.1,2.0 -1.3,1.5 -1.4,1.0 -1.4,0.4 -1.5,-0.1 -1.5,-0.7 -1.7,-1.6 -1.2,-2.0 -0.9,-2.0 -0.9,-3.0 -0.5,-3.0 -0.2,-3.0 0.1,-3.0 0.4,-3.0 0.8,-3.0 0.9,-2.5 1.2,-2.0 1.5,-1.7 1.3,-0.8zM631.4,416.5l1.1,-0.3 1,0.1 1,0.5 0.7,0.7 0.4,1.0 0,1.0 -0.4,1.0 -1,1.0 -1.2,0.3 -1,0.0 -1,-0.5 -0.7,-0.8 -0.4,-1.0 0.1,-1.3 0.5,-0.9 0.9,-0.8zM515.1,418.0l1.9,-0.1 1.5,0.2 1.5,0.7 1,0.7 1,1.0 1,1.5 0.6,1.5 0.4,1.5 0.2,1.5 -0.1,2.0 -0.5,2.0 -0.6,1.5 -1,1.5 -1,1.0 -1.5,1.0 -1.5,0.5 -1.5,0.1 -1.5,-0.1 -1.5,-0.5 -1,-0.6 -1,-0.9 -0.7,-1.0 -0.7,-1.5 -0.5,-2.0 -0.3,-2.0 0.1,-2.0 0.4,-2.0 0.7,-1.9 1,-1.6 1,-0.9 1.5,-0.8 1.1,-0.3zM597.3,422.0l2.2,-0.4 2.5,0.5 2,1.1 0.7,0.8 0.5,1.0 0.3,2.0 -0.2,1.0 -0.6,1.5 -1.5,2.0 -1.2,0.9 -1.3,0.6 -2.2,0.4 -1.5,-0.2 -1,-0.4 -1.8,-1.3 -1.1,-2.0 -0.2,-1.0 0,-1.5 0.6,-2.0 1.5,-1.8 1,-0.6 1.3,-0.6zM618.4,435.0l2.1,-0.2 1.5,0.3 1,0.5 2,1.7 1.6,2.7 0.9,3.0 0.1,3.0 -0.7,3.0 -1.4,2.6 -1.5,1.7 -1.5,1.1 -1.5,0.5 -1.5,0.1 -1.5,-0.6 -1,-0.8 -3.3,-4.1 -1.1,-1.0 -1.4,-0.5 -1.7,-0.1 -6.5,0.4 -5.5,-0.3 -2,-0.4 -1.8,-0.6 -0.7,-0.5 -0.2,-0.5 0.2,-0.5 0.7,-0.5 1.3,-0.5 4,-0.7 4.5,-0.2 6,0.4 2,-0.3 0.9,-0.7 0.6,-0.8 1.4,-3.2 1.1,-1.9 1.5,-1.4 1.4,-0.7zM640.8,453.5l1.2,-0.1 1,0.2 1.5,0.8 1.1,1.1 0.5,1.0 0.3,1.0 -0.2,2.0 -0.7,1.5 -1.5,1.5 -1.5,0.7 -2,0.2 -1,-0.3 -1,-0.4 -1.1,-1.2 -0.8,-2.0 0.1,-2.0 0.9,-2.0 1.4,-1.3 1.8,-0.7zM612.4,461.0l3.6,-0.4 3,0.3 10,3.0 3.5,1.3 1.9,1.3 0.4,0.5 0.3,1.0 -0.3,1.5 -0.9,1.0 -0.9,0.6 -2.1,0.9 -2.9,0.6 -3,0.2 -3,-0.3 -2.5,-0.5 -2.8,-1.0 -1.8,-1.0 -4.4,-3.0 -3,-1.2 -1.5,-0.2 -1.5,0.1 -2.5,1.0 -3.4,1.8 -3.1,1.1 -3,0.5 -6,0.2 -4,1.7 -1.5,0.1 -1,-0.4 -1,-0.9 -0.6,-1.3 -0.2,-1.5 0.2,-1.5 0.5,-1.0 0.9,-1.0 1.2,-0.8 2,-0.8 4,-1.0 4,-0.7 4.5,0.0 8.5,1.3 2,-0.2 6.4,-1.3zM557.6,417.0l0.9,0.0 1,0.4 1.5,1.7 1.2,2.9 0.5,3.5 -0.1,3.5 -0.9,3.5 -0.7,1.4 -0.8,1.1 -0.7,0.6 -1,0.4 -1,0.0 -1,-0.4 -1.5,-1.7 -1.2,-2.9 -0.5,-3.5 0.1,-3.5 0.9,-3.5 0.7,-1.4 0.9,-1.1 0.6,-0.5 1.1,-0.5zM515.2,421.5l1.8,-0.2 1,0.2 1,0.5 1.5,1.4 0.9,2.1 0.1,2.5 -0.7,2.0 -1.3,1.7 -1.6,0.8 -0.9,0.2 -1.5,-0.1 -2,-0.7 -1,-1.0 -0.9,-1.9 -0.3,-2.5 0.6,-2.5 1.1,-1.5 1,-0.6 1.2,-0.4zM597.4,426.5l1.1,-0.2 1,0.6 0.3,1.1 -0.5,1.0 -0.8,0.5 -0.5,0.0 -1,-0.5 -0.4,-1.0 0,-0.5 0.3,-0.5 0.5,-0.5zM619.6,439.5l1.4,-0.1 1.5,0.7 1.2,1.4 0.8,2.0 0,2.0 -0.6,2.0 -0.9,1.3 -1.5,0.9 -1.5,0.2 -1.5,-0.6 -1.5,-1.5 -0.9,-1.8 0.1,-2.0 0.8,-2.0 1,-1.5 1,-0.7 0.6,-0.3z" fill="none" stroke="#F2A427" stroke-width="1.3" stroke-linejoin="round" clip-path="url(#cbb)"/>
<path d="M618.0,444.8L622.0,448.8M622.0,444.8L618.0,448.8" stroke="#E0413F" stroke-width="1.6"/>
<path d="M637.7,448.7L641.7,452.7M641.7,448.7L637.7,452.7" stroke="#E0413F" stroke-width="1.6"/>
<ellipse cx="630.5" cy="458.0" rx="2.3" ry="2.3" fill="none" stroke="#E0413F" stroke-width="1.6" />
<ellipse cx="642.3" cy="458.5" rx="2.3" ry="2.3" fill="none" stroke="#E0413F" stroke-width="1.6" />
<path d="M619.0,451 L616.8,484.8 H628.8 L629.8,458 M645.6,451.3 H670.0 V459.9 H645.6" fill="none" stroke="#111" stroke-width="1.3"/>
<text x="672.0" y="459.8" font-family="'Liberation Sans', sans-serif" font-size="15" text-anchor="start" fill="#111" font-weight="normal" >A18</text>
<text x="607.2" y="501.6" font-family="'Liberation Sans', sans-serif" font-size="15" text-anchor="start" fill="#111" font-weight="normal" >A11</text>
<text x="664.6" y="346.9" font-family="'Liberation Serif', serif" font-size="16.5" text-anchor="start" fill="#111" font-weight="normal" >WT</text>
<text x="663.8" y="366.7" font-family="'Liberation Serif', serif" font-size="17" text-anchor="start" fill="#F2A427" font-weight="normal" >G14R</text>
<rect x="481.4" y="329.5" width="235.8" height="222.0" fill="none" stroke="#222" stroke-width="1.5"/>
<line x1="477.0" y1="335.0" x2="481.4" y2="335.0" stroke="#111" stroke-width="1.4" />
<text x="474.6" y="339.7" font-family="'Liberation Serif', serif" font-size="15" text-anchor="end" fill="#333" font-weight="normal" >51.5</text>
<line x1="477.0" y1="380.5" x2="481.4" y2="380.5" stroke="#111" stroke-width="1.4" />
<text x="474.6" y="385.2" font-family="'Liberation Serif', serif" font-size="15" text-anchor="end" fill="#333" font-weight="normal" >52.0</text>
<line x1="477.0" y1="426.0" x2="481.4" y2="426.0" stroke="#111" stroke-width="1.4" />
<text x="474.6" y="430.7" font-family="'Liberation Serif', serif" font-size="15" text-anchor="end" fill="#333" font-weight="normal" >52.5</text>
<line x1="477.0" y1="471.5" x2="481.4" y2="471.5" stroke="#111" stroke-width="1.4" />
<text x="474.6" y="476.2" font-family="'Liberation Serif', serif" font-size="15" text-anchor="end" fill="#333" font-weight="normal" >53.0</text>
<line x1="477.0" y1="517.0" x2="481.4" y2="517.0" stroke="#111" stroke-width="1.4" />
<text x="474.6" y="521.7" font-family="'Liberation Serif', serif" font-size="15" text-anchor="end" fill="#333" font-weight="normal" >53.5</text>
<line x1="486.0" y1="551.5" x2="486.0" y2="556.0" stroke="#111" stroke-width="1.4" />
<text x="493.0" y="567.6" font-family="'Liberation Serif', serif" font-size="15" text-anchor="middle" fill="#333" font-weight="normal" >4.50</text>
<line x1="558.7" y1="551.5" x2="558.7" y2="556.0" stroke="#111" stroke-width="1.4" />
<text x="562.3" y="567.6" font-family="'Liberation Serif', serif" font-size="15" text-anchor="middle" fill="#333" font-weight="normal" >4.40</text>
<line x1="631.4" y1="551.5" x2="631.4" y2="556.0" stroke="#111" stroke-width="1.4" />
<text x="632.3" y="567.6" font-family="'Liberation Serif', serif" font-size="15" text-anchor="middle" fill="#333" font-weight="normal" >4.30</text>
<line x1="704.2" y1="551.5" x2="704.2" y2="556.0" stroke="#111" stroke-width="1.4" />
<text x="705.8" y="567.6" font-family="'Liberation Serif', serif" font-size="15" text-anchor="middle" fill="#333" font-weight="normal" >4.20</text>
<text x="410.5" y="347.5" font-family="'Liberation Serif', serif" font-size="19" text-anchor="start" fill="#2a2a2a" font-weight="normal" transform="rotate(-90 410.5 347.5)">13</text>
<text x="418.5" y="322.8" font-family="'Liberation Serif', serif" font-size="22" text-anchor="start" fill="#2a2a2a" font-weight="normal" transform="rotate(-90 418.5 322.8)">C</text>
<text x="418.5" y="294.2" font-family="'Liberation Serif', serif" font-size="22" text-anchor="start" fill="#2a2a2a" font-weight="normal" transform="rotate(-90 418.5 294.2)">(ppm)</text>
<text x="561.0" y="586.6" font-family="'Liberation Serif', serif" font-size="14" text-anchor="start" fill="#2a2a2a" font-weight="normal" >1</text>
<text x="566.9" y="595.9" font-family="'Liberation Serif', serif" font-size="20.5" text-anchor="start" fill="#2a2a2a" font-weight="normal" >H</text>
<text x="593.2" y="595.9" font-family="'Liberation Serif', serif" font-size="20.5" text-anchor="start" fill="#2a2a2a" font-weight="normal" >(ppm)</text>
<line x1="468.3" y1="632.6" x2="468.3" y2="825.6" stroke="#111" stroke-width="1.5" />
<line x1="467.6" y1="825.0" x2="755.2" y2="825.0" stroke="#111" stroke-width="1.5" />
<line x1="460.4" y1="633.3" x2="468.3" y2="633.3" stroke="#111" stroke-width="1.5" />
<text x="456.2" y="638.2" font-family="'Liberation Serif', serif" font-size="14" text-anchor="end" fill="#444" font-weight="normal" >1.5</text>
<line x1="460.4" y1="697.2" x2="468.3" y2="697.2" stroke="#111" stroke-width="1.5" />
<text x="456.2" y="702.1" font-family="'Liberation Serif', serif" font-size="14" text-anchor="end" fill="#444" font-weight="normal" >1.0</text>
<line x1="460.4" y1="761.1" x2="468.3" y2="761.1" stroke="#111" stroke-width="1.5" />
<text x="456.2" y="766.0" font-family="'Liberation Serif', serif" font-size="14" text-anchor="end" fill="#444" font-weight="normal" >0.5</text>
<line x1="460.4" y1="825.0" x2="468.3" y2="825.0" stroke="#111" stroke-width="1.5" />
<text x="456.2" y="829.9" font-family="'Liberation Serif', serif" font-size="14" text-anchor="end" fill="#444" font-weight="normal" >0.0</text>
<line x1="468.4" y1="825.0" x2="468.4" y2="832.2" stroke="#111" stroke-width="1.5" />
<text x="468.4" y="849.6" font-family="'Liberation Serif', serif" font-size="14" text-anchor="middle" fill="#444" font-weight="normal" >0</text>
<line x1="509.2" y1="825.0" x2="509.2" y2="832.2" stroke="#111" stroke-width="1.5" />
<text x="509.2" y="849.6" font-family="'Liberation Serif', serif" font-size="14" text-anchor="middle" fill="#444" font-weight="normal" >20</text>
<line x1="550.1" y1="825.0" x2="550.1" y2="832.2" stroke="#111" stroke-width="1.5" />
<text x="550.1" y="849.6" font-family="'Liberation Serif', serif" font-size="14" text-anchor="middle" fill="#444" font-weight="normal" >40</text>
<line x1="590.9" y1="825.0" x2="590.9" y2="832.2" stroke="#111" stroke-width="1.5" />
<text x="590.9" y="849.6" font-family="'Liberation Serif', serif" font-size="14" text-anchor="middle" fill="#444" font-weight="normal" >60</text>
<line x1="631.8" y1="825.0" x2="631.8" y2="832.2" stroke="#111" stroke-width="1.5" />
<text x="631.8" y="849.6" font-family="'Liberation Serif', serif" font-size="14" text-anchor="middle" fill="#444" font-weight="normal" >80</text>
<line x1="672.6" y1="825.0" x2="672.6" y2="832.2" stroke="#111" stroke-width="1.5" />
<text x="672.6" y="849.6" font-family="'Liberation Serif', serif" font-size="14" text-anchor="middle" fill="#444" font-weight="normal" >100</text>
<line x1="713.5" y1="825.0" x2="713.5" y2="832.2" stroke="#111" stroke-width="1.5" />
<text x="713.5" y="849.6" font-family="'Liberation Serif', serif" font-size="14" text-anchor="middle" fill="#444" font-weight="normal" >120</text>
<line x1="754.3" y1="825.0" x2="754.3" y2="832.2" stroke="#111" stroke-width="1.5" />
<text x="754.3" y="849.6" font-family="'Liberation Serif', serif" font-size="14" text-anchor="middle" fill="#444" font-weight="normal" >140</text>
<line x1="497.4" y1="633.0" x2="497.4" y2="825.0" stroke="#222" stroke-width="1.1" stroke-dasharray="1.2 1.6"/>
<path d="M472.5,824.3 L474.5,823.8 L476.6,824.1 L478.6,823.7 L480.7,823.6 L482.7,824.6 L484.7,824.7 L486.8,823.2 L488.8,819.2 L490.9,818.6 L492.9,824.7 L495.0,823.7 L497.0,671.6 L499.0,776.4 L501.1,818.6 L503.1,822.4 L505.2,823.1 L507.2,823.2 L509.2,823.8 L511.3,823.4 L513.3,823.5 L515.4,824.6 L517.4,823.4 L519.5,823.7 L521.5,824.2 L523.5,824.7 L525.6,823.2 L527.6,823.9 L529.7,823.5 L531.7,823.2 L533.8,823.5 L535.8,823.1 L537.8,824.0 L539.9,823.3 L541.9,823.9 L544.0,823.1 L546.0,823.2 L548.1,824.6 L550.1,824.5 L552.1,824.4 L554.2,823.0 L556.2,824.0 L558.3,823.6 L560.3,824.2 L562.4,823.8 L564.4,824.1 L566.4,824.1 L568.5,823.7 L570.5,820.5 L572.6,823.1 L574.6,823.5 L576.7,823.1 L578.7,823.2 L580.7,823.0 L582.8,823.5 L584.8,824.5 L586.9,823.2 L588.9,823.0 L590.9,822.2 L593.0,823.7 L595.0,823.5 L597.1,824.4 L599.1,823.3 L601.2,823.7 L603.2,824.2 L605.2,824.6 L607.3,823.2 L609.3,823.0 L611.4,824.6 L613.4,823.3 L615.5,824.0 L617.5,823.1 L619.5,824.2 L621.6,823.4 L623.6,823.2 L625.7,824.7 L627.7,823.6 L629.8,824.7 L631.8,823.5 L633.8,824.2 L635.9,823.2 L637.9,823.0 L640.0,823.8 L642.0,823.0 L644.1,824.2 L646.1,824.6 L648.1,823.7 L650.2,824.7 L652.2,824.4 L654.3,824.0 L656.3,823.7 L658.4,824.5 L660.4,824.7 L662.4,823.2 L664.5,824.2 L666.5,823.0 L668.6,823.5 L670.6,824.1 L672.6,823.9 L674.7,823.8 L676.7,823.6 L678.8,823.7 L680.8,823.7 L682.9,823.6 L684.9,823.1 L686.9,823.8 L689.0,824.0 L691.0,823.5 L693.1,824.3 L695.1,824.2 L697.2,823.0 L699.2,823.8 L701.2,823.8 L703.3,824.7 L705.3,824.0 L707.4,823.7 L709.4,824.7 L711.5,823.6 L713.5,823.6 L715.5,824.6 L717.6,823.6 L719.6,823.9 L721.7,823.5 L723.7,824.1 L725.8,823.5 L727.8,823.4 L729.8,824.7 L731.9,824.6 L733.9,823.5 L736.0,823.0 L738.0,824.3 L740.1,823.9 L742.1,823.7 L744.1,824.2 L746.2,824.1 L748.2,824.2 L750.3,824.1 L752.3,823.7 L754.3,824.2" fill="none" stroke="#111" stroke-width="1.9" stroke-linejoin="round"/>
<ellipse cx="472.5" cy="824.3" rx="2.9" ry="2.9" fill="#111" />
<ellipse cx="474.5" cy="823.8" rx="2.9" ry="2.9" fill="#111" />
<ellipse cx="476.6" cy="824.1" rx="2.9" ry="2.9" fill="#111" />
<ellipse cx="478.6" cy="823.7" rx="2.9" ry="2.9" fill="#111" />
<ellipse cx="480.7" cy="823.6" rx="2.9" ry="2.9" fill="#111" />
<ellipse cx="482.7" cy="824.6" rx="2.9" ry="2.9" fill="#111" />
<ellipse cx="484.7" cy="824.7" rx="2.9" ry="2.9" fill="#111" />
<ellipse cx="486.8" cy="823.2" rx="2.9" ry="2.9" fill="#111" />
<ellipse cx="488.8" cy="819.2" rx="2.9" ry="2.9" fill="#111" />
<ellipse cx="490.9" cy="818.6" rx="2.9" ry="2.9" fill="#111" />
<ellipse cx="492.9" cy="824.7" rx="2.9" ry="2.9" fill="#111" />
<ellipse cx="495.0" cy="823.7" rx="2.9" ry="2.9" fill="#111" />
<ellipse cx="497.0" cy="671.6" rx="2.9" ry="2.9" fill="#111" />
<ellipse cx="499.0" cy="776.4" rx="2.9" ry="2.9" fill="#111" />
<ellipse cx="501.1" cy="818.6" rx="2.9" ry="2.9" fill="#111" />
<ellipse cx="503.1" cy="822.4" rx="2.9" ry="2.9" fill="#111" />
<ellipse cx="505.2" cy="823.1" rx="2.9" ry="2.9" fill="#111" />
<ellipse cx="507.2" cy="823.2" rx="2.9" ry="2.9" fill="#111" />
<ellipse cx="509.2" cy="823.8" rx="2.9" ry="2.9" fill="#111" />
<ellipse cx="511.3" cy="823.4" rx="2.9" ry="2.9" fill="#111" />
<ellipse cx="513.3" cy="823.5" rx="2.9" ry="2.9" fill="#111" />
<ellipse cx="515.4" cy="824.6" rx="2.9" ry="2.9" fill="#111" />
<ellipse cx="517.4" cy="823.4" rx="2.9" ry="2.9" fill="#111" />
<ellipse cx="519.5" cy="823.7" rx="2.9" ry="2.9" fill="#111" />
<ellipse cx="521.5" cy="824.2" rx="2.9" ry="2.9" fill="#111" />
<ellipse cx="523.5" cy="824.7" rx="2.9" ry="2.9" fill="#111" />
<ellipse cx="525.6" cy="823.2" rx="2.9" ry="2.9" fill="#111" />
<ellipse cx="527.6" cy="823.9" rx="2.9" ry="2.9" fill="#111" />
<ellipse cx="529.7" cy="823.5" rx="2.9" ry="2.9" fill="#111" />
<ellipse cx="531.7" cy="823.2" rx="2.9" ry="2.9" fill="#111" />
<ellipse cx="533.8" cy="823.5" rx="2.9" ry="2.9" fill="#111" />
<ellipse cx="535.8" cy="823.1" rx="2.9" ry="2.9" fill="#111" />
<ellipse cx="537.8" cy="824.0" rx="2.9" ry="2.9" fill="#111" />
<ellipse cx="539.9" cy="823.3" rx="2.9" ry="2.9" fill="#111" />
<ellipse cx="541.9" cy="823.9" rx="2.9" ry="2.9" fill="#111" />
<ellipse cx="544.0" cy="823.1" rx="2.9" ry="2.9" fill="#111" />
<ellipse cx="546.0" cy="823.2" rx="2.9" ry="2.9" fill="#111" />
<ellipse cx="548.1" cy="824.6" rx="2.9" ry="2.9" fill="#111" />
<ellipse cx="550.1" cy="824.5" rx="2.9" ry="2.9" fill="#111" />
<ellipse cx="552.1" cy="824.4" rx="2.9" ry="2.9" fill="#111" />
<ellipse cx="554.2" cy="823.0" rx="2.9" ry="2.9" fill="#111" />
<ellipse cx="556.2" cy="824.0" rx="2.9" ry="2.9" fill="#111" />
<ellipse cx="558.3" cy="823.6" rx="2.9" ry="2.9" fill="#111" />
<ellipse cx="560.3" cy="824.2" rx="2.9" ry="2.9" fill="#111" />
<ellipse cx="562.4" cy="823.8" rx="2.9" ry="2.9" fill="#111" />
<ellipse cx="564.4" cy="824.1" rx="2.9" ry="2.9" fill="#111" />
<ellipse cx="566.4" cy="824.1" rx="2.9" ry="2.9" fill="#111" />
<ellipse cx="568.5" cy="823.7" rx="2.9" ry="2.9" fill="#111" />
<ellipse cx="570.5" cy="820.5" rx="2.9" ry="2.9" fill="#111" />
<ellipse cx="572.6" cy="823.1" rx="2.9" ry="2.9" fill="#111" />
<ellipse cx="574.6" cy="823.5" rx="2.9" ry="2.9" fill="#111" />
<ellipse cx="576.7" cy="823.1" rx="2.9" ry="2.9" fill="#111" />
<ellipse cx="578.7" cy="823.2" rx="2.9" ry="2.9" fill="#111" />
<ellipse cx="580.7" cy="823.0" rx="2.9" ry="2.9" fill="#111" />
<ellipse cx="582.8" cy="823.5" rx="2.9" ry="2.9" fill="#111" />
<ellipse cx="584.8" cy="824.5" rx="2.9" ry="2.9" fill="#111" />
<ellipse cx="586.9" cy="823.2" rx="2.9" ry="2.9" fill="#111" />
<ellipse cx="588.9" cy="823.0" rx="2.9" ry="2.9" fill="#111" />
<ellipse cx="590.9" cy="822.2" rx="2.9" ry="2.9" fill="#111" />
<ellipse cx="593.0" cy="823.7" rx="2.9" ry="2.9" fill="#111" />
<ellipse cx="595.0" cy="823.5" rx="2.9" ry="2.9" fill="#111" />
<ellipse cx="597.1" cy="824.4" rx="2.9" ry="2.9" fill="#111" />
<ellipse cx="599.1" cy="823.3" rx="2.9" ry="2.9" fill="#111" />
<ellipse cx="601.2" cy="823.7" rx="2.9" ry="2.9" fill="#111" />
<ellipse cx="603.2" cy="824.2" rx="2.9" ry="2.9" fill="#111" />
<ellipse cx="605.2" cy="824.6" rx="2.9" ry="2.9" fill="#111" />
<ellipse cx="607.3" cy="823.2" rx="2.9" ry="2.9" fill="#111" />
<ellipse cx="609.3" cy="823.0" rx="2.9" ry="2.9" fill="#111" />
<ellipse cx="611.4" cy="824.6" rx="2.9" ry="2.9" fill="#111" />
<ellipse cx="613.4" cy="823.3" rx="2.9" ry="2.9" fill="#111" />
<ellipse cx="615.5" cy="824.0" rx="2.9" ry="2.9" fill="#111" />
<ellipse cx="617.5" cy="823.1" rx="2.9" ry="2.9" fill="#111" />
<ellipse cx="619.5" cy="824.2" rx="2.9" ry="2.9" fill="#111" />
<ellipse cx="621.6" cy="823.4" rx="2.9" ry="2.9" fill="#111" />
<ellipse cx="623.6" cy="823.2" rx="2.9" ry="2.9" fill="#111" />
<ellipse cx="625.7" cy="824.7" rx="2.9" ry="2.9" fill="#111" />
<ellipse cx="627.7" cy="823.6" rx="2.9" ry="2.9" fill="#111" />
<ellipse cx="629.8" cy="824.7" rx="2.9" ry="2.9" fill="#111" />
<ellipse cx="631.8" cy="823.5" rx="2.9" ry="2.9" fill="#111" />
<ellipse cx="633.8" cy="824.2" rx="2.9" ry="2.9" fill="#111" />
<ellipse cx="635.9" cy="823.2" rx="2.9" ry="2.9" fill="#111" />
<ellipse cx="637.9" cy="823.0" rx="2.9" ry="2.9" fill="#111" />
<ellipse cx="640.0" cy="823.8" rx="2.9" ry="2.9" fill="#111" />
<ellipse cx="642.0" cy="823.0" rx="2.9" ry="2.9" fill="#111" />
<ellipse cx="644.1" cy="824.2" rx="2.9" ry="2.9" fill="#111" />
<ellipse cx="646.1" cy="824.6" rx="2.9" ry="2.9" fill="#111" />
<ellipse cx="648.1" cy="823.7" rx="2.9" ry="2.9" fill="#111" />
<ellipse cx="650.2" cy="824.7" rx="2.9" ry="2.9" fill="#111" />
<ellipse cx="652.2" cy="824.4" rx="2.9" ry="2.9" fill="#111" />
<ellipse cx="654.3" cy="824.0" rx="2.9" ry="2.9" fill="#111" />
<ellipse cx="656.3" cy="823.7" rx="2.9" ry="2.9" fill="#111" />
<ellipse cx="658.4" cy="824.5" rx="2.9" ry="2.9" fill="#111" />
<ellipse cx="660.4" cy="824.7" rx="2.9" ry="2.9" fill="#111" />
<ellipse cx="662.4" cy="823.2" rx="2.9" ry="2.9" fill="#111" />
<ellipse cx="664.5" cy="824.2" rx="2.9" ry="2.9" fill="#111" />
<ellipse cx="666.5" cy="823.0" rx="2.9" ry="2.9" fill="#111" />
<ellipse cx="668.6" cy="823.5" rx="2.9" ry="2.9" fill="#111" />
<ellipse cx="670.6" cy="824.1" rx="2.9" ry="2.9" fill="#111" />
<ellipse cx="672.6" cy="823.9" rx="2.9" ry="2.9" fill="#111" />
<ellipse cx="674.7" cy="823.8" rx="2.9" ry="2.9" fill="#111" />
<ellipse cx="676.7" cy="823.6" rx="2.9" ry="2.9" fill="#111" />
<ellipse cx="678.8" cy="823.7" rx="2.9" ry="2.9" fill="#111" />
<ellipse cx="680.8" cy="823.7" rx="2.9" ry="2.9" fill="#111" />
<ellipse cx="682.9" cy="823.6" rx="2.9" ry="2.9" fill="#111" />
<ellipse cx="684.9" cy="823.1" rx="2.9" ry="2.9" fill="#111" />
<ellipse cx="686.9" cy="823.8" rx="2.9" ry="2.9" fill="#111" />
<ellipse cx="689.0" cy="824.0" rx="2.9" ry="2.9" fill="#111" />
<ellipse cx="691.0" cy="823.5" rx="2.9" ry="2.9" fill="#111" />
<ellipse cx="693.1" cy="824.3" rx="2.9" ry="2.9" fill="#111" />
<ellipse cx="695.1" cy="824.2" rx="2.9" ry="2.9" fill="#111" />
<ellipse cx="697.2" cy="823.0" rx="2.9" ry="2.9" fill="#111" />
<ellipse cx="699.2" cy="823.8" rx="2.9" ry="2.9" fill="#111" />
<ellipse cx="701.2" cy="823.8" rx="2.9" ry="2.9" fill="#111" />
<ellipse cx="703.3" cy="824.7" rx="2.9" ry="2.9" fill="#111" />
<ellipse cx="705.3" cy="824.0" rx="2.9" ry="2.9" fill="#111" />
<ellipse cx="707.4" cy="823.7" rx="2.9" ry="2.9" fill="#111" />
<ellipse cx="709.4" cy="824.7" rx="2.9" ry="2.9" fill="#111" />
<ellipse cx="711.5" cy="823.6" rx="2.9" ry="2.9" fill="#111" />
<ellipse cx="713.5" cy="823.6" rx="2.9" ry="2.9" fill="#111" />
<ellipse cx="715.5" cy="824.6" rx="2.9" ry="2.9" fill="#111" />
<ellipse cx="717.6" cy="823.6" rx="2.9" ry="2.9" fill="#111" />
<ellipse cx="719.6" cy="823.9" rx="2.9" ry="2.9" fill="#111" />
<ellipse cx="721.7" cy="823.5" rx="2.9" ry="2.9" fill="#111" />
<ellipse cx="723.7" cy="824.1" rx="2.9" ry="2.9" fill="#111" />
<ellipse cx="725.8" cy="823.5" rx="2.9" ry="2.9" fill="#111" />
<ellipse cx="727.8" cy="823.4" rx="2.9" ry="2.9" fill="#111" />
<ellipse cx="729.8" cy="824.7" rx="2.9" ry="2.9" fill="#111" />
<ellipse cx="731.9" cy="824.6" rx="2.9" ry="2.9" fill="#111" />
<ellipse cx="733.9" cy="823.5" rx="2.9" ry="2.9" fill="#111" />
<ellipse cx="736.0" cy="823.0" rx="2.9" ry="2.9" fill="#111" />
<ellipse cx="738.0" cy="824.3" rx="2.9" ry="2.9" fill="#111" />
<ellipse cx="740.1" cy="823.9" rx="2.9" ry="2.9" fill="#111" />
<ellipse cx="742.1" cy="823.7" rx="2.9" ry="2.9" fill="#111" />
<ellipse cx="744.1" cy="824.2" rx="2.9" ry="2.9" fill="#111" />
<ellipse cx="746.2" cy="824.1" rx="2.9" ry="2.9" fill="#111" />
<ellipse cx="748.2" cy="824.2" rx="2.9" ry="2.9" fill="#111" />
<ellipse cx="750.3" cy="824.1" rx="2.9" ry="2.9" fill="#111" />
<ellipse cx="752.3" cy="823.7" rx="2.9" ry="2.9" fill="#111" />
<ellipse cx="754.3" cy="824.2" rx="2.9" ry="2.9" fill="#111" />
<text x="428.2" y="719.0" font-family="'Liberation Serif', serif" font-size="22.3" text-anchor="middle" fill="#1a1a1a" font-weight="normal" transform="rotate(-90 428.2 719)">CSP (ppm)</text>
<text x="623.6" y="872.8" font-family="'Liberation Serif', serif" font-size="22.6" text-anchor="middle" fill="#1a1a1a" font-weight="normal" >Residue number</text>
<rect x="126.6" y="1053.8" width="58.2" height="171" fill="#d9d9d9"/>
<line x1="146.3" y1="1054.0" x2="146.3" y2="1225.0" stroke="#222" stroke-width="1.1" stroke-dasharray="1.3 4.2"/>
<line x1="84.5" y1="1110.9" x2="749.0" y2="1110.9" stroke="#333" stroke-width="1.2" stroke-dasharray="1.3 4.3"/>
<line x1="79.2" y1="1053.6" x2="79.2" y2="1225.0" stroke="#111" stroke-width="1.6" />
<line x1="66.5" y1="1054.3" x2="79.2" y2="1054.3" stroke="#111" stroke-width="1.6" />
<text x="61.5" y="1058.9" font-family="'Liberation Serif', serif" font-size="14" text-anchor="end" fill="#444" font-weight="normal" >2</text>
<line x1="66.5" y1="1110.9" x2="79.2" y2="1110.9" stroke="#111" stroke-width="1.6" />
<text x="61.5" y="1115.5" font-family="'Liberation Serif', serif" font-size="14" text-anchor="end" fill="#444" font-weight="normal" >1</text>
<line x1="66.5" y1="1167.4" x2="79.2" y2="1167.4" stroke="#111" stroke-width="1.6" />
<text x="61.5" y="1172.0" font-family="'Liberation Serif', serif" font-size="14" text-anchor="end" fill="#444" font-weight="normal" >0</text>
<line x1="66.5" y1="1224.0" x2="79.2" y2="1224.0" stroke="#111" stroke-width="1.6" />
<text x="61.5" y="1228.5" font-family="'Liberation Serif', serif" font-size="14" text-anchor="end" fill="#444" font-weight="normal" >-1</text>
<line x1="66.5" y1="1167.4" x2="749.2" y2="1167.4" stroke="#111" stroke-width="1.6" />
<line x1="127.2" y1="1167.4" x2="127.2" y2="1180.7" stroke="#111" stroke-width="1.6" />
<text x="123.7" y="1199.4" font-family="'Liberation Serif', serif" font-size="14" text-anchor="middle" fill="#444" font-weight="normal" >10</text>
<line x1="175.0" y1="1167.4" x2="175.0" y2="1180.7" stroke="#111" stroke-width="1.6" />
<text x="175.0" y="1199.4" font-family="'Liberation Serif', serif" font-size="14" text-anchor="middle" fill="#444" font-weight="normal" >20</text>
<line x1="222.8" y1="1167.4" x2="222.8" y2="1180.7" stroke="#111" stroke-width="1.6" />
<text x="222.8" y="1199.4" font-family="'Liberation Serif', serif" font-size="14" text-anchor="middle" fill="#444" font-weight="normal" >30</text>
<line x1="270.6" y1="1167.4" x2="270.6" y2="1180.7" stroke="#111" stroke-width="1.6" />
<text x="270.6" y="1199.4" font-family="'Liberation Serif', serif" font-size="14" text-anchor="middle" fill="#444" font-weight="normal" >40</text>
<line x1="318.4" y1="1167.4" x2="318.4" y2="1180.7" stroke="#111" stroke-width="1.6" />
<text x="318.4" y="1199.4" font-family="'Liberation Serif', serif" font-size="14" text-anchor="middle" fill="#444" font-weight="normal" >50</text>
<line x1="366.2" y1="1167.4" x2="366.2" y2="1180.7" stroke="#111" stroke-width="1.6" />
<text x="366.2" y="1199.4" font-family="'Liberation Serif', serif" font-size="14" text-anchor="middle" fill="#444" font-weight="normal" >60</text>
<line x1="414.0" y1="1167.4" x2="414.0" y2="1180.7" stroke="#111" stroke-width="1.6" />
<text x="414.0" y="1199.4" font-family="'Liberation Serif', serif" font-size="14" text-anchor="middle" fill="#444" font-weight="normal" >70</text>
<line x1="461.8" y1="1167.4" x2="461.8" y2="1180.7" stroke="#111" stroke-width="1.6" />
<text x="461.8" y="1199.4" font-family="'Liberation Serif', serif" font-size="14" text-anchor="middle" fill="#444" font-weight="normal" >80</text>
<line x1="509.6" y1="1167.4" x2="509.6" y2="1180.7" stroke="#111" stroke-width="1.6" />
<text x="509.6" y="1199.4" font-family="'Liberation Serif', serif" font-size="14" text-anchor="middle" fill="#444" font-weight="normal" >90</text>
<line x1="557.4" y1="1167.4" x2="557.4" y2="1180.7" stroke="#111" stroke-width="1.6" />
<text x="557.4" y="1199.4" font-family="'Liberation Serif', serif" font-size="14" text-anchor="middle" fill="#444" font-weight="normal" >100</text>
<line x1="605.2" y1="1167.4" x2="605.2" y2="1180.7" stroke="#111" stroke-width="1.6" />
<text x="605.2" y="1199.4" font-family="'Liberation Serif', serif" font-size="14" text-anchor="middle" fill="#444" font-weight="normal" >110</text>
<line x1="653.0" y1="1167.4" x2="653.0" y2="1180.7" stroke="#111" stroke-width="1.6" />
<text x="653.0" y="1199.4" font-family="'Liberation Serif', serif" font-size="14" text-anchor="middle" fill="#444" font-weight="normal" >120</text>
<line x1="700.8" y1="1167.4" x2="700.8" y2="1180.7" stroke="#111" stroke-width="1.6" />
<text x="700.8" y="1199.4" font-family="'Liberation Serif', serif" font-size="14" text-anchor="middle" fill="#444" font-weight="normal" >130</text>
<line x1="748.6" y1="1167.4" x2="748.6" y2="1180.7" stroke="#111" stroke-width="1.6" />
<text x="748.6" y="1199.4" font-family="'Liberation Serif', serif" font-size="14" text-anchor="middle" fill="#444" font-weight="normal" >140</text>
<path d="M93.7,1121.0 L98.5,1102.9 L103.3,1127.2 L112.9,1107.5 L117.6,1125.0 L127.2,1114.8 L132.0,1130.6 L141.5,1116.5 L146.3,1109.2 L155.9,1155.0 L160.7,1140.8 L165.4,1150.4 L170.2,1130.6 L175.0,1153.3 L179.8,1130.6 L184.6,1099.5 L189.3,1105.2 L194.1,1105.2 L198.9,1120.5 L203.7,1091.1 L208.5,1126.1 L213.2,1108.6 L218.0,1125.0 L227.6,1123.9 L232.4,1095.6 L237.1,1089.4 L241.9,1118.8 L251.5,1102.4 L256.3,1079.7 L261.0,1087.1 L265.8,1091.1 L270.6,1099.0 L275.4,1131.2 L280.2,1099.5 L289.7,1127.8 L294.5,1111.4 L304.1,1078.1 L308.8,1086.0 L313.6,1119.9 L318.4,1116.5 L328.0,1093.9 L332.7,1114.8 L337.5,1102.9 L347.1,1108.6 L351.9,1122.2 L356.6,1100.1 L361.4,1100.1 L366.2,1126.1 L371.0,1106.3 L375.8,1117.1 L380.5,1100.7 L385.3,1086.0 L394.9,1099.5 L399.7,1086.5 L404.4,1097.3 L409.2,1098.4 L414.0,1093.9 L418.8,1093.3 L423.6,1101.8 L433.1,1099.5 L437.9,1105.2 L442.7,1108.0 L447.5,1109.7 L452.2,1097.8 L457.0,1092.2 L466.6,1119.3 L471.4,1070.1 L476.1,1104.1 L500.0,1097.8 L504.8,1106.9 L509.6,1110.3 L514.4,1106.3 L519.2,1100.1 L528.7,1090.5 L533.5,1088.2 L538.3,1106.9 L543.1,1108.0 L547.8,1108.0 L557.4,1084.3 L562.2,1114.2 L567.0,1119.9 L576.5,1108.0 L581.3,1109.7 L586.1,1105.2 L590.9,1116.5 L600.4,1093.3 L605.2,1101.8 L610.0,1096.7 L614.8,1119.3 L619.5,1099.0 L624.3,1105.2 L629.1,1102.4 L633.9,1102.4 L643.4,1099.5 L648.2,1080.3 L657.8,1105.2 L662.6,1093.3 L667.3,1093.3 L672.1,1104.1 L676.9,1100.7 L681.7,1089.4 L686.5,1093.3 L696.0,1095.0 L700.8,1096.1 L705.6,1095.6 L710.4,1084.3 L715.1,1084.8 L719.9,1075.2 L724.7,1109.2 L729.5,1097.8 L734.3,1118.2 L743.8,1110.9" fill="none" stroke="#111" stroke-width="1.6" stroke-linejoin="round"/>
<path d="M91.1,1113.7H96.3M93.7,1113.7V1128.4M91.1,1128.4H96.3" stroke="#111" stroke-width="1.5" fill="none"/>
<ellipse cx="93.7" cy="1121.0" rx="2.8" ry="2.8" fill="#111" />
<path d="M95.9,1097.3H101.1M98.5,1097.3V1108.6M95.9,1108.6H101.1" stroke="#111" stroke-width="1.5" fill="none"/>
<ellipse cx="98.5" cy="1102.9" rx="2.8" ry="2.8" fill="#111" />
<path d="M100.7,1108.0H105.9M103.3,1108.0V1146.5M100.7,1146.5H105.9" stroke="#111" stroke-width="1.5" fill="none"/>
<ellipse cx="103.3" cy="1127.2" rx="2.8" ry="2.8" fill="#111" />
<path d="M110.3,1086.0H115.5M112.9,1086.0V1128.9M110.3,1128.9H115.5" stroke="#111" stroke-width="1.5" fill="none"/>
<ellipse cx="112.9" cy="1107.5" rx="2.8" ry="2.8" fill="#111" />
<path d="M115.0,1112.0H120.2M117.6,1112.0V1138.0M115.0,1138.0H120.2" stroke="#111" stroke-width="1.5" fill="none"/>
<ellipse cx="117.6" cy="1125.0" rx="2.8" ry="2.8" fill="#111" />
<path d="M124.6,1099.5H129.8M127.2,1099.5V1130.6M124.6,1130.6H129.8" stroke="#111" stroke-width="1.5" fill="none"/>
<ellipse cx="127.2" cy="1114.8" rx="2.8" ry="2.8" fill="#111" />
<path d="M129.4,1128.4H134.6M132.0,1128.4V1133.5M129.4,1133.5H134.6" stroke="#111" stroke-width="1.5" fill="none"/>
<ellipse cx="132.0" cy="1130.6" rx="2.8" ry="2.8" fill="#111" />
<path d="M138.9,1114.2H144.1M141.5,1114.2V1118.8M138.9,1118.8H144.1" stroke="#111" stroke-width="1.5" fill="none"/>
<ellipse cx="141.5" cy="1116.5" rx="2.8" ry="2.8" fill="#111" />
<path d="M143.7,1099.5H148.9M146.3,1099.5V1117.6M143.7,1117.6H148.9" stroke="#111" stroke-width="1.5" fill="none"/>
<ellipse cx="146.3" cy="1109.2" rx="2.8" ry="2.8" fill="#111" />
<path d="M153.3,1142.5H158.5M155.9,1142.5V1167.4M153.3,1167.4H158.5" stroke="#111" stroke-width="1.5" fill="none"/>
<ellipse cx="155.9" cy="1155.0" rx="2.8" ry="2.8" fill="#111" />
<path d="M158.1,1128.4H163.3M160.7,1128.4V1153.3M158.1,1153.3H163.3" stroke="#111" stroke-width="1.5" fill="none"/>
<ellipse cx="160.7" cy="1140.8" rx="2.8" ry="2.8" fill="#111" />
<path d="M162.8,1131.2H168.0M165.4,1131.2V1170.8M162.8,1170.8H168.0" stroke="#111" stroke-width="1.5" fill="none"/>
<ellipse cx="165.4" cy="1150.4" rx="2.8" ry="2.8" fill="#111" />
<path d="M167.6,1119.9H172.8M170.2,1119.9V1149.3M167.6,1149.3H172.8" stroke="#111" stroke-width="1.5" fill="none"/>
<ellipse cx="170.2" cy="1130.6" rx="2.8" ry="2.8" fill="#111" />
<path d="M172.4,1132.3H177.6M175.0,1132.3V1174.2M172.4,1174.2H177.6" stroke="#111" stroke-width="1.5" fill="none"/>
<ellipse cx="175.0" cy="1153.3" rx="2.8" ry="2.8" fill="#111" />
<path d="M177.2,1113.7H182.4M179.8,1113.7V1148.7M177.2,1148.7H182.4" stroke="#111" stroke-width="1.5" fill="none"/>
<ellipse cx="179.8" cy="1130.6" rx="2.8" ry="2.8" fill="#111" />
<path d="M182.0,1089.4H187.2M184.6,1089.4V1109.2M182.0,1109.2H187.2" stroke="#111" stroke-width="1.5" fill="none"/>
<ellipse cx="184.6" cy="1099.5" rx="2.8" ry="2.8" fill="#111" />
<path d="M186.7,1095.0H191.9M189.3,1095.0V1118.2M186.7,1118.2H191.9" stroke="#111" stroke-width="1.5" fill="none"/>
<ellipse cx="189.3" cy="1105.2" rx="2.8" ry="2.8" fill="#111" />
<path d="M191.5,1100.7H196.7M194.1,1100.7V1109.7M191.5,1109.7H196.7" stroke="#111" stroke-width="1.5" fill="none"/>
<ellipse cx="194.1" cy="1105.2" rx="2.8" ry="2.8" fill="#111" />
<path d="M196.3,1095.6H201.5M198.9,1095.6V1146.5M196.3,1146.5H201.5" stroke="#111" stroke-width="1.5" fill="none"/>
<ellipse cx="198.9" cy="1120.5" rx="2.8" ry="2.8" fill="#111" />
<path d="M201.1,1088.2H206.3M203.7,1088.2V1094.5M201.1,1094.5H206.3" stroke="#111" stroke-width="1.5" fill="none"/>
<ellipse cx="203.7" cy="1091.1" rx="2.8" ry="2.8" fill="#111" />
<path d="M205.9,1116.5H211.1M208.5,1116.5V1135.7M205.9,1135.7H211.1" stroke="#111" stroke-width="1.5" fill="none"/>
<ellipse cx="208.5" cy="1126.1" rx="2.8" ry="2.8" fill="#111" />
<path d="M210.6,1102.4H215.8M213.2,1102.4V1115.4M210.6,1115.4H215.8" stroke="#111" stroke-width="1.5" fill="none"/>
<ellipse cx="213.2" cy="1108.6" rx="2.8" ry="2.8" fill="#111" />
<path d="M215.4,1118.8H220.6M218.0,1118.8V1131.2M215.4,1131.2H220.6" stroke="#111" stroke-width="1.5" fill="none"/>
<ellipse cx="218.0" cy="1125.0" rx="2.8" ry="2.8" fill="#111" />
<path d="M225.0,1100.1H230.2M227.6,1100.1V1147.6M225.0,1147.6H230.2" stroke="#111" stroke-width="1.5" fill="none"/>
<ellipse cx="227.6" cy="1123.9" rx="2.8" ry="2.8" fill="#111" />
<path d="M229.8,1086.0H235.0M232.4,1086.0V1102.9M229.8,1102.9H235.0" stroke="#111" stroke-width="1.5" fill="none"/>
<ellipse cx="232.4" cy="1095.6" rx="2.8" ry="2.8" fill="#111" />
<path d="M234.5,1078.6H239.7M237.1,1078.6V1100.1M234.5,1100.1H239.7" stroke="#111" stroke-width="1.5" fill="none"/>
<ellipse cx="237.1" cy="1089.4" rx="2.8" ry="2.8" fill="#111" />
<path d="M239.3,1111.4H244.5M241.9,1111.4V1126.1M239.3,1126.1H244.5" stroke="#111" stroke-width="1.5" fill="none"/>
<ellipse cx="241.9" cy="1118.8" rx="2.8" ry="2.8" fill="#111" />
<path d="M248.9,1097.8H254.1M251.5,1097.8V1106.9M248.9,1106.9H254.1" stroke="#111" stroke-width="1.5" fill="none"/>
<ellipse cx="251.5" cy="1102.4" rx="2.8" ry="2.8" fill="#111" />
<path d="M253.7,1075.8H258.9M256.3,1075.8V1083.7M253.7,1083.7H258.9" stroke="#111" stroke-width="1.5" fill="none"/>
<ellipse cx="256.3" cy="1079.7" rx="2.8" ry="2.8" fill="#111" />
<path d="M258.4,1083.7H263.6M261.0,1083.7V1090.5M258.4,1090.5H263.6" stroke="#111" stroke-width="1.5" fill="none"/>
<ellipse cx="261.0" cy="1087.1" rx="2.8" ry="2.8" fill="#111" />
<path d="M263.2,1088.2H268.4M265.8,1088.2V1094.5M263.2,1094.5H268.4" stroke="#111" stroke-width="1.5" fill="none"/>
<ellipse cx="265.8" cy="1091.1" rx="2.8" ry="2.8" fill="#111" />
<path d="M268.0,1093.3H273.2M270.6,1093.3V1104.6M268.0,1104.6H273.2" stroke="#111" stroke-width="1.5" fill="none"/>
<ellipse cx="270.6" cy="1099.0" rx="2.8" ry="2.8" fill="#111" />
<path d="M272.8,1107.5H278.0M275.4,1107.5V1154.4M272.8,1154.4H278.0" stroke="#111" stroke-width="1.5" fill="none"/>
<ellipse cx="275.4" cy="1131.2" rx="2.8" ry="2.8" fill="#111" />
<path d="M277.6,1082.6H282.8M280.2,1082.6V1116.5M277.6,1116.5H282.8" stroke="#111" stroke-width="1.5" fill="none"/>
<ellipse cx="280.2" cy="1099.5" rx="2.8" ry="2.8" fill="#111" />
<path d="M287.1,1105.8H292.3M289.7,1105.8V1151.6M287.1,1151.6H292.3" stroke="#111" stroke-width="1.5" fill="none"/>
<ellipse cx="289.7" cy="1127.8" rx="2.8" ry="2.8" fill="#111" />
<path d="M291.9,1102.9H297.1M294.5,1102.9V1119.3M291.9,1119.3H297.1" stroke="#111" stroke-width="1.5" fill="none"/>
<ellipse cx="294.5" cy="1111.4" rx="2.8" ry="2.8" fill="#111" />
<path d="M301.5,1075.2H306.7M304.1,1075.2V1081.4M301.5,1081.4H306.7" stroke="#111" stroke-width="1.5" fill="none"/>
<ellipse cx="304.1" cy="1078.1" rx="2.8" ry="2.8" fill="#111" />
<path d="M306.2,1083.1H311.4M308.8,1083.1V1089.4M306.2,1089.4H311.4" stroke="#111" stroke-width="1.5" fill="none"/>
<ellipse cx="308.8" cy="1086.0" rx="2.8" ry="2.8" fill="#111" />
<path d="M311.0,1116.5H316.2M313.6,1116.5V1122.7M311.0,1122.7H316.2" stroke="#111" stroke-width="1.5" fill="none"/>
<ellipse cx="313.6" cy="1119.9" rx="2.8" ry="2.8" fill="#111" />
<path d="M315.8,1099.5H321.0M318.4,1099.5V1133.5M315.8,1133.5H321.0" stroke="#111" stroke-width="1.5" fill="none"/>
<ellipse cx="318.4" cy="1116.5" rx="2.8" ry="2.8" fill="#111" />
<path d="M325.4,1089.9H330.6M328.0,1089.9V1098.4M325.4,1098.4H330.6" stroke="#111" stroke-width="1.5" fill="none"/>
<ellipse cx="328.0" cy="1093.9" rx="2.8" ry="2.8" fill="#111" />
<path d="M330.1,1106.9H335.3M332.7,1106.9V1123.3M330.1,1123.3H335.3" stroke="#111" stroke-width="1.5" fill="none"/>
<ellipse cx="332.7" cy="1114.8" rx="2.8" ry="2.8" fill="#111" />
<path d="M334.9,1095.6H340.1M337.5,1095.6V1110.3M334.9,1110.3H340.1" stroke="#111" stroke-width="1.5" fill="none"/>
<ellipse cx="337.5" cy="1102.9" rx="2.8" ry="2.8" fill="#111" />
<path d="M344.5,1104.1H349.7M347.1,1104.1V1113.1M344.5,1113.1H349.7" stroke="#111" stroke-width="1.5" fill="none"/>
<ellipse cx="347.1" cy="1108.6" rx="2.8" ry="2.8" fill="#111" />
<path d="M349.3,1115.4H354.5M351.9,1115.4V1128.9M349.3,1128.9H354.5" stroke="#111" stroke-width="1.5" fill="none"/>
<ellipse cx="351.9" cy="1122.2" rx="2.8" ry="2.8" fill="#111" />
<path d="M354.0,1093.3H359.2M356.6,1093.3V1106.9M354.0,1106.9H359.2" stroke="#111" stroke-width="1.5" fill="none"/>
<ellipse cx="356.6" cy="1100.1" rx="2.8" ry="2.8" fill="#111" />
<path d="M358.8,1092.2H364.0M361.4,1092.2V1108.6M358.8,1108.6H364.0" stroke="#111" stroke-width="1.5" fill="none"/>
<ellipse cx="361.4" cy="1100.1" rx="2.8" ry="2.8" fill="#111" />
<path d="M363.6,1115.4H368.8M366.2,1115.4V1136.3M363.6,1136.3H368.8" stroke="#111" stroke-width="1.5" fill="none"/>
<ellipse cx="366.2" cy="1126.1" rx="2.8" ry="2.8" fill="#111" />
<path d="M368.4,1102.9H373.6M371.0,1102.9V1109.7M368.4,1109.7H373.6" stroke="#111" stroke-width="1.5" fill="none"/>
<ellipse cx="371.0" cy="1106.3" rx="2.8" ry="2.8" fill="#111" />
<path d="M373.2,1112.0H378.4M375.8,1112.0V1122.7M373.2,1122.7H378.4" stroke="#111" stroke-width="1.5" fill="none"/>
<ellipse cx="375.8" cy="1117.1" rx="2.8" ry="2.8" fill="#111" />
<path d="M377.9,1095.6H383.1M380.5,1095.6V1105.8M377.9,1105.8H383.1" stroke="#111" stroke-width="1.5" fill="none"/>
<ellipse cx="380.5" cy="1100.7" rx="2.8" ry="2.8" fill="#111" />
<path d="M382.7,1079.7H387.9M385.3,1079.7V1092.8M382.7,1092.8H387.9" stroke="#111" stroke-width="1.5" fill="none"/>
<ellipse cx="385.3" cy="1086.0" rx="2.8" ry="2.8" fill="#111" />
<path d="M392.3,1093.9H397.5M394.9,1093.9V1105.8M392.3,1105.8H397.5" stroke="#111" stroke-width="1.5" fill="none"/>
<ellipse cx="394.9" cy="1099.5" rx="2.8" ry="2.8" fill="#111" />
<path d="M397.1,1076.9H402.3M399.7,1076.9V1096.1M397.1,1096.1H402.3" stroke="#111" stroke-width="1.5" fill="none"/>
<ellipse cx="399.7" cy="1086.5" rx="2.8" ry="2.8" fill="#111" />
<path d="M401.8,1087.7H407.0M404.4,1087.7V1107.5M401.8,1107.5H407.0" stroke="#111" stroke-width="1.5" fill="none"/>
<ellipse cx="404.4" cy="1097.3" rx="2.8" ry="2.8" fill="#111" />
<path d="M406.6,1094.5H411.8M409.2,1094.5V1102.4M406.6,1102.4H411.8" stroke="#111" stroke-width="1.5" fill="none"/>
<ellipse cx="409.2" cy="1098.4" rx="2.8" ry="2.8" fill="#111" />
<path d="M411.4,1090.5H416.6M414.0,1090.5V1096.7M411.4,1096.7H416.6" stroke="#111" stroke-width="1.5" fill="none"/>
<ellipse cx="414.0" cy="1093.9" rx="2.8" ry="2.8" fill="#111" />
<path d="M416.2,1089.4H421.4M418.8,1089.4V1097.3M416.2,1097.3H421.4" stroke="#111" stroke-width="1.5" fill="none"/>
<ellipse cx="418.8" cy="1093.3" rx="2.8" ry="2.8" fill="#111" />
<path d="M421.0,1093.3H426.2M423.6,1093.3V1110.3M421.0,1110.3H426.2" stroke="#111" stroke-width="1.5" fill="none"/>
<ellipse cx="423.6" cy="1101.8" rx="2.8" ry="2.8" fill="#111" />
<path d="M430.5,1095.0H435.7M433.1,1095.0V1104.6M430.5,1104.6H435.7" stroke="#111" stroke-width="1.5" fill="none"/>
<ellipse cx="433.1" cy="1099.5" rx="2.8" ry="2.8" fill="#111" />
<path d="M435.3,1095.6H440.5M437.9,1095.6V1114.2M435.3,1114.2H440.5" stroke="#111" stroke-width="1.5" fill="none"/>
<ellipse cx="437.9" cy="1105.2" rx="2.8" ry="2.8" fill="#111" />
<path d="M440.1,1100.1H445.3M442.7,1100.1V1115.9M440.1,1115.9H445.3" stroke="#111" stroke-width="1.5" fill="none"/>
<ellipse cx="442.7" cy="1108.0" rx="2.8" ry="2.8" fill="#111" />
<path d="M444.9,1106.3H450.1M447.5,1106.3V1112.5M444.9,1112.5H450.1" stroke="#111" stroke-width="1.5" fill="none"/>
<ellipse cx="447.5" cy="1109.7" rx="2.8" ry="2.8" fill="#111" />
<path d="M449.6,1094.5H454.8M452.2,1094.5V1101.2M449.6,1101.2H454.8" stroke="#111" stroke-width="1.5" fill="none"/>
<ellipse cx="452.2" cy="1097.8" rx="2.8" ry="2.8" fill="#111" />
<path d="M454.4,1085.4H459.6M457.0,1085.4V1099.5M454.4,1099.5H459.6" stroke="#111" stroke-width="1.5" fill="none"/>
<ellipse cx="457.0" cy="1092.2" rx="2.8" ry="2.8" fill="#111" />
<path d="M464.0,1107.5H469.2M466.6,1107.5V1132.3M464.0,1132.3H469.2" stroke="#111" stroke-width="1.5" fill="none"/>
<ellipse cx="466.6" cy="1119.3" rx="2.8" ry="2.8" fill="#111" />
<path d="M468.8,1067.3H474.0M471.4,1067.3V1072.4M468.8,1072.4H474.0" stroke="#111" stroke-width="1.5" fill="none"/>
<ellipse cx="471.4" cy="1070.1" rx="2.8" ry="2.8" fill="#111" />
<path d="M473.5,1100.1H478.7M476.1,1100.1V1109.2M473.5,1109.2H478.7" stroke="#111" stroke-width="1.5" fill="none"/>
<ellipse cx="476.1" cy="1104.1" rx="2.8" ry="2.8" fill="#111" />
<path d="M497.4,1092.8H502.6M500.0,1092.8V1102.9M497.4,1102.9H502.6" stroke="#111" stroke-width="1.5" fill="none"/>
<ellipse cx="500.0" cy="1097.8" rx="2.8" ry="2.8" fill="#111" />
<path d="M502.2,1103.5H507.4M504.8,1103.5V1110.3M502.2,1110.3H507.4" stroke="#111" stroke-width="1.5" fill="none"/>
<ellipse cx="504.8" cy="1106.9" rx="2.8" ry="2.8" fill="#111" />
<path d="M507.0,1105.8H512.2M509.6,1105.8V1115.4M507.0,1115.4H512.2" stroke="#111" stroke-width="1.5" fill="none"/>
<ellipse cx="509.6" cy="1110.3" rx="2.8" ry="2.8" fill="#111" />
<path d="M511.8,1099.5H517.0M514.4,1099.5V1113.1M511.8,1113.1H517.0" stroke="#111" stroke-width="1.5" fill="none"/>
<ellipse cx="514.4" cy="1106.3" rx="2.8" ry="2.8" fill="#111" />
<path d="M516.6,1090.5H521.8M519.2,1090.5V1110.3M516.6,1110.3H521.8" stroke="#111" stroke-width="1.5" fill="none"/>
<ellipse cx="519.2" cy="1100.1" rx="2.8" ry="2.8" fill="#111" />
<path d="M526.1,1085.4H531.3M528.7,1085.4V1095.6M526.1,1095.6H531.3" stroke="#111" stroke-width="1.5" fill="none"/>
<ellipse cx="528.7" cy="1090.5" rx="2.8" ry="2.8" fill="#111" />
<path d="M530.9,1084.8H536.1M533.5,1084.8V1092.2M530.9,1092.2H536.1" stroke="#111" stroke-width="1.5" fill="none"/>
<ellipse cx="533.5" cy="1088.2" rx="2.8" ry="2.8" fill="#111" />
<path d="M535.7,1102.9H540.9M538.3,1102.9V1112.0M535.7,1112.0H540.9" stroke="#111" stroke-width="1.5" fill="none"/>
<ellipse cx="538.3" cy="1106.9" rx="2.8" ry="2.8" fill="#111" />
<path d="M540.5,1104.1H545.7M543.1,1104.1V1113.1M540.5,1113.1H545.7" stroke="#111" stroke-width="1.5" fill="none"/>
<ellipse cx="543.1" cy="1108.0" rx="2.8" ry="2.8" fill="#111" />
<path d="M545.2,1101.2H550.4M547.8,1101.2V1115.4M545.2,1115.4H550.4" stroke="#111" stroke-width="1.5" fill="none"/>
<ellipse cx="547.8" cy="1108.0" rx="2.8" ry="2.8" fill="#111" />
<path d="M554.8,1081.4H560.0M557.4,1081.4V1087.1M554.8,1087.1H560.0" stroke="#111" stroke-width="1.5" fill="none"/>
<ellipse cx="557.4" cy="1084.3" rx="2.8" ry="2.8" fill="#111" />
<path d="M559.6,1107.5H564.8M562.2,1107.5V1121.6M559.6,1121.6H564.8" stroke="#111" stroke-width="1.5" fill="none"/>
<ellipse cx="562.2" cy="1114.2" rx="2.8" ry="2.8" fill="#111" />
<path d="M564.4,1112.0H569.6M567.0,1112.0V1127.8M564.4,1127.8H569.6" stroke="#111" stroke-width="1.5" fill="none"/>
<ellipse cx="567.0" cy="1119.9" rx="2.8" ry="2.8" fill="#111" />
<path d="M573.9,1101.8H579.1M576.5,1101.8V1114.2M573.9,1114.2H579.1" stroke="#111" stroke-width="1.5" fill="none"/>
<ellipse cx="576.5" cy="1108.0" rx="2.8" ry="2.8" fill="#111" />
<path d="M578.7,1106.3H583.9M581.3,1106.3V1112.5M578.7,1112.5H583.9" stroke="#111" stroke-width="1.5" fill="none"/>
<ellipse cx="581.3" cy="1109.7" rx="2.8" ry="2.8" fill="#111" />
<path d="M583.5,1100.1H588.7M586.1,1100.1V1110.9M583.5,1110.9H588.7" stroke="#111" stroke-width="1.5" fill="none"/>
<ellipse cx="586.1" cy="1105.2" rx="2.8" ry="2.8" fill="#111" />
<path d="M588.3,1112.0H593.5M590.9,1112.0V1121.0M588.3,1121.0H593.5" stroke="#111" stroke-width="1.5" fill="none"/>
<ellipse cx="590.9" cy="1116.5" rx="2.8" ry="2.8" fill="#111" />
<path d="M597.8,1088.8H603.0M600.4,1088.8V1097.3M597.8,1097.3H603.0" stroke="#111" stroke-width="1.5" fill="none"/>
<ellipse cx="600.4" cy="1093.3" rx="2.8" ry="2.8" fill="#111" />
<path d="M602.6,1098.4H607.8M605.2,1098.4V1106.3M602.6,1106.3H607.8" stroke="#111" stroke-width="1.5" fill="none"/>
<ellipse cx="605.2" cy="1101.8" rx="2.8" ry="2.8" fill="#111" />
<path d="M607.4,1091.6H612.6M610.0,1091.6V1101.8M607.4,1101.8H612.6" stroke="#111" stroke-width="1.5" fill="none"/>
<ellipse cx="610.0" cy="1096.7" rx="2.8" ry="2.8" fill="#111" />
<path d="M612.2,1114.8H617.4M614.8,1114.8V1123.9M612.2,1123.9H617.4" stroke="#111" stroke-width="1.5" fill="none"/>
<ellipse cx="614.8" cy="1119.3" rx="2.8" ry="2.8" fill="#111" />
<path d="M616.9,1095.6H622.1M619.5,1095.6V1102.9M616.9,1102.9H622.1" stroke="#111" stroke-width="1.5" fill="none"/>
<ellipse cx="619.5" cy="1099.0" rx="2.8" ry="2.8" fill="#111" />
<path d="M621.7,1102.4H626.9M624.3,1102.4V1108.0M621.7,1108.0H626.9" stroke="#111" stroke-width="1.5" fill="none"/>
<ellipse cx="624.3" cy="1105.2" rx="2.8" ry="2.8" fill="#111" />
<path d="M626.5,1098.4H631.7M629.1,1098.4V1106.3M626.5,1106.3H631.7" stroke="#111" stroke-width="1.5" fill="none"/>
<ellipse cx="629.1" cy="1102.4" rx="2.8" ry="2.8" fill="#111" />
<path d="M631.3,1098.4H636.5M633.9,1098.4V1106.3M631.3,1106.3H636.5" stroke="#111" stroke-width="1.5" fill="none"/>
<ellipse cx="633.9" cy="1102.4" rx="2.8" ry="2.8" fill="#111" />
<path d="M640.8,1096.1H646.0M643.4,1096.1V1102.9M640.8,1102.9H646.0" stroke="#111" stroke-width="1.5" fill="none"/>
<ellipse cx="643.4" cy="1099.5" rx="2.8" ry="2.8" fill="#111" />
<path d="M645.6,1077.5H650.8M648.2,1077.5V1083.7M645.6,1083.7H650.8" stroke="#111" stroke-width="1.5" fill="none"/>
<ellipse cx="648.2" cy="1080.3" rx="2.8" ry="2.8" fill="#111" />
<path d="M655.2,1100.7H660.4M657.8,1100.7V1109.7M655.2,1109.7H660.4" stroke="#111" stroke-width="1.5" fill="none"/>
<ellipse cx="657.8" cy="1105.2" rx="2.8" ry="2.8" fill="#111" />
<path d="M660.0,1089.9H665.2M662.6,1089.9V1097.3M660.0,1097.3H665.2" stroke="#111" stroke-width="1.5" fill="none"/>
<ellipse cx="662.6" cy="1093.3" rx="2.8" ry="2.8" fill="#111" />
<path d="M664.7,1090.5H669.9M667.3,1090.5V1097.3M664.7,1097.3H669.9" stroke="#111" stroke-width="1.5" fill="none"/>
<ellipse cx="667.3" cy="1093.3" rx="2.8" ry="2.8" fill="#111" />
<path d="M669.5,1101.2H674.7M672.1,1101.2V1107.5M669.5,1107.5H674.7" stroke="#111" stroke-width="1.5" fill="none"/>
<ellipse cx="672.1" cy="1104.1" rx="2.8" ry="2.8" fill="#111" />
<path d="M674.3,1096.1H679.5M676.9,1096.1V1104.6M674.3,1104.6H679.5" stroke="#111" stroke-width="1.5" fill="none"/>
<ellipse cx="676.9" cy="1100.7" rx="2.8" ry="2.8" fill="#111" />
<path d="M679.1,1086.0H684.3M681.7,1086.0V1093.3M679.1,1093.3H684.3" stroke="#111" stroke-width="1.5" fill="none"/>
<ellipse cx="681.7" cy="1089.4" rx="2.8" ry="2.8" fill="#111" />
<path d="M683.9,1090.5H689.1M686.5,1090.5V1096.1M683.9,1096.1H689.1" stroke="#111" stroke-width="1.5" fill="none"/>
<ellipse cx="686.5" cy="1093.3" rx="2.8" ry="2.8" fill="#111" />
<path d="M693.4,1091.6H698.6M696.0,1091.6V1099.0M693.4,1099.0H698.6" stroke="#111" stroke-width="1.5" fill="none"/>
<ellipse cx="696.0" cy="1095.0" rx="2.8" ry="2.8" fill="#111" />
<path d="M698.2,1091.6H703.4M700.8,1091.6V1100.7M698.2,1100.7H703.4" stroke="#111" stroke-width="1.5" fill="none"/>
<ellipse cx="700.8" cy="1096.1" rx="2.8" ry="2.8" fill="#111" />
<path d="M703.0,1093.9H708.2M705.6,1093.9V1097.3M703.0,1097.3H708.2" stroke="#111" stroke-width="1.5" fill="none"/>
<ellipse cx="705.6" cy="1095.6" rx="2.8" ry="2.8" fill="#111" />
<path d="M707.8,1081.4H713.0M710.4,1081.4V1087.1M707.8,1087.1H713.0" stroke="#111" stroke-width="1.5" fill="none"/>
<ellipse cx="710.4" cy="1084.3" rx="2.8" ry="2.8" fill="#111" />
<path d="M712.5,1082.6H717.7M715.1,1082.6V1087.1M712.5,1087.1H717.7" stroke="#111" stroke-width="1.5" fill="none"/>
<ellipse cx="715.1" cy="1084.8" rx="2.8" ry="2.8" fill="#111" />
<path d="M717.3,1072.4H722.5M719.9,1072.4V1078.1M717.3,1078.1H722.5" stroke="#111" stroke-width="1.5" fill="none"/>
<ellipse cx="719.9" cy="1075.2" rx="2.8" ry="2.8" fill="#111" />
<path d="M722.1,1105.8H727.3M724.7,1105.8V1113.1M722.1,1113.1H727.3" stroke="#111" stroke-width="1.5" fill="none"/>
<ellipse cx="724.7" cy="1109.2" rx="2.8" ry="2.8" fill="#111" />
<path d="M726.9,1095.0H732.1M729.5,1095.0V1100.7M726.9,1100.7H732.1" stroke="#111" stroke-width="1.5" fill="none"/>
<ellipse cx="729.5" cy="1097.8" rx="2.8" ry="2.8" fill="#111" />
<path d="M731.7,1113.7H736.9M734.3,1113.7V1122.7M731.7,1122.7H736.9" stroke="#111" stroke-width="1.5" fill="none"/>
<ellipse cx="734.3" cy="1118.2" rx="2.8" ry="2.8" fill="#111" />
<path d="M741.2,1107.5H746.4M743.8,1107.5V1114.2M741.2,1114.2H746.4" stroke="#111" stroke-width="1.5" fill="none"/>
<ellipse cx="743.8" cy="1110.9" rx="2.8" ry="2.8" fill="#111" />
<text x="33.0" y="1143.6" font-family="'Liberation Serif', serif" font-size="22.6" text-anchor="middle" fill="#1a1a1a" font-weight="normal" transform="rotate(-90 33.0 1143.6)">Intensity ratio I/I<tspan font-size="15.5" dy="5">0</tspan></text>
<text x="403.0" y="1239.6" font-family="'Liberation Serif', serif" font-size="22" text-anchor="middle" fill="#1a1a1a" font-weight="normal" >Residue number</text>
<text x="66.9" y="990.0" font-family="'Liberation Serif', serif" font-size="15" text-anchor="middle" fill="#3a3a3a" font-weight="normal" >K</text>
<text x="66.9" y="1008.9" font-family="'Liberation Serif', serif" font-size="15" text-anchor="middle" fill="#3a3a3a" font-weight="normal" >10</text>
<text x="90.0" y="990.0" font-family="'Liberation Serif', serif" font-size="15" text-anchor="middle" fill="#3a3a3a" font-weight="normal" >A</text>
<text x="90.0" y="1008.9" font-family="'Liberation Serif', serif" font-size="15" text-anchor="middle" fill="#3a3a3a" font-weight="normal" >11</text>
<text x="113.6" y="990.0" font-family="'Liberation Serif', serif" font-size="15" text-anchor="middle" fill="#3a3a3a" font-weight="normal" >K</text>
<text x="113.6" y="1008.9" font-family="'Liberation Serif', serif" font-size="15" text-anchor="middle" fill="#3a3a3a" font-weight="normal" >12</text>
<text x="135.4" y="990.0" font-family="'Liberation Serif', serif" font-size="15" text-anchor="middle" fill="#3a3a3a" font-weight="normal" >E</text>
<text x="135.4" y="1008.9" font-family="'Liberation Serif', serif" font-size="15" text-anchor="middle" fill="#3a3a3a" font-weight="normal" >13</text>
<text x="166.2" y="990.0" font-family="'Liberation Serif', serif" font-size="15" text-anchor="middle" fill="#3a3a3a" font-weight="bold" >G/R</text>
<text x="163.6" y="1008.9" font-family="'Liberation Serif', serif" font-size="15" text-anchor="middle" fill="#3a3a3a" font-weight="bold" >14</text>
<text x="196.6" y="990.0" font-family="'Liberation Serif', serif" font-size="15" text-anchor="middle" fill="#3a3a3a" font-weight="normal" >V</text>
<text x="196.6" y="1008.9" font-family="'Liberation Serif', serif" font-size="15" text-anchor="middle" fill="#3a3a3a" font-weight="normal" >15</text>
<text x="220.3" y="990.0" font-family="'Liberation Serif', serif" font-size="15" text-anchor="middle" fill="#3a3a3a" font-weight="normal" >V</text>
<text x="220.3" y="1008.9" font-family="'Liberation Serif', serif" font-size="15" text-anchor="middle" fill="#3a3a3a" font-weight="normal" >16</text>
<text x="243.3" y="990.0" font-family="'Liberation Serif', serif" font-size="15" text-anchor="middle" fill="#3a3a3a" font-weight="normal" >A</text>
<text x="243.3" y="1008.9" font-family="'Liberation Serif', serif" font-size="15" text-anchor="middle" fill="#3a3a3a" font-weight="normal" >17</text>
<text x="267.0" y="990.0" font-family="'Liberation Serif', serif" font-size="15" text-anchor="middle" fill="#3a3a3a" font-weight="normal" >A</text>
<text x="267.0" y="1008.9" font-family="'Liberation Serif', serif" font-size="15" text-anchor="middle" fill="#3a3a3a" font-weight="normal" >18</text>
<text x="290.3" y="990.0" font-family="'Liberation Serif', serif" font-size="15" text-anchor="middle" fill="#3a3a3a" font-weight="normal" >A</text>
<text x="290.3" y="1008.9" font-family="'Liberation Serif', serif" font-size="15" text-anchor="middle" fill="#3a3a3a" font-weight="normal" >19</text>
<text x="313.3" y="990.0" font-family="'Liberation Serif', serif" font-size="15" text-anchor="middle" fill="#3a3a3a" font-weight="normal" >E</text>
<text x="313.3" y="1008.9" font-family="'Liberation Serif', serif" font-size="15" text-anchor="middle" fill="#3a3a3a" font-weight="normal" >20</text>
<text x="331.5" y="990.0" font-family="'Liberation Serif', serif" font-size="15" text-anchor="middle" fill="#3a3a3a" font-weight="normal" >K</text>
<text x="331.5" y="1008.9" font-family="'Liberation Serif', serif" font-size="15" text-anchor="middle" fill="#3a3a3a" font-weight="normal" >21</text>
<text x="353.7" y="990.0" font-family="'Liberation Serif', serif" font-size="15" text-anchor="middle" fill="#3a3a3a" font-weight="normal" >T</text>
<text x="353.7" y="1008.9" font-family="'Liberation Serif', serif" font-size="15" text-anchor="middle" fill="#3a3a3a" font-weight="normal" >22</text>
<path d="M62.1,1019.1 H84.5 L128,1054 M184.1,1054 L225.1,1019.1 H366" fill="none" stroke="#777" stroke-width="1"/>
</svg>
</body></html>
